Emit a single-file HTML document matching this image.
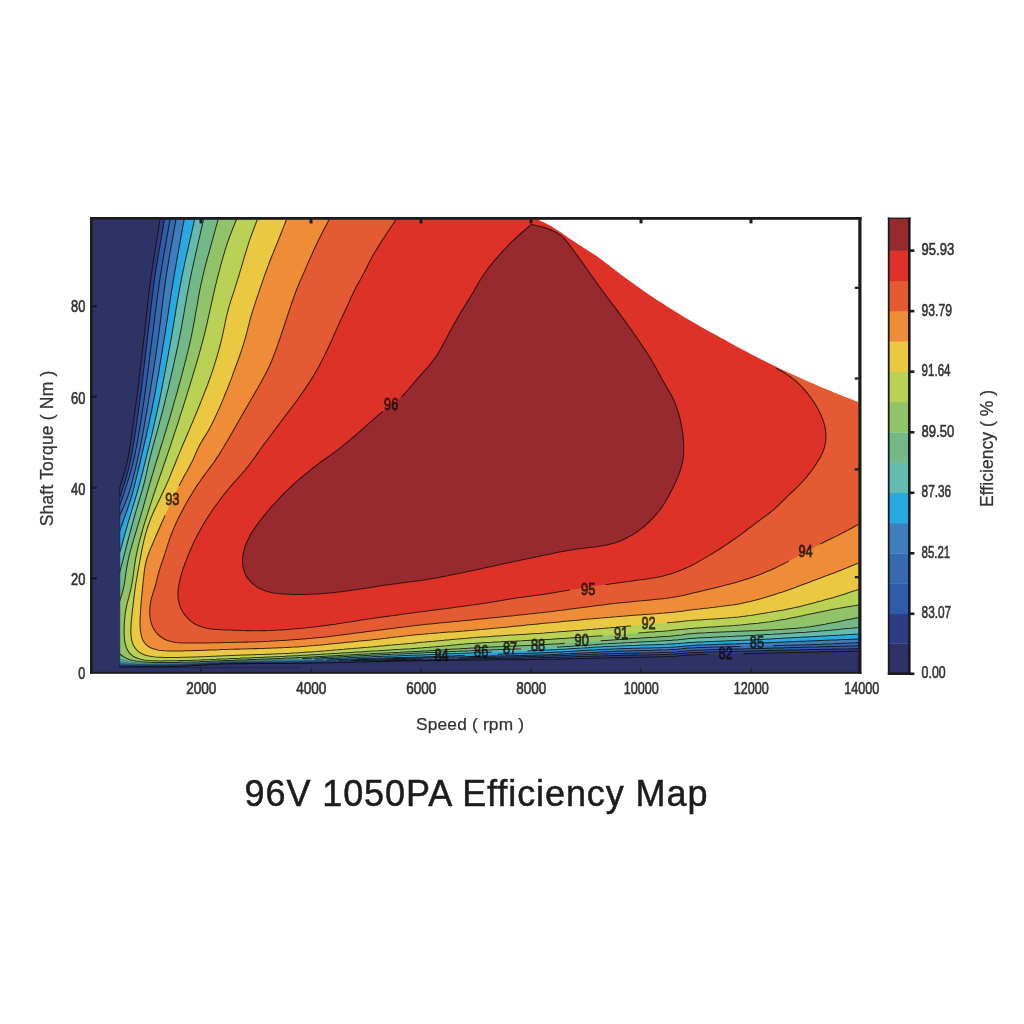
<!DOCTYPE html>
<html><head><meta charset="utf-8"><title>96V 1050PA Efficiency Map</title>
<style>html,body{margin:0;padding:0;background:#fff}svg{display:block}</style></head>
<body>
<svg width="1024" height="1024" viewBox="0 0 1024 1024">
<rect width="1024" height="1024" fill="#fff"/>
<clipPath id="pc"><rect x="91" y="218" width="769" height="455"/></clipPath>
<g clip-path="url(#pc)">
<rect x="91" y="218" width="769" height="455" fill="#2e3264"/>
<path d="M160.0 219.5 L159.5 222.5 L159.1 225.4 L158.6 228.4 L158.1 231.4 L157.6 234.4 L157.2 237.3 L156.7 240.3 L156.2 243.3 L155.7 246.2 L155.2 249.2 L154.8 252.2 L154.3 255.2 L153.8 258.1 L153.4 261.1 L152.9 264.1 L152.5 267.1 L152.0 270.0 L151.6 273.0 L151.2 276.0 L150.8 279.0 L150.4 282.0 L150.0 284.9 L149.6 287.9 L149.2 290.9 L148.9 293.9 L148.5 296.9 L148.2 299.9 L147.8 302.9 L147.5 305.9 L147.2 308.9 L146.9 311.8 L146.5 314.8 L146.2 317.8 L145.9 320.8 L145.6 323.8 L145.2 326.8 L144.9 329.8 L144.6 332.8 L144.2 335.8 L143.9 338.8 L143.5 341.8 L143.2 344.7 L142.8 347.7 L142.5 350.7 L142.1 353.7 L141.8 356.7 L141.4 359.7 L141.1 362.7 L140.7 365.7 L140.4 368.7 L140.0 371.6 L139.7 374.6 L139.3 377.6 L139.0 380.6 L138.6 383.6 L138.2 386.6 L137.9 389.6 L137.5 392.6 L137.1 395.5 L136.7 398.5 L136.3 401.5 L135.9 404.5 L135.5 407.5 L135.1 410.5 L134.7 413.4 L134.3 416.4 L133.9 419.4 L133.5 422.4 L133.1 425.4 L132.7 428.3 L132.3 431.3 L131.9 434.3 L131.5 437.3 L131.0 440.3 L130.6 443.2 L130.1 446.2 L129.6 449.2 L129.1 452.2 L128.6 455.1 L128.0 458.1 L127.4 461.0 L126.7 463.9 L126.0 466.8 L125.2 469.8 L124.4 472.6 L123.5 475.5 L122.7 478.4 L121.8 481.3 L120.9 484.2 L120.0 487.0 L119.7 488.0 L119.7 666.7 L122.7 666.7 L125.7 666.7 L128.7 666.8 L131.7 666.8 L134.7 666.8 L137.7 666.8 L140.7 666.8 L143.7 666.8 L146.7 666.8 L149.7 666.8 L152.7 666.8 L155.7 666.8 L158.7 666.8 L161.7 666.7 L164.7 666.7 L167.7 666.7 L170.7 666.6 L173.7 666.5 L176.7 666.5 L179.7 666.4 L182.7 666.2 L185.7 666.1 L188.7 665.9 L191.7 665.8 L194.7 665.6 L197.7 665.4 L200.7 665.2 L203.7 665.1 L206.7 664.9 L209.7 664.7 L212.7 664.6 L215.6 664.4 L218.6 664.3 L221.6 664.1 L224.6 664.0 L227.6 663.9 L230.6 663.8 L233.6 663.8 L236.6 663.7 L239.6 663.7 L242.6 663.6 L245.6 663.6 L248.6 663.6 L251.6 663.5 L254.6 663.5 L257.6 663.5 L260.6 663.5 L263.6 663.5 L266.6 663.5 L269.6 663.5 L272.6 663.5 L275.6 663.5 L278.6 663.5 L281.6 663.4 L284.6 663.4 L287.6 663.4 L290.6 663.4 L293.6 663.4 L296.6 663.3 L299.6 663.3 L302.6 663.3 L305.6 663.2 L308.6 663.2 L311.6 663.1 L314.6 663.0 L317.6 663.0 L320.6 662.9 L323.6 662.9 L326.6 662.8 L329.6 662.7 L332.6 662.7 L335.6 662.6 L338.6 662.5 L341.6 662.5 L344.6 662.4 L347.6 662.3 L350.6 662.2 L353.6 662.2 L356.6 662.1 L359.6 662.0 L362.6 662.0 L365.6 661.9 L368.6 661.8 L371.6 661.8 L374.6 661.7 L377.6 661.6 L380.6 661.6 L383.6 661.5 L386.6 661.4 L389.6 661.3 L392.6 661.3 L395.6 661.2 L398.6 661.1 L401.6 661.1 L404.6 661.0 L407.6 660.9 L410.6 660.9 L413.6 660.8 L416.6 660.8 L419.6 660.7 L422.6 660.7 L425.6 660.6 L428.6 660.6 L431.6 660.5 L434.6 660.5 L437.6 660.4 L440.6 660.4 L443.6 660.4 L446.6 660.3 L449.6 660.3 L452.6 660.3 L455.6 660.2 L458.6 660.2 L461.6 660.2 L464.6 660.1 L467.6 660.1 L470.6 660.1 L473.6 660.0 L476.6 660.0 L479.6 660.0 L482.6 659.9 L485.6 659.9 L488.6 659.9 L491.6 659.9 L494.6 659.8 L497.6 659.8 L500.6 659.8 L503.6 659.8 L506.6 659.7 L509.6 659.7 L512.6 659.7 L515.6 659.7 L518.6 659.6 L521.6 659.6 L524.6 659.6 L527.6 659.6 L530.6 659.5 L533.6 659.5 L536.6 659.5 L539.6 659.4 L542.6 659.4 L545.6 659.3 L548.6 659.3 L551.6 659.2 L554.6 659.2 L557.6 659.1 L560.6 659.1 L563.6 659.0 L566.6 658.9 L569.6 658.8 L572.6 658.8 L575.6 658.7 L578.6 658.6 L581.6 658.5 L584.6 658.5 L587.6 658.4 L590.6 658.3 L593.6 658.2 L596.6 658.1 L599.6 658.1 L602.6 658.0 L605.6 657.9 L608.6 657.8 L611.6 657.8 L614.6 657.7 L617.6 657.6 L620.6 657.6 L623.6 657.5 L626.6 657.5 L629.6 657.4 L632.6 657.3 L635.6 657.3 L638.6 657.2 L641.6 657.2 L644.6 657.1 L647.6 657.1 L650.6 657.0 L653.6 657.0 L656.6 656.9 L659.6 656.8 L662.6 656.7 L665.6 656.7 L668.6 656.6 L671.6 656.4 L674.6 656.3 L677.6 656.1 L680.6 655.8 L683.6 655.6 L686.5 655.3 L689.5 655.1 L692.5 654.9 L695.5 654.8 L698.5 654.6 L701.5 654.5 L704.5 654.5 L707.5 654.4 L710.5 654.3 L713.5 654.2 L716.5 654.2 L719.5 654.1 L722.5 654.0 L725.5 654.0 L728.5 653.9 L731.5 653.9 L734.5 653.8 L737.5 653.8 L740.5 653.7 L743.5 653.6 L746.5 653.6 L749.5 653.5 L752.5 653.5 L755.5 653.4 L758.5 653.3 L761.5 653.3 L764.5 653.2 L767.5 653.1 L770.5 653.0 L773.5 653.0 L776.5 652.9 L779.5 652.8 L782.5 652.7 L785.5 652.7 L788.5 652.6 L791.5 652.5 L794.5 652.4 L797.5 652.4 L800.5 652.3 L803.5 652.2 L806.5 652.2 L809.5 652.1 L812.5 652.0 L815.5 652.0 L818.5 651.9 L821.5 651.8 L824.5 651.8 L827.5 651.7 L830.5 651.7 L833.5 651.6 L836.5 651.6 L839.5 651.5 L842.5 651.5 L845.5 651.4 L848.5 651.4 L851.5 651.3 L854.5 651.3 L857.5 651.2 L858.5 651.2 L858.5 219.5Z" fill="#303c82"/>
<path d="M164.4 219.5 L163.9 222.5 L163.4 225.4 L162.9 228.4 L162.4 231.3 L161.9 234.3 L161.4 237.2 L160.9 240.2 L160.4 243.2 L159.9 246.1 L159.3 249.1 L158.8 252.0 L158.3 255.0 L157.9 257.9 L157.4 260.9 L156.9 263.9 L156.4 266.8 L155.9 269.8 L155.5 272.8 L155.0 275.7 L154.6 278.7 L154.2 281.7 L153.8 284.6 L153.4 287.6 L153.0 290.6 L152.6 293.6 L152.3 296.5 L151.9 299.5 L151.5 302.5 L151.2 305.5 L150.8 308.5 L150.5 311.4 L150.2 314.4 L149.8 317.4 L149.5 320.4 L149.2 323.4 L148.8 326.3 L148.5 329.3 L148.1 332.3 L147.8 335.3 L147.5 338.3 L147.1 341.2 L146.7 344.2 L146.4 347.2 L146.0 350.2 L145.7 353.2 L145.3 356.1 L145.0 359.1 L144.6 362.1 L144.3 365.1 L143.9 368.1 L143.6 371.0 L143.2 374.0 L142.9 377.0 L142.5 380.0 L142.1 383.0 L141.8 385.9 L141.4 388.9 L141.0 391.9 L140.6 394.9 L140.2 397.8 L139.8 400.8 L139.4 403.8 L139.0 406.7 L138.6 409.7 L138.2 412.7 L137.8 415.7 L137.3 418.6 L136.9 421.6 L136.5 424.6 L136.0 427.5 L135.6 430.5 L135.1 433.5 L134.7 436.4 L134.2 439.4 L133.7 442.4 L133.2 445.3 L132.7 448.3 L132.2 451.2 L131.7 454.2 L131.1 457.1 L130.5 460.1 L129.9 463.0 L129.2 465.9 L128.5 468.8 L127.8 471.7 L127.0 474.6 L126.2 477.5 L125.3 480.4 L124.4 483.3 L123.5 486.1 L122.6 489.0 L121.6 491.8 L120.7 494.7 L119.7 497.5 L119.7 497.5 L119.7 666.0 L122.7 666.1 L125.7 666.1 L128.7 666.2 L131.7 666.2 L134.7 666.2 L137.7 666.3 L140.7 666.3 L143.7 666.3 L146.7 666.3 L149.7 666.3 L152.7 666.3 L155.7 666.3 L158.7 666.3 L161.7 666.3 L164.7 666.2 L167.7 666.2 L170.7 666.1 L173.7 666.0 L176.7 666.0 L179.7 665.9 L182.7 665.7 L185.7 665.6 L188.7 665.5 L191.7 665.3 L194.7 665.1 L197.7 665.0 L200.7 664.8 L203.7 664.6 L206.7 664.5 L209.7 664.3 L212.7 664.1 L215.7 664.0 L218.7 663.9 L221.6 663.7 L224.6 663.6 L227.6 663.5 L230.6 663.4 L233.6 663.4 L236.6 663.3 L239.6 663.3 L242.6 663.2 L245.6 663.2 L248.6 663.2 L251.6 663.1 L254.6 663.1 L257.6 663.1 L260.6 663.1 L263.6 663.1 L266.6 663.1 L269.6 663.0 L272.6 663.0 L275.6 663.0 L278.6 663.0 L281.6 663.0 L284.6 663.0 L287.6 663.0 L290.6 662.9 L293.6 662.9 L296.7 662.8 L299.7 662.8 L302.6 662.7 L305.6 662.7 L308.6 662.6 L311.6 662.6 L314.6 662.5 L317.6 662.4 L320.6 662.3 L323.6 662.3 L326.6 662.2 L329.6 662.1 L332.6 662.0 L335.6 661.9 L338.6 661.8 L341.6 661.8 L344.6 661.7 L347.6 661.6 L350.6 661.5 L353.6 661.4 L356.6 661.3 L359.6 661.3 L362.6 661.2 L365.6 661.1 L368.6 661.0 L371.6 661.0 L374.6 660.9 L377.6 660.8 L380.6 660.8 L383.6 660.7 L386.6 660.6 L389.6 660.6 L392.6 660.5 L395.6 660.5 L398.6 660.4 L401.6 660.4 L404.6 660.3 L407.6 660.2 L410.6 660.2 L413.6 660.1 L416.6 660.1 L419.6 660.0 L422.6 659.9 L425.6 659.9 L428.6 659.8 L431.6 659.8 L434.6 659.7 L437.6 659.6 L440.6 659.6 L443.6 659.5 L446.6 659.4 L449.6 659.4 L452.6 659.3 L455.6 659.2 L458.6 659.2 L461.6 659.1 L464.6 659.0 L467.6 659.0 L470.6 658.9 L473.6 658.8 L476.6 658.8 L479.6 658.7 L482.6 658.7 L485.6 658.6 L488.6 658.6 L491.6 658.5 L494.6 658.5 L497.6 658.4 L500.6 658.4 L503.6 658.3 L506.6 658.3 L509.6 658.2 L512.6 658.2 L515.6 658.1 L518.6 658.1 L521.6 658.0 L524.6 658.0 L527.6 657.9 L530.6 657.9 L533.6 657.8 L536.6 657.7 L539.6 657.7 L542.6 657.6 L545.6 657.6 L548.6 657.5 L551.6 657.4 L554.6 657.3 L557.6 657.2 L560.6 657.2 L563.6 657.1 L566.6 657.0 L569.6 656.9 L572.6 656.8 L575.6 656.7 L578.6 656.6 L581.6 656.5 L584.6 656.4 L587.6 656.3 L590.6 656.2 L593.6 656.1 L596.6 656.1 L599.6 656.0 L602.6 655.9 L605.6 655.8 L608.6 655.7 L611.6 655.6 L614.6 655.5 L617.6 655.5 L620.6 655.4 L623.6 655.3 L626.6 655.3 L629.6 655.2 L632.6 655.1 L635.6 655.1 L638.6 655.0 L641.6 655.0 L644.6 654.9 L647.6 654.9 L650.6 654.8 L653.6 654.7 L656.6 654.7 L659.6 654.6 L662.6 654.5 L665.6 654.4 L668.6 654.3 L671.6 654.2 L674.6 654.0 L677.6 653.8 L680.6 653.6 L683.6 653.3 L686.5 653.1 L689.5 652.8 L692.5 652.6 L695.5 652.5 L698.5 652.4 L701.5 652.3 L704.5 652.2 L707.5 652.1 L710.5 652.0 L713.5 651.9 L716.5 651.8 L719.5 651.7 L722.5 651.7 L725.5 651.6 L728.5 651.5 L731.5 651.5 L734.5 651.4 L737.5 651.3 L740.5 651.3 L743.5 651.2 L746.5 651.1 L749.5 651.1 L752.5 651.0 L755.5 650.9 L758.5 650.8 L761.5 650.8 L764.5 650.7 L767.5 650.6 L770.5 650.5 L773.5 650.5 L776.5 650.4 L779.5 650.3 L782.5 650.2 L785.5 650.2 L788.5 650.1 L791.5 650.0 L794.5 649.9 L797.5 649.9 L800.5 649.8 L803.5 649.7 L806.5 649.7 L809.5 649.6 L812.5 649.5 L815.5 649.5 L818.5 649.4 L821.5 649.3 L824.5 649.3 L827.5 649.2 L830.5 649.2 L833.5 649.1 L836.5 649.1 L839.5 649.0 L842.5 649.0 L845.5 648.9 L848.5 648.9 L851.5 648.8 L854.5 648.8 L857.5 648.7 L858.5 648.7 L858.5 219.5Z" fill="#2f5ca8"/>
<path d="M170.0 219.5 L169.5 222.5 L169.0 225.4 L168.5 228.4 L168.0 231.3 L167.4 234.3 L166.9 237.2 L166.4 240.2 L165.9 243.1 L165.4 246.1 L164.9 249.1 L164.3 252.0 L163.8 255.0 L163.3 257.9 L162.8 260.9 L162.3 263.8 L161.8 266.8 L161.4 269.8 L160.9 272.7 L160.4 275.7 L160.0 278.7 L159.5 281.6 L159.1 284.6 L158.7 287.6 L158.3 290.5 L157.8 293.5 L157.4 296.5 L157.0 299.5 L156.7 302.4 L156.3 305.4 L155.9 308.4 L155.5 311.4 L155.1 314.3 L154.8 317.3 L154.4 320.3 L154.0 323.3 L153.7 326.2 L153.3 329.2 L152.9 332.2 L152.5 335.2 L152.1 338.1 L151.8 341.1 L151.4 344.1 L151.0 347.1 L150.6 350.1 L150.2 353.0 L149.9 356.0 L149.5 359.0 L149.1 362.0 L148.7 364.9 L148.4 367.9 L148.0 370.9 L147.6 373.9 L147.2 376.8 L146.9 379.8 L146.5 382.8 L146.1 385.8 L145.7 388.7 L145.3 391.7 L144.8 394.7 L144.4 397.7 L144.0 400.6 L143.5 403.6 L143.1 406.6 L142.6 409.5 L142.2 412.5 L141.7 415.4 L141.3 418.4 L140.8 421.4 L140.3 424.3 L139.8 427.3 L139.3 430.3 L138.8 433.2 L138.3 436.2 L137.8 439.1 L137.3 442.1 L136.7 445.0 L136.2 448.0 L135.6 450.9 L135.0 453.9 L134.4 456.8 L133.7 459.7 L133.0 462.6 L132.3 465.6 L131.6 468.5 L130.8 471.4 L129.9 474.2 L129.1 477.1 L128.2 480.0 L127.3 482.8 L126.4 485.7 L125.5 488.6 L124.6 491.4 L123.6 494.2 L122.6 497.1 L121.7 499.9 L120.7 502.8 L119.7 505.6 L119.7 505.6 L119.7 665.3 L122.7 665.4 L125.7 665.5 L128.7 665.6 L131.7 665.6 L134.7 665.7 L137.7 665.8 L140.7 665.8 L143.7 665.8 L146.7 665.8 L149.7 665.8 L152.7 665.8 L155.7 665.8 L158.7 665.8 L161.7 665.8 L164.7 665.7 L167.7 665.7 L170.7 665.6 L173.7 665.5 L176.7 665.5 L179.7 665.4 L182.7 665.3 L185.7 665.1 L188.7 665.0 L191.7 664.8 L194.7 664.7 L197.7 664.5 L200.7 664.4 L203.7 664.2 L206.7 664.0 L209.7 663.9 L212.7 663.7 L215.7 663.6 L218.7 663.5 L221.7 663.3 L224.7 663.2 L227.7 663.1 L230.7 663.0 L233.7 663.0 L236.7 662.9 L239.7 662.8 L242.7 662.8 L245.7 662.8 L248.7 662.7 L251.7 662.7 L254.7 662.7 L257.7 662.6 L260.7 662.6 L263.7 662.6 L266.7 662.6 L269.7 662.5 L272.7 662.5 L275.7 662.5 L278.7 662.5 L281.7 662.5 L284.7 662.4 L287.7 662.4 L290.7 662.4 L293.7 662.3 L296.7 662.3 L299.7 662.2 L302.7 662.1 L305.7 662.1 L308.7 662.0 L311.7 661.9 L314.7 661.8 L317.7 661.8 L320.7 661.7 L323.7 661.6 L326.7 661.5 L329.7 661.4 L332.7 661.3 L335.7 661.2 L338.7 661.1 L341.7 661.0 L344.7 661.0 L347.7 660.9 L350.7 660.8 L353.7 660.7 L356.7 660.6 L359.7 660.5 L362.7 660.4 L365.7 660.3 L368.7 660.2 L371.7 660.2 L374.7 660.1 L377.7 660.0 L380.7 659.9 L383.7 659.9 L386.7 659.8 L389.7 659.7 L392.7 659.6 L395.7 659.6 L398.7 659.5 L401.7 659.4 L404.7 659.4 L407.7 659.3 L410.6 659.2 L413.6 659.1 L416.6 659.1 L419.6 659.0 L422.6 658.9 L425.6 658.9 L428.6 658.8 L431.6 658.7 L434.6 658.7 L437.6 658.6 L440.6 658.5 L443.6 658.4 L446.6 658.4 L449.6 658.3 L452.6 658.2 L455.6 658.2 L458.6 658.1 L461.6 658.0 L464.6 658.0 L467.6 657.9 L470.6 657.8 L473.6 657.8 L476.6 657.7 L479.6 657.6 L482.6 657.5 L485.6 657.5 L488.6 657.4 L491.6 657.3 L494.6 657.3 L497.6 657.2 L500.6 657.2 L503.6 657.1 L506.6 657.0 L509.6 657.0 L512.6 656.9 L515.6 656.8 L518.6 656.8 L521.6 656.7 L524.6 656.6 L527.6 656.5 L530.6 656.5 L533.6 656.4 L536.6 656.3 L539.6 656.2 L542.6 656.2 L545.6 656.1 L548.6 656.0 L551.6 655.9 L554.6 655.8 L557.6 655.7 L560.6 655.6 L563.6 655.5 L566.6 655.4 L569.6 655.3 L572.6 655.1 L575.6 655.0 L578.6 654.9 L581.6 654.8 L584.6 654.7 L587.6 654.6 L590.6 654.5 L593.6 654.3 L596.6 654.2 L599.6 654.1 L602.6 654.0 L605.6 653.9 L608.6 653.8 L611.6 653.7 L614.6 653.6 L617.6 653.5 L620.6 653.5 L623.6 653.4 L626.6 653.3 L629.6 653.3 L632.6 653.2 L635.6 653.1 L638.6 653.1 L641.6 653.0 L644.6 653.0 L647.6 652.9 L650.6 652.8 L653.6 652.8 L656.6 652.7 L659.6 652.6 L662.6 652.5 L665.6 652.4 L668.6 652.3 L671.6 652.2 L674.6 652.0 L677.6 651.8 L680.6 651.5 L683.6 651.2 L686.6 650.9 L689.5 650.7 L692.5 650.5 L695.5 650.3 L698.5 650.2 L701.5 650.1 L704.5 650.0 L707.5 649.9 L710.5 649.8 L713.5 649.7 L716.5 649.6 L719.5 649.5 L722.5 649.4 L725.5 649.4 L728.5 649.3 L731.5 649.2 L734.5 649.1 L737.5 649.1 L740.5 649.0 L743.5 648.9 L746.5 648.8 L749.5 648.8 L752.5 648.7 L755.5 648.6 L758.5 648.5 L761.5 648.5 L764.5 648.4 L767.5 648.3 L770.5 648.2 L773.5 648.1 L776.5 648.0 L779.5 648.0 L782.5 647.9 L785.5 647.8 L788.5 647.7 L791.5 647.6 L794.5 647.5 L797.5 647.5 L800.5 647.4 L803.5 647.3 L806.5 647.2 L809.5 647.1 L812.5 647.0 L815.5 647.0 L818.5 646.9 L821.5 646.8 L824.5 646.7 L827.5 646.6 L830.5 646.6 L833.5 646.5 L836.5 646.4 L839.5 646.3 L842.5 646.2 L845.5 646.2 L848.5 646.1 L851.5 646.0 L854.5 645.9 L857.5 645.8 L858.5 645.8 L858.5 219.5Z" fill="#3769b1"/>
<path d="M175.9 219.5 L175.4 222.5 L174.9 225.4 L174.4 228.4 L173.8 231.3 L173.3 234.3 L172.8 237.2 L172.3 240.2 L171.8 243.2 L171.2 246.1 L170.7 249.1 L170.2 252.0 L169.7 255.0 L169.2 257.9 L168.7 260.9 L168.2 263.9 L167.7 266.8 L167.2 269.8 L166.7 272.7 L166.3 275.7 L165.8 278.7 L165.4 281.6 L165.0 284.6 L164.6 287.6 L164.2 290.6 L163.8 293.5 L163.4 296.5 L163.0 299.5 L162.7 302.5 L162.3 305.5 L161.9 308.4 L161.6 311.4 L161.2 314.4 L160.9 317.4 L160.5 320.4 L160.2 323.3 L159.8 326.3 L159.4 329.3 L159.0 332.3 L158.6 335.3 L158.2 338.2 L157.8 341.2 L157.4 344.2 L157.0 347.1 L156.5 350.1 L156.1 353.1 L155.7 356.1 L155.2 359.0 L154.8 362.0 L154.3 365.0 L153.9 367.9 L153.4 370.9 L152.9 373.9 L152.5 376.8 L152.0 379.8 L151.5 382.7 L151.0 385.7 L150.6 388.7 L150.1 391.6 L149.6 394.6 L149.1 397.6 L148.6 400.5 L148.1 403.5 L147.6 406.4 L147.1 409.4 L146.6 412.3 L146.0 415.3 L145.5 418.3 L145.0 421.2 L144.5 424.2 L144.0 427.1 L143.4 430.1 L142.9 433.0 L142.4 436.0 L141.8 438.9 L141.2 441.9 L140.7 444.8 L140.1 447.8 L139.5 450.7 L138.9 453.7 L138.2 456.6 L137.6 459.5 L136.9 462.4 L136.2 465.4 L135.6 468.3 L134.8 471.2 L134.1 474.1 L133.4 477.0 L132.6 479.9 L131.9 482.8 L131.1 485.7 L130.2 488.6 L129.4 491.5 L128.4 494.3 L127.5 497.2 L126.4 500.0 L125.3 502.8 L124.2 505.5 L123.0 508.3 L121.8 511.0 L120.5 513.8 L119.7 515.6 L119.7 664.5 L122.7 664.6 L125.7 664.7 L128.7 664.9 L131.7 665.0 L134.7 665.1 L137.7 665.1 L140.7 665.2 L143.7 665.2 L146.7 665.3 L149.7 665.3 L152.7 665.3 L155.7 665.3 L158.7 665.3 L161.7 665.2 L164.7 665.2 L167.7 665.2 L170.7 665.1 L173.7 665.0 L176.7 665.0 L179.7 664.9 L182.7 664.8 L185.7 664.7 L188.7 664.5 L191.7 664.4 L194.7 664.2 L197.7 664.1 L200.7 663.9 L203.7 663.8 L206.7 663.6 L209.7 663.5 L212.7 663.3 L215.7 663.2 L218.7 663.1 L221.7 662.9 L224.7 662.8 L227.7 662.7 L230.7 662.6 L233.7 662.6 L236.7 662.5 L239.7 662.4 L242.7 662.4 L245.7 662.3 L248.7 662.3 L251.7 662.2 L254.7 662.2 L257.7 662.1 L260.7 662.1 L263.7 662.1 L266.7 662.0 L269.7 662.0 L272.7 662.0 L275.7 661.9 L278.7 661.9 L281.7 661.8 L284.7 661.8 L287.7 661.7 L290.7 661.7 L293.7 661.6 L296.7 661.6 L299.7 661.5 L302.7 661.4 L305.7 661.4 L308.7 661.3 L311.7 661.2 L314.7 661.1 L317.7 661.0 L320.7 660.9 L323.7 660.8 L326.7 660.7 L329.7 660.6 L332.7 660.5 L335.7 660.4 L338.7 660.3 L341.7 660.2 L344.7 660.1 L347.7 660.0 L350.7 659.9 L353.7 659.8 L356.7 659.7 L359.7 659.6 L362.7 659.5 L365.7 659.4 L368.7 659.3 L371.7 659.3 L374.7 659.2 L377.7 659.1 L380.7 659.0 L383.7 658.9 L386.7 658.8 L389.7 658.8 L392.7 658.7 L395.7 658.6 L398.7 658.5 L401.7 658.5 L404.7 658.4 L407.7 658.3 L410.7 658.2 L413.7 658.2 L416.7 658.1 L419.7 658.0 L422.7 657.9 L425.7 657.8 L428.7 657.8 L431.7 657.7 L434.7 657.6 L437.7 657.5 L440.7 657.4 L443.7 657.4 L446.7 657.3 L449.7 657.2 L452.7 657.1 L455.7 657.0 L458.7 657.0 L461.7 656.9 L464.7 656.8 L467.7 656.7 L470.7 656.6 L473.7 656.6 L476.7 656.5 L479.7 656.4 L482.7 656.3 L485.7 656.3 L488.7 656.2 L491.7 656.1 L494.7 656.1 L497.7 656.0 L500.7 655.9 L503.7 655.9 L506.7 655.8 L509.7 655.8 L512.7 655.7 L515.7 655.6 L518.7 655.5 L521.7 655.5 L524.7 655.4 L527.7 655.3 L530.7 655.2 L533.7 655.2 L536.7 655.1 L539.7 655.0 L542.7 654.9 L545.7 654.8 L548.7 654.7 L551.7 654.5 L554.7 654.4 L557.7 654.3 L560.7 654.1 L563.7 654.0 L566.7 653.8 L569.7 653.7 L572.7 653.5 L575.7 653.4 L578.6 653.2 L581.6 653.0 L584.6 652.9 L587.6 652.7 L590.6 652.6 L593.6 652.4 L596.6 652.2 L599.6 652.1 L602.6 651.9 L605.6 651.8 L608.6 651.7 L611.6 651.5 L614.6 651.4 L617.6 651.3 L620.6 651.2 L623.6 651.1 L626.6 651.0 L629.6 650.9 L632.6 650.8 L635.6 650.8 L638.6 650.7 L641.6 650.6 L644.6 650.5 L647.6 650.4 L650.6 650.4 L653.6 650.3 L656.6 650.2 L659.6 650.1 L662.6 650.0 L665.6 649.9 L668.6 649.8 L671.6 649.6 L674.6 649.4 L677.6 649.2 L680.6 648.9 L683.6 648.6 L686.6 648.3 L689.5 648.1 L692.5 647.9 L695.5 647.7 L698.5 647.6 L701.5 647.5 L704.5 647.4 L707.5 647.3 L710.5 647.2 L713.5 647.1 L716.5 647.0 L719.5 647.0 L722.5 646.9 L725.5 646.8 L728.5 646.7 L731.5 646.7 L734.5 646.6 L737.5 646.5 L740.5 646.5 L743.5 646.4 L746.5 646.3 L749.5 646.3 L752.5 646.2 L755.5 646.1 L758.5 646.0 L761.5 646.0 L764.5 645.9 L767.5 645.8 L770.5 645.7 L773.5 645.6 L776.5 645.6 L779.5 645.5 L782.5 645.4 L785.5 645.3 L788.5 645.3 L791.5 645.2 L794.5 645.1 L797.5 645.0 L800.5 644.9 L803.5 644.9 L806.5 644.8 L809.5 644.7 L812.5 644.6 L815.5 644.5 L818.5 644.4 L821.5 644.3 L824.5 644.1 L827.5 644.0 L830.5 643.9 L833.5 643.8 L836.5 643.6 L839.5 643.5 L842.5 643.3 L845.5 643.2 L848.5 643.1 L851.5 642.9 L854.5 642.8 L857.5 642.6 L858.5 642.6 L858.5 219.5Z" fill="#3e7dbe"/>
<path d="M184.1 219.5 L183.6 222.5 L183.0 225.4 L182.5 228.4 L182.0 231.3 L181.5 234.3 L180.9 237.2 L180.4 240.2 L179.9 243.2 L179.3 246.1 L178.8 249.1 L178.3 252.0 L177.7 255.0 L177.2 258.0 L176.7 260.9 L176.2 263.9 L175.7 266.8 L175.1 269.8 L174.6 272.8 L174.1 275.7 L173.6 278.7 L173.1 281.7 L172.7 284.6 L172.2 287.6 L171.7 290.6 L171.2 293.5 L170.8 296.5 L170.3 299.5 L169.8 302.4 L169.4 305.4 L168.9 308.4 L168.5 311.3 L168.0 314.3 L167.6 317.3 L167.1 320.3 L166.7 323.2 L166.2 326.2 L165.7 329.2 L165.3 332.1 L164.8 335.1 L164.3 338.1 L163.8 341.0 L163.3 344.0 L162.9 347.0 L162.4 349.9 L161.9 352.9 L161.4 355.9 L160.9 358.8 L160.4 361.8 L159.9 364.8 L159.5 367.7 L159.0 370.7 L158.5 373.7 L158.0 376.6 L157.4 379.6 L156.9 382.5 L156.4 385.5 L155.9 388.5 L155.4 391.4 L154.8 394.4 L154.3 397.3 L153.7 400.3 L153.1 403.2 L152.5 406.2 L152.0 409.1 L151.4 412.1 L150.7 415.0 L150.1 418.0 L149.5 420.9 L148.9 423.8 L148.2 426.8 L147.6 429.7 L146.9 432.6 L146.3 435.6 L145.6 438.5 L144.9 441.4 L144.2 444.4 L143.6 447.3 L142.9 450.2 L142.2 453.1 L141.5 456.1 L140.8 459.0 L140.2 461.9 L139.5 464.8 L138.8 467.8 L138.1 470.7 L137.4 473.6 L136.7 476.5 L136.0 479.5 L135.3 482.4 L134.5 485.3 L133.8 488.2 L133.0 491.1 L132.2 494.0 L131.4 496.9 L130.5 499.8 L129.6 502.6 L128.7 505.5 L127.7 508.3 L126.7 511.2 L125.7 514.0 L124.7 516.8 L123.7 519.7 L122.7 522.5 L121.7 525.3 L120.7 528.2 L119.7 531.0 L119.7 531.0 L119.7 663.4 L122.7 663.6 L125.7 663.8 L128.7 663.9 L131.7 664.1 L134.7 664.3 L137.7 664.4 L140.7 664.5 L143.7 664.6 L146.7 664.6 L149.7 664.7 L152.7 664.7 L155.7 664.7 L158.7 664.7 L161.7 664.7 L164.7 664.7 L167.7 664.6 L170.7 664.6 L173.7 664.5 L176.7 664.5 L179.7 664.4 L182.7 664.3 L185.7 664.2 L188.7 664.1 L191.7 663.9 L194.7 663.8 L197.7 663.7 L200.7 663.5 L203.7 663.4 L206.7 663.2 L209.7 663.1 L212.7 662.9 L215.7 662.8 L218.7 662.7 L221.7 662.5 L224.7 662.4 L227.7 662.3 L230.7 662.2 L233.7 662.1 L236.7 662.1 L239.7 662.0 L242.7 661.9 L245.7 661.9 L248.7 661.8 L251.7 661.7 L254.7 661.7 L257.7 661.6 L260.7 661.6 L263.7 661.5 L266.7 661.5 L269.7 661.4 L272.7 661.4 L275.7 661.3 L278.7 661.3 L281.7 661.2 L284.7 661.2 L287.7 661.1 L290.7 661.0 L293.7 661.0 L296.7 660.9 L299.7 660.8 L302.7 660.7 L305.7 660.6 L308.7 660.5 L311.7 660.4 L314.7 660.3 L317.7 660.2 L320.7 660.1 L323.7 660.0 L326.7 659.9 L329.7 659.8 L332.7 659.7 L335.7 659.6 L338.7 659.4 L341.7 659.3 L344.7 659.2 L347.7 659.1 L350.7 659.0 L353.7 658.9 L356.7 658.8 L359.7 658.6 L362.7 658.5 L365.7 658.4 L368.7 658.3 L371.7 658.3 L374.7 658.2 L377.7 658.1 L380.7 658.0 L383.7 657.9 L386.7 657.8 L389.7 657.8 L392.7 657.7 L395.7 657.6 L398.7 657.6 L401.7 657.5 L404.7 657.4 L407.7 657.3 L410.7 657.3 L413.7 657.2 L416.7 657.1 L419.7 657.0 L422.7 656.9 L425.7 656.8 L428.7 656.7 L431.7 656.6 L434.7 656.5 L437.7 656.4 L440.7 656.3 L443.7 656.2 L446.7 656.1 L449.7 656.0 L452.7 655.9 L455.7 655.7 L458.7 655.6 L461.7 655.5 L464.7 655.4 L467.7 655.3 L470.7 655.2 L473.7 655.1 L476.7 655.0 L479.7 654.9 L482.7 654.8 L485.7 654.7 L488.7 654.6 L491.7 654.5 L494.7 654.4 L497.7 654.3 L500.7 654.2 L503.7 654.1 L506.7 654.0 L509.7 653.9 L512.7 653.8 L515.7 653.7 L518.7 653.6 L521.7 653.5 L524.7 653.4 L527.7 653.3 L530.7 653.2 L533.7 653.1 L536.7 653.0 L539.7 652.8 L542.7 652.7 L545.7 652.6 L548.7 652.5 L551.7 652.3 L554.7 652.2 L557.7 652.0 L560.7 651.9 L563.7 651.7 L566.7 651.5 L569.7 651.4 L572.7 651.2 L575.6 651.0 L578.6 650.8 L581.6 650.6 L584.6 650.5 L587.6 650.3 L590.6 650.1 L593.6 649.9 L596.6 649.8 L599.6 649.6 L602.6 649.5 L605.6 649.3 L608.6 649.2 L611.6 649.0 L614.6 648.9 L617.6 648.8 L620.6 648.7 L623.6 648.6 L626.6 648.5 L629.6 648.4 L632.6 648.3 L635.6 648.3 L638.6 648.2 L641.6 648.1 L644.6 648.0 L647.6 648.0 L650.6 647.9 L653.6 647.8 L656.6 647.7 L659.6 647.7 L662.6 647.6 L665.6 647.5 L668.6 647.4 L671.6 647.2 L674.6 647.0 L677.6 646.8 L680.6 646.5 L683.6 646.2 L686.6 645.9 L689.6 645.7 L692.5 645.5 L695.5 645.3 L698.5 645.1 L701.5 645.0 L704.5 644.9 L707.5 644.8 L710.5 644.7 L713.5 644.5 L716.5 644.4 L719.5 644.3 L722.5 644.2 L725.5 644.1 L728.5 644.1 L731.5 644.0 L734.5 643.9 L737.5 643.8 L740.5 643.7 L743.5 643.6 L746.5 643.5 L749.5 643.4 L752.5 643.3 L755.5 643.2 L758.5 643.1 L761.5 642.9 L764.5 642.8 L767.5 642.7 L770.5 642.6 L773.5 642.5 L776.5 642.3 L779.5 642.2 L782.5 642.1 L785.5 642.0 L788.5 641.8 L791.5 641.7 L794.5 641.6 L797.5 641.5 L800.5 641.3 L803.5 641.2 L806.5 641.1 L809.5 640.9 L812.5 640.8 L815.5 640.7 L818.5 640.6 L821.5 640.5 L824.5 640.3 L827.5 640.2 L830.5 640.1 L833.5 640.0 L836.5 639.9 L839.5 639.7 L842.5 639.6 L845.5 639.5 L848.5 639.4 L851.5 639.3 L854.5 639.2 L857.5 639.0 L858.5 639.0 L858.5 219.5Z" fill="#26aae1"/>
<path d="M194.6 219.5 L193.9 222.4 L193.3 225.4 L192.6 228.3 L192.0 231.2 L191.3 234.2 L190.6 237.1 L190.0 240.0 L189.3 242.9 L188.6 245.9 L188.0 248.8 L187.3 251.7 L186.6 254.7 L186.0 257.6 L185.3 260.5 L184.7 263.5 L184.1 266.4 L183.4 269.4 L182.8 272.3 L182.2 275.2 L181.6 278.2 L181.1 281.1 L180.5 284.1 L179.9 287.0 L179.4 290.0 L178.9 293.0 L178.3 295.9 L177.8 298.9 L177.3 301.8 L176.8 304.8 L176.3 307.8 L175.8 310.7 L175.4 313.7 L174.9 316.7 L174.4 319.6 L173.9 322.6 L173.4 325.6 L172.9 328.5 L172.4 331.5 L171.9 334.4 L171.4 337.4 L170.8 340.4 L170.3 343.3 L169.8 346.3 L169.2 349.2 L168.7 352.2 L168.2 355.1 L167.6 358.1 L167.1 361.1 L166.5 364.0 L166.0 367.0 L165.4 369.9 L164.9 372.9 L164.3 375.8 L163.8 378.8 L163.2 381.7 L162.6 384.7 L162.1 387.6 L161.5 390.6 L160.9 393.5 L160.3 396.5 L159.7 399.4 L159.1 402.4 L158.5 405.3 L157.8 408.2 L157.2 411.2 L156.5 414.1 L155.9 417.0 L155.2 420.0 L154.5 422.9 L153.9 425.8 L153.2 428.8 L152.5 431.7 L151.8 434.6 L151.1 437.5 L150.4 440.4 L149.7 443.4 L149.0 446.3 L148.3 449.2 L147.5 452.1 L146.8 455.0 L146.1 458.0 L145.4 460.9 L144.7 463.8 L143.9 466.7 L143.2 469.6 L142.5 472.5 L141.7 475.4 L141.0 478.4 L140.2 481.3 L139.4 484.2 L138.6 487.1 L137.8 490.0 L137.0 492.9 L136.2 495.7 L135.3 498.6 L134.5 501.5 L133.6 504.4 L132.7 507.3 L131.8 510.1 L131.0 513.0 L130.1 515.9 L129.3 518.8 L128.4 521.7 L127.6 524.5 L126.8 527.4 L126.0 530.3 L125.1 533.2 L124.3 536.1 L123.5 539.0 L122.7 541.9 L121.9 544.8 L121.1 547.7 L120.2 550.6 L119.7 552.5 L119.7 661.5 L122.7 662.0 L125.6 662.5 L128.6 663.0 L131.6 663.4 L134.5 663.7 L137.5 663.9 L140.5 664.1 L143.5 664.2 L146.5 664.2 L149.5 664.3 L152.5 664.3 L155.5 664.3 L158.5 664.3 L161.5 664.2 L164.6 664.2 L167.6 664.1 L170.6 664.1 L173.6 664.0 L176.6 664.0 L179.6 663.9 L182.6 663.8 L185.6 663.7 L188.6 663.6 L191.6 663.5 L194.6 663.3 L197.6 663.2 L200.6 663.1 L203.6 662.9 L206.6 662.8 L209.6 662.6 L212.6 662.5 L215.6 662.3 L218.6 662.2 L221.6 662.1 L224.6 661.9 L227.6 661.8 L230.6 661.7 L233.6 661.6 L236.6 661.5 L239.6 661.4 L242.6 661.4 L245.6 661.3 L248.6 661.2 L251.6 661.1 L254.6 661.0 L257.6 661.0 L260.6 660.9 L263.6 660.8 L266.6 660.7 L269.6 660.7 L272.6 660.6 L275.6 660.5 L278.6 660.4 L281.6 660.4 L284.6 660.3 L287.6 660.2 L290.6 660.1 L293.6 660.0 L296.6 659.9 L299.6 659.8 L302.6 659.7 L305.6 659.6 L308.6 659.5 L311.6 659.4 L314.6 659.2 L317.6 659.1 L320.6 659.0 L323.6 658.8 L326.6 658.7 L329.6 658.6 L332.6 658.4 L335.6 658.3 L338.6 658.2 L341.6 658.0 L344.6 657.9 L347.6 657.8 L350.6 657.6 L353.6 657.5 L356.6 657.4 L359.6 657.2 L362.6 657.1 L365.6 657.0 L368.6 656.9 L371.6 656.7 L374.6 656.6 L377.6 656.5 L380.6 656.4 L383.6 656.3 L386.6 656.2 L389.6 656.1 L392.6 656.0 L395.6 655.9 L398.6 655.8 L401.6 655.7 L404.6 655.6 L407.6 655.5 L410.6 655.3 L413.6 655.2 L416.6 655.1 L419.6 655.0 L422.6 654.9 L425.6 654.8 L428.6 654.7 L431.6 654.5 L434.6 654.4 L437.6 654.3 L440.6 654.2 L443.6 654.0 L446.6 653.9 L449.6 653.8 L452.6 653.7 L455.6 653.5 L458.6 653.4 L461.6 653.3 L464.6 653.2 L467.6 653.0 L470.6 652.9 L473.6 652.8 L476.6 652.7 L479.6 652.6 L482.6 652.5 L485.6 652.3 L488.6 652.2 L491.6 652.1 L494.6 652.0 L497.6 651.9 L500.6 651.8 L503.6 651.7 L506.6 651.6 L509.6 651.5 L512.6 651.4 L515.6 651.3 L518.6 651.2 L521.6 651.1 L524.6 651.0 L527.6 650.9 L530.6 650.7 L533.6 650.6 L536.6 650.5 L539.6 650.4 L542.6 650.2 L545.6 650.1 L548.6 650.0 L551.6 649.8 L554.6 649.7 L557.6 649.5 L560.6 649.3 L563.6 649.2 L566.6 649.0 L569.6 648.8 L572.6 648.6 L575.6 648.4 L578.6 648.2 L581.6 648.1 L584.6 647.9 L587.6 647.7 L590.6 647.5 L593.6 647.3 L596.6 647.1 L599.6 647.0 L602.6 646.8 L605.6 646.6 L608.6 646.5 L611.6 646.3 L614.6 646.2 L617.6 646.1 L620.6 645.9 L623.6 645.8 L626.6 645.7 L629.6 645.6 L632.6 645.5 L635.6 645.4 L638.6 645.2 L641.6 645.1 L644.6 645.0 L647.6 644.9 L650.6 644.8 L653.6 644.7 L656.6 644.6 L659.6 644.5 L662.6 644.4 L665.6 644.3 L668.6 644.1 L671.6 644.0 L674.6 643.8 L677.6 643.6 L680.6 643.3 L683.6 643.1 L686.6 642.8 L689.6 642.6 L692.6 642.4 L695.6 642.2 L698.6 642.0 L701.6 641.9 L704.6 641.8 L707.6 641.6 L710.6 641.5 L713.6 641.4 L716.6 641.3 L719.6 641.2 L722.6 641.0 L725.6 640.9 L728.6 640.8 L731.6 640.7 L734.6 640.6 L737.6 640.5 L740.6 640.3 L743.6 640.2 L746.6 640.1 L749.6 640.0 L752.6 639.8 L755.6 639.7 L758.6 639.6 L761.6 639.4 L764.6 639.3 L767.6 639.1 L770.6 639.0 L773.6 638.8 L776.6 638.6 L779.6 638.5 L782.5 638.3 L785.5 638.1 L788.5 638.0 L791.5 637.8 L794.5 637.6 L797.5 637.4 L800.5 637.3 L803.5 637.1 L806.5 636.9 L809.5 636.7 L812.5 636.6 L815.5 636.4 L818.5 636.2 L821.5 636.1 L824.5 635.9 L827.5 635.7 L830.5 635.6 L833.5 635.4 L836.5 635.2 L839.5 635.1 L842.5 634.9 L845.5 634.7 L848.5 634.6 L851.5 634.4 L854.5 634.2 L857.5 634.1 L858.5 634.0 L858.5 219.5Z" fill="#64bbad"/>
<path d="M203.5 219.5 L202.8 222.4 L202.2 225.4 L201.5 228.3 L200.8 231.2 L200.2 234.1 L199.5 237.1 L198.8 240.0 L198.2 242.9 L197.5 245.8 L196.8 248.8 L196.2 251.7 L195.5 254.6 L194.8 257.5 L194.2 260.5 L193.5 263.4 L192.9 266.3 L192.3 269.2 L191.6 272.2 L191.0 275.1 L190.4 278.1 L189.8 281.0 L189.2 283.9 L188.7 286.9 L188.1 289.8 L187.6 292.8 L187.0 295.7 L186.5 298.7 L186.0 301.6 L185.5 304.6 L184.9 307.6 L184.4 310.5 L183.9 313.5 L183.4 316.4 L182.9 319.4 L182.3 322.3 L181.8 325.3 L181.3 328.2 L180.7 331.2 L180.1 334.1 L179.6 337.1 L179.0 340.0 L178.4 342.9 L177.8 345.9 L177.1 348.8 L176.5 351.8 L175.9 354.7 L175.2 357.6 L174.6 360.5 L173.9 363.5 L173.3 366.4 L172.6 369.3 L172.0 372.3 L171.3 375.2 L170.6 378.1 L169.9 381.0 L169.2 383.9 L168.6 386.9 L167.9 389.8 L167.2 392.7 L166.4 395.6 L165.7 398.5 L165.0 401.4 L164.3 404.3 L163.6 407.3 L162.8 410.2 L162.1 413.1 L161.3 416.0 L160.5 418.9 L159.7 421.8 L159.0 424.7 L158.2 427.6 L157.4 430.4 L156.6 433.3 L155.8 436.2 L155.0 439.1 L154.2 442.0 L153.4 444.9 L152.6 447.8 L151.8 450.7 L151.1 453.6 L150.3 456.5 L149.6 459.4 L148.9 462.3 L148.2 465.3 L147.6 468.2 L146.9 471.1 L146.3 474.0 L145.6 477.0 L144.9 479.9 L144.2 482.8 L143.5 485.7 L142.7 488.6 L141.9 491.5 L141.0 494.4 L140.1 497.2 L139.3 500.1 L138.4 503.0 L137.5 505.8 L136.7 508.7 L135.8 511.6 L135.0 514.5 L134.2 517.4 L133.4 520.3 L132.6 523.2 L131.8 526.1 L131.0 529.0 L130.3 531.8 L129.5 534.7 L128.7 537.6 L128.0 540.5 L127.2 543.5 L126.4 546.4 L125.7 549.3 L124.9 552.2 L124.2 555.1 L123.4 558.0 L122.7 560.9 L121.9 563.8 L121.2 566.7 L120.4 569.6 L119.7 572.5 L119.7 572.5 L119.7 659.0 L122.5 660.0 L125.4 660.9 L128.3 661.6 L131.2 662.2 L134.2 662.6 L137.2 662.9 L140.2 663.0 L143.2 663.1 L146.2 663.2 L149.2 663.3 L152.2 663.3 L155.2 663.4 L158.2 663.4 L161.2 663.4 L164.2 663.4 L167.2 663.4 L170.2 663.4 L173.2 663.3 L176.2 663.3 L179.2 663.2 L182.2 663.1 L185.2 663.0 L188.2 662.9 L191.2 662.8 L194.2 662.7 L197.2 662.5 L200.2 662.4 L203.2 662.3 L206.2 662.1 L209.2 662.0 L212.2 661.9 L215.2 661.7 L218.2 661.6 L221.2 661.5 L224.2 661.4 L227.2 661.2 L230.2 661.1 L233.2 661.0 L236.2 660.9 L239.2 660.8 L242.2 660.7 L245.2 660.6 L248.2 660.5 L251.2 660.4 L254.2 660.3 L257.2 660.2 L260.2 660.1 L263.2 660.0 L266.2 659.9 L269.2 659.8 L272.2 659.7 L275.2 659.6 L278.2 659.5 L281.2 659.4 L284.2 659.3 L287.2 659.2 L290.2 659.1 L293.2 659.0 L296.2 658.9 L299.2 658.7 L302.2 658.6 L305.2 658.5 L308.2 658.3 L311.2 658.2 L314.2 658.1 L317.1 657.9 L320.1 657.8 L323.1 657.6 L326.1 657.5 L329.1 657.3 L332.1 657.2 L335.1 657.0 L338.1 656.9 L341.1 656.7 L344.1 656.6 L347.1 656.4 L350.1 656.3 L353.1 656.1 L356.1 656.0 L359.1 655.8 L362.1 655.7 L365.1 655.5 L368.1 655.4 L371.1 655.2 L374.1 655.1 L377.1 655.0 L380.1 654.8 L383.1 654.7 L386.1 654.5 L389.1 654.4 L392.1 654.3 L395.1 654.1 L398.1 654.0 L401.1 653.9 L404.1 653.7 L407.1 653.6 L410.1 653.4 L413.1 653.3 L416.1 653.2 L419.1 653.0 L422.1 652.9 L425.1 652.8 L428.1 652.6 L431.1 652.5 L434.1 652.4 L437.1 652.2 L440.1 652.1 L443.1 651.9 L446.1 651.8 L449.1 651.7 L452.1 651.5 L455.1 651.4 L458.1 651.3 L461.1 651.1 L464.1 651.0 L467.1 650.9 L470.1 650.8 L473.1 650.6 L476.1 650.5 L479.1 650.4 L482.1 650.3 L485.1 650.1 L488.1 650.0 L491.1 649.9 L494.1 649.8 L497.1 649.7 L500.1 649.6 L503.1 649.5 L506.1 649.4 L509.1 649.3 L512.1 649.2 L515.1 649.1 L518.1 649.0 L521.1 648.9 L524.1 648.8 L527.1 648.6 L530.0 648.5 L533.0 648.4 L536.0 648.3 L539.0 648.1 L542.0 648.0 L545.0 647.8 L548.0 647.7 L551.0 647.5 L554.0 647.4 L557.0 647.2 L560.0 647.0 L563.0 646.8 L566.0 646.6 L569.0 646.4 L572.0 646.2 L575.0 646.0 L578.0 645.8 L581.0 645.6 L584.0 645.4 L587.0 645.2 L590.0 645.0 L593.0 644.8 L596.0 644.5 L599.0 644.3 L602.0 644.1 L604.9 643.9 L607.9 643.8 L610.9 643.6 L613.9 643.4 L616.9 643.2 L619.9 643.1 L622.9 642.9 L625.9 642.7 L628.9 642.6 L631.9 642.4 L634.9 642.3 L637.9 642.1 L640.9 642.0 L643.9 641.8 L646.9 641.7 L649.9 641.5 L652.9 641.4 L655.9 641.2 L658.9 641.1 L661.9 640.9 L664.9 640.7 L667.9 640.5 L670.9 640.4 L673.9 640.1 L676.9 639.9 L679.9 639.6 L682.8 639.3 L685.8 638.9 L688.8 638.6 L691.8 638.4 L694.8 638.2 L697.8 638.0 L700.8 637.8 L703.8 637.7 L706.8 637.5 L709.8 637.4 L712.8 637.2 L715.8 637.1 L718.8 637.0 L721.8 636.8 L724.8 636.7 L727.8 636.6 L730.8 636.4 L733.8 636.3 L736.8 636.1 L739.8 636.0 L742.8 635.9 L745.8 635.7 L748.8 635.6 L751.8 635.4 L754.7 635.3 L757.7 635.1 L760.7 635.0 L763.7 634.8 L766.7 634.6 L769.7 634.4 L772.7 634.3 L775.7 634.1 L778.7 633.9 L781.7 633.7 L784.7 633.5 L787.7 633.3 L790.7 633.2 L793.7 633.0 L796.7 632.8 L799.7 632.6 L802.7 632.4 L805.7 632.2 L808.7 631.9 L811.7 631.7 L814.7 631.5 L817.7 631.3 L820.6 631.0 L823.6 630.8 L826.6 630.5 L829.6 630.3 L832.6 630.0 L835.6 629.7 L838.6 629.4 L841.6 629.1 L844.6 628.8 L847.5 628.5 L850.5 628.3 L853.5 628.0 L856.5 627.7 L858.5 627.5 L858.5 219.5Z" fill="#73b987"/>
<path d="M218.1 219.5 L217.3 222.4 L216.5 225.3 L215.7 228.2 L214.9 231.1 L214.1 234.0 L213.3 236.9 L212.5 239.8 L211.7 242.7 L210.9 245.5 L210.1 248.4 L209.3 251.3 L208.5 254.2 L207.7 257.1 L206.9 260.0 L206.1 262.9 L205.4 265.8 L204.6 268.7 L203.9 271.7 L203.2 274.6 L202.5 277.5 L201.9 280.4 L201.2 283.4 L200.6 286.3 L200.0 289.2 L199.4 292.2 L198.9 295.1 L198.3 298.1 L197.8 301.1 L197.3 304.0 L196.8 307.0 L196.3 309.9 L195.7 312.9 L195.2 315.9 L194.7 318.8 L194.2 321.8 L193.6 324.7 L193.1 327.7 L192.5 330.6 L191.9 333.6 L191.3 336.5 L190.7 339.4 L190.0 342.4 L189.3 345.3 L188.7 348.2 L188.0 351.1 L187.2 354.1 L186.5 357.0 L185.8 359.9 L185.0 362.8 L184.3 365.7 L183.5 368.6 L182.7 371.5 L182.0 374.4 L181.2 377.3 L180.4 380.2 L179.6 383.1 L178.8 386.0 L178.0 388.9 L177.2 391.8 L176.4 394.7 L175.6 397.6 L174.7 400.4 L173.9 403.3 L173.1 406.2 L172.3 409.1 L171.4 412.0 L170.6 414.9 L169.7 417.8 L168.9 420.6 L168.0 423.5 L167.2 426.4 L166.3 429.3 L165.4 432.1 L164.5 435.0 L163.7 437.9 L162.8 440.8 L161.9 443.6 L161.0 446.5 L160.1 449.4 L159.3 452.2 L158.4 455.1 L157.5 458.0 L156.6 460.9 L155.8 463.7 L154.9 466.6 L154.0 469.5 L153.2 472.4 L152.3 475.2 L151.4 478.1 L150.6 481.0 L149.8 483.9 L148.9 486.8 L148.1 489.7 L147.3 492.6 L146.5 495.4 L145.7 498.3 L144.9 501.2 L144.1 504.1 L143.3 507.0 L142.5 509.9 L141.6 512.8 L140.8 515.7 L139.9 518.6 L139.1 521.4 L138.2 524.3 L137.3 527.2 L136.5 530.1 L135.6 532.9 L134.8 535.8 L133.9 538.7 L133.1 541.6 L132.2 544.5 L131.4 547.4 L130.6 550.2 L129.8 553.1 L129.1 556.1 L128.4 559.0 L127.8 561.9 L127.2 564.9 L126.7 567.8 L126.2 570.8 L125.8 573.7 L125.4 576.7 L125.0 579.7 L124.5 582.7 L124.0 585.6 L123.4 588.5 L122.6 591.4 L121.8 594.3 L120.9 597.2 L120.0 600.0 L119.7 601.0 L119.7 654.0 L122.2 655.7 L124.7 657.4 L127.3 658.8 L130.0 659.8 L132.9 660.6 L135.8 661.1 L138.8 661.5 L141.8 661.8 L144.8 662.0 L147.8 662.2 L150.8 662.3 L153.8 662.4 L156.8 662.4 L159.8 662.4 L162.8 662.5 L165.8 662.5 L168.8 662.4 L171.8 662.4 L174.8 662.4 L177.8 662.4 L180.8 662.3 L183.8 662.3 L186.8 662.2 L189.8 662.1 L192.8 662.0 L195.8 661.9 L198.8 661.8 L201.8 661.6 L204.8 661.5 L207.8 661.4 L210.8 661.2 L213.8 661.1 L216.8 661.0 L219.8 660.8 L222.8 660.7 L225.8 660.6 L228.8 660.5 L231.8 660.4 L234.8 660.2 L237.8 660.1 L240.8 660.0 L243.8 659.9 L246.8 659.8 L249.8 659.6 L252.8 659.5 L255.8 659.4 L258.8 659.3 L261.8 659.2 L264.8 659.0 L267.8 658.9 L270.8 658.8 L273.8 658.7 L276.8 658.5 L279.8 658.4 L282.8 658.3 L285.8 658.1 L288.8 658.0 L291.8 657.9 L294.8 657.7 L297.8 657.6 L300.8 657.5 L303.8 657.3 L306.8 657.2 L309.8 657.0 L312.8 656.9 L315.8 656.7 L318.8 656.5 L321.8 656.4 L324.8 656.2 L327.8 656.1 L330.8 655.9 L333.8 655.7 L336.8 655.6 L339.8 655.4 L342.8 655.2 L345.8 655.1 L348.8 654.9 L351.8 654.7 L354.8 654.6 L357.8 654.4 L360.8 654.2 L363.8 654.1 L366.8 653.9 L369.8 653.8 L372.8 653.6 L375.8 653.5 L378.8 653.3 L381.8 653.2 L384.8 653.0 L387.8 652.9 L390.8 652.7 L393.8 652.6 L396.8 652.4 L399.8 652.3 L402.8 652.1 L405.8 652.0 L408.8 651.8 L411.8 651.7 L414.8 651.5 L417.8 651.4 L420.8 651.2 L423.8 651.0 L426.8 650.9 L429.8 650.7 L432.8 650.5 L435.8 650.3 L438.8 650.1 L441.8 649.9 L444.8 649.7 L447.8 649.5 L450.8 649.3 L453.8 649.1 L456.8 648.9 L459.8 648.8 L462.8 648.6 L465.8 648.4 L468.7 648.2 L471.7 648.0 L474.7 647.9 L477.7 647.7 L480.7 647.6 L483.7 647.4 L486.7 647.3 L489.7 647.1 L492.7 647.0 L495.7 646.8 L498.7 646.7 L501.7 646.6 L504.7 646.4 L507.7 646.3 L510.7 646.2 L513.7 646.1 L516.7 645.9 L519.7 645.8 L522.7 645.7 L525.7 645.5 L528.7 645.4 L531.7 645.2 L534.7 645.1 L537.7 644.9 L540.7 644.8 L543.7 644.6 L546.7 644.5 L549.7 644.3 L552.7 644.1 L555.7 643.9 L558.7 643.7 L561.7 643.5 L564.7 643.3 L567.7 643.1 L570.7 642.9 L573.7 642.7 L576.7 642.5 L579.7 642.3 L582.7 642.1 L585.7 641.9 L588.7 641.7 L591.7 641.4 L594.7 641.2 L597.7 641.0 L600.7 640.8 L603.7 640.6 L606.7 640.4 L609.7 640.2 L612.6 640.0 L615.6 639.8 L618.6 639.6 L621.6 639.4 L624.6 639.2 L627.6 639.0 L630.6 638.8 L633.6 638.6 L636.6 638.4 L639.6 638.2 L642.6 638.0 L645.6 637.8 L648.6 637.6 L651.6 637.5 L654.6 637.3 L657.6 637.0 L660.6 636.8 L663.6 636.6 L666.6 636.4 L669.6 636.2 L672.6 635.9 L675.6 635.6 L678.5 635.2 L681.5 634.9 L684.5 634.5 L687.5 634.1 L690.5 633.8 L693.4 633.5 L696.4 633.3 L699.4 633.1 L702.4 632.9 L705.4 632.8 L708.4 632.6 L711.4 632.5 L714.4 632.3 L717.4 632.2 L720.4 632.1 L723.4 632.0 L726.4 631.8 L729.4 631.7 L732.4 631.6 L735.4 631.5 L738.4 631.3 L741.4 631.2 L744.4 631.1 L747.4 631.0 L750.4 630.8 L753.4 630.7 L756.4 630.6 L759.4 630.5 L762.4 630.3 L765.4 630.2 L768.4 630.0 L771.4 629.9 L774.4 629.7 L777.4 629.6 L780.4 629.4 L783.4 629.2 L786.4 629.0 L789.4 628.8 L792.4 628.6 L795.4 628.4 L798.4 628.1 L801.4 627.8 L804.4 627.5 L807.4 627.1 L810.3 626.7 L813.3 626.2 L816.3 625.8 L819.2 625.2 L822.2 624.7 L825.1 624.2 L828.1 623.6 L831.0 623.1 L834.0 622.5 L836.9 621.9 L839.9 621.3 L842.8 620.7 L845.8 620.1 L848.7 619.5 L851.6 618.9 L854.6 618.3 L857.5 617.7 L858.5 617.5 L858.5 219.5Z" fill="#91c369"/>
<path d="M236.5 219.5 L235.4 222.3 L234.2 225.1 L233.1 227.8 L232.0 230.6 L230.9 233.4 L229.8 236.2 L228.8 239.0 L227.8 241.9 L226.8 244.7 L225.9 247.6 L225.0 250.4 L224.2 253.3 L223.3 256.2 L222.5 259.1 L221.7 262.0 L220.9 264.9 L220.1 267.8 L219.4 270.7 L218.6 273.6 L217.8 276.5 L217.1 279.4 L216.4 282.3 L215.6 285.2 L214.9 288.1 L214.3 291.1 L213.6 294.0 L212.9 296.9 L212.3 299.8 L211.6 302.8 L211.0 305.7 L210.3 308.6 L209.7 311.6 L209.0 314.5 L208.4 317.4 L207.7 320.4 L207.1 323.3 L206.4 326.2 L205.7 329.1 L205.0 332.1 L204.3 335.0 L203.5 337.9 L202.8 340.8 L202.0 343.7 L201.2 346.6 L200.4 349.5 L199.6 352.4 L198.8 355.3 L198.0 358.1 L197.1 361.0 L196.3 363.9 L195.4 366.8 L194.6 369.7 L193.7 372.5 L192.8 375.4 L192.0 378.3 L191.1 381.2 L190.2 384.0 L189.3 386.9 L188.4 389.8 L187.5 392.6 L186.7 395.5 L185.8 398.4 L184.9 401.2 L184.0 404.1 L183.1 407.0 L182.2 409.8 L181.2 412.7 L180.3 415.5 L179.4 418.4 L178.5 421.3 L177.6 424.1 L176.6 427.0 L175.7 429.8 L174.7 432.7 L173.8 435.5 L172.9 438.4 L171.9 441.2 L171.0 444.1 L170.0 446.9 L169.0 449.8 L168.1 452.6 L167.1 455.4 L166.2 458.3 L165.2 461.1 L164.2 464.0 L163.2 466.8 L162.3 469.6 L161.3 472.5 L160.3 475.3 L159.3 478.1 L158.3 481.0 L157.3 483.8 L156.4 486.7 L155.4 489.5 L154.5 492.4 L153.5 495.2 L152.6 498.1 L151.7 500.9 L150.7 503.8 L149.8 506.6 L148.9 509.5 L148.0 512.4 L147.1 515.2 L146.2 518.1 L145.3 520.9 L144.4 523.8 L143.5 526.7 L142.7 529.6 L141.9 532.5 L141.1 535.3 L140.3 538.2 L139.5 541.1 L138.8 544.1 L138.1 547.0 L137.4 549.9 L136.8 552.8 L136.2 555.8 L135.7 558.7 L135.2 561.7 L134.7 564.7 L134.3 567.6 L133.9 570.6 L133.5 573.6 L133.0 576.6 L132.6 579.5 L132.1 582.5 L131.6 585.4 L131.0 588.4 L130.3 591.3 L129.6 594.2 L128.8 597.1 L128.1 600.0 L127.3 602.9 L126.6 605.8 L126.0 608.8 L125.5 611.7 L125.1 614.7 L124.8 617.7 L124.5 620.7 L124.3 623.6 L124.2 626.6 L124.1 629.6 L124.1 632.6 L124.2 635.6 L124.4 638.6 L124.8 641.6 L125.4 644.4 L126.3 647.2 L127.4 649.9 L129.0 652.3 L130.9 654.4 L133.1 656.2 L135.6 657.6 L138.3 658.6 L141.1 659.4 L144.0 659.9 L147.0 660.3 L150.0 660.6 L153.0 660.7 L156.0 660.8 L159.0 660.9 L162.0 660.9 L165.0 660.8 L168.0 660.8 L171.0 660.8 L174.0 660.7 L177.0 660.7 L180.0 660.6 L183.0 660.6 L186.0 660.5 L189.0 660.4 L192.0 660.3 L195.0 660.2 L198.0 660.1 L201.0 659.9 L204.0 659.8 L207.0 659.7 L210.0 659.6 L213.0 659.4 L216.0 659.3 L219.0 659.1 L222.0 659.0 L225.0 658.9 L228.0 658.8 L231.0 658.6 L234.0 658.5 L237.0 658.4 L240.0 658.3 L243.0 658.1 L246.0 658.0 L249.0 657.9 L252.0 657.7 L255.0 657.6 L258.0 657.5 L261.0 657.4 L264.0 657.2 L267.0 657.1 L270.0 657.0 L273.0 656.8 L276.0 656.7 L279.0 656.5 L282.0 656.4 L285.0 656.3 L287.9 656.1 L290.9 656.0 L293.9 655.8 L296.9 655.7 L299.9 655.5 L302.9 655.3 L305.9 655.2 L308.9 655.0 L311.9 654.8 L314.9 654.7 L317.9 654.5 L320.9 654.3 L323.9 654.1 L326.9 654.0 L329.9 653.8 L332.9 653.6 L335.9 653.4 L338.9 653.2 L341.9 653.0 L344.9 652.8 L347.9 652.7 L350.9 652.5 L353.9 652.3 L356.9 652.1 L359.9 651.9 L362.9 651.7 L365.9 651.5 L368.9 651.3 L371.9 651.1 L374.9 650.9 L377.9 650.8 L380.9 650.6 L383.8 650.4 L386.8 650.2 L389.8 650.0 L392.8 649.8 L395.8 649.6 L398.8 649.5 L401.8 649.3 L404.8 649.1 L407.8 648.9 L410.8 648.7 L413.8 648.4 L416.8 648.2 L419.8 648.0 L422.8 647.8 L425.8 647.5 L428.8 647.3 L431.8 647.0 L434.8 646.8 L437.7 646.5 L440.7 646.2 L443.7 645.9 L446.7 645.7 L449.7 645.4 L452.7 645.1 L455.7 644.9 L458.7 644.6 L461.7 644.3 L464.7 644.1 L467.7 643.8 L470.6 643.6 L473.6 643.4 L476.6 643.2 L479.6 643.0 L482.6 642.8 L485.6 642.6 L488.6 642.4 L491.6 642.3 L494.6 642.1 L497.6 641.9 L500.6 641.8 L503.6 641.6 L506.6 641.5 L509.6 641.3 L512.6 641.2 L515.6 641.1 L518.6 640.9 L521.6 640.8 L524.6 640.6 L527.6 640.5 L530.6 640.3 L533.6 640.2 L536.6 640.0 L539.6 639.9 L542.6 639.7 L545.6 639.5 L548.6 639.4 L551.6 639.2 L554.6 639.0 L557.6 638.8 L560.6 638.6 L563.6 638.4 L566.6 638.2 L569.6 638.0 L572.6 637.8 L575.5 637.6 L578.5 637.4 L581.5 637.2 L584.5 637.0 L587.5 636.8 L590.5 636.6 L593.5 636.3 L596.5 636.1 L599.5 635.9 L602.5 635.7 L605.5 635.5 L608.5 635.3 L611.5 635.0 L614.5 634.8 L617.5 634.6 L620.5 634.4 L623.5 634.2 L626.5 633.9 L629.4 633.7 L632.4 633.5 L635.4 633.3 L638.4 633.0 L641.4 632.8 L644.4 632.6 L647.4 632.3 L650.4 632.1 L653.4 631.9 L656.4 631.6 L659.4 631.4 L662.4 631.2 L665.4 630.9 L668.4 630.7 L671.3 630.4 L674.3 630.1 L677.3 629.8 L680.3 629.5 L683.3 629.2 L686.3 628.9 L689.3 628.6 L692.3 628.4 L695.3 628.1 L698.2 627.9 L701.2 627.7 L704.2 627.5 L707.2 627.3 L710.2 627.1 L713.2 626.9 L716.2 626.7 L719.2 626.5 L722.2 626.3 L725.2 626.1 L728.2 625.9 L731.2 625.7 L734.2 625.5 L737.2 625.2 L740.2 625.0 L743.2 624.7 L746.2 624.4 L749.1 624.1 L752.1 623.8 L755.1 623.5 L758.1 623.2 L761.1 622.8 L764.1 622.4 L767.0 622.1 L770.0 621.7 L773.0 621.2 L776.0 620.8 L778.9 620.3 L781.9 619.8 L784.8 619.3 L787.8 618.7 L790.7 618.1 L793.7 617.5 L796.6 616.9 L799.5 616.3 L802.5 615.7 L805.4 615.0 L808.3 614.4 L811.3 613.8 L814.2 613.2 L817.2 612.6 L820.1 612.0 L823.0 611.4 L826.0 610.8 L828.9 610.2 L831.9 609.6 L834.8 609.0 L837.8 608.5 L840.7 607.9 L843.7 607.4 L846.6 606.9 L849.6 606.4 L852.6 605.9 L855.5 605.5 L858.5 605.0 L858.5 605.0 L858.5 219.5Z" fill="#b9d255"/>
<path d="M257.4 219.5 L256.3 222.3 L255.2 225.1 L254.1 227.9 L253.1 230.7 L252.0 233.5 L251.0 236.3 L250.0 239.2 L249.0 242.0 L248.1 244.8 L247.2 247.7 L246.3 250.6 L245.4 253.5 L244.6 256.3 L243.7 259.2 L242.9 262.1 L242.0 265.0 L241.2 267.9 L240.3 270.7 L239.5 273.6 L238.6 276.5 L237.7 279.3 L236.8 282.2 L235.9 285.1 L235.0 287.9 L234.1 290.8 L233.2 293.6 L232.2 296.5 L231.3 299.3 L230.4 302.2 L229.5 305.1 L228.6 308.0 L227.9 310.8 L227.1 313.8 L226.4 316.7 L225.8 319.6 L225.2 322.5 L224.6 325.5 L224.0 328.4 L223.4 331.4 L222.7 334.3 L222.1 337.2 L221.4 340.2 L220.7 343.1 L219.9 346.0 L219.1 348.9 L218.3 351.8 L217.5 354.6 L216.7 357.5 L215.8 360.4 L214.9 363.3 L214.0 366.1 L213.1 369.0 L212.2 371.8 L211.2 374.7 L210.2 377.5 L209.2 380.3 L208.1 383.2 L207.1 386.0 L206.0 388.8 L204.9 391.6 L203.8 394.4 L202.7 397.2 L201.6 399.9 L200.5 402.7 L199.4 405.5 L198.2 408.3 L197.1 411.1 L196.0 413.8 L194.8 416.6 L193.7 419.4 L192.5 422.2 L191.3 424.9 L190.2 427.7 L189.0 430.4 L187.8 433.2 L186.6 436.0 L185.5 438.7 L184.3 441.5 L183.1 444.3 L181.9 447.0 L180.8 449.8 L179.6 452.6 L178.5 455.3 L177.3 458.1 L176.2 460.9 L175.1 463.7 L173.9 466.5 L172.8 469.2 L171.7 472.0 L170.6 474.8 L169.5 477.6 L168.3 480.4 L167.1 483.1 L165.9 485.9 L164.7 488.6 L163.4 491.3 L162.1 494.0 L160.8 496.7 L159.5 499.4 L158.2 502.1 L156.9 504.9 L155.6 507.6 L154.3 510.3 L153.1 513.0 L151.9 515.8 L150.7 518.5 L149.7 521.3 L148.7 524.2 L147.7 527.0 L146.8 529.9 L146.0 532.7 L145.2 535.6 L144.4 538.5 L143.7 541.5 L143.1 544.4 L142.4 547.3 L141.8 550.3 L141.3 553.2 L140.7 556.2 L140.2 559.1 L139.6 562.1 L139.1 565.0 L138.5 568.0 L138.0 570.9 L137.5 573.9 L137.0 576.8 L136.5 579.8 L136.0 582.8 L135.5 585.7 L135.1 588.7 L134.7 591.7 L134.3 594.6 L133.9 597.6 L133.6 600.6 L133.2 603.6 L132.9 606.6 L132.5 609.5 L132.2 612.5 L131.9 615.5 L131.6 618.5 L131.3 621.5 L131.1 624.5 L130.9 627.5 L130.8 630.5 L130.9 633.4 L131.1 636.4 L131.5 639.3 L132.3 642.2 L133.3 644.9 L134.7 647.4 L136.5 649.6 L138.5 651.6 L140.9 653.2 L143.5 654.5 L146.3 655.4 L149.1 656.1 L152.1 656.6 L155.0 657.0 L158.0 657.2 L161.0 657.3 L164.0 657.4 L167.0 657.5 L170.0 657.5 L173.0 657.5 L176.0 657.4 L179.0 657.4 L182.0 657.3 L185.0 657.2 L188.0 657.2 L191.0 657.1 L194.0 657.0 L197.0 656.9 L200.0 656.8 L203.0 656.7 L206.0 656.6 L209.0 656.4 L212.0 656.3 L215.0 656.2 L218.0 656.0 L221.0 655.9 L224.0 655.8 L227.0 655.7 L230.0 655.5 L233.0 655.4 L236.0 655.3 L239.0 655.2 L242.0 655.1 L245.0 655.0 L248.0 654.9 L251.0 654.8 L254.0 654.7 L257.0 654.6 L260.0 654.5 L263.0 654.4 L266.0 654.3 L269.0 654.2 L272.0 654.1 L275.0 654.0 L278.0 653.8 L281.0 653.7 L284.0 653.6 L287.0 653.4 L290.0 653.3 L293.0 653.1 L296.0 652.9 L299.0 652.7 L302.0 652.5 L305.0 652.3 L308.0 652.1 L311.0 651.9 L314.0 651.7 L317.0 651.5 L320.0 651.2 L323.0 651.0 L325.9 650.8 L328.9 650.5 L331.9 650.3 L334.9 650.0 L337.9 649.8 L340.9 649.5 L343.9 649.3 L346.9 649.0 L349.9 648.7 L352.9 648.5 L355.9 648.2 L358.8 648.0 L361.8 647.7 L364.8 647.4 L367.8 647.2 L370.8 646.9 L373.8 646.7 L376.8 646.4 L379.8 646.1 L382.8 645.9 L385.8 645.6 L388.8 645.3 L391.7 645.1 L394.7 644.8 L397.7 644.5 L400.7 644.3 L403.7 644.0 L406.7 643.7 L409.7 643.4 L412.7 643.2 L415.7 642.9 L418.6 642.6 L421.6 642.3 L424.6 642.1 L427.6 641.8 L430.6 641.5 L433.6 641.3 L436.6 641.0 L439.6 640.7 L442.6 640.4 L445.6 640.1 L448.5 639.9 L451.5 639.6 L454.5 639.3 L457.5 639.1 L460.5 638.8 L463.5 638.5 L466.5 638.3 L469.5 638.0 L472.5 637.8 L475.5 637.6 L478.5 637.3 L481.4 637.1 L484.4 636.9 L487.4 636.7 L490.4 636.5 L493.4 636.3 L496.4 636.1 L499.4 635.9 L502.4 635.7 L505.4 635.5 L508.4 635.3 L511.4 635.1 L514.4 634.9 L517.4 634.7 L520.4 634.5 L523.4 634.4 L526.4 634.2 L529.4 634.0 L532.4 633.8 L535.4 633.6 L538.4 633.4 L541.4 633.2 L544.3 633.0 L547.3 632.7 L550.3 632.5 L553.3 632.3 L556.3 632.1 L559.3 631.8 L562.3 631.6 L565.3 631.4 L568.3 631.1 L571.3 630.9 L574.3 630.6 L577.3 630.4 L580.3 630.2 L583.3 629.9 L586.2 629.7 L589.2 629.4 L592.2 629.2 L595.2 628.9 L598.2 628.7 L601.2 628.4 L604.2 628.2 L607.2 627.9 L610.2 627.7 L613.2 627.4 L616.2 627.2 L619.2 626.9 L622.1 626.6 L625.1 626.4 L628.1 626.1 L631.1 625.9 L634.1 625.6 L637.1 625.4 L640.1 625.1 L643.1 624.9 L646.1 624.6 L649.1 624.4 L652.1 624.1 L655.0 623.9 L658.0 623.6 L661.0 623.3 L664.0 623.1 L667.0 622.8 L670.0 622.5 L673.0 622.3 L676.0 622.0 L679.0 621.7 L682.0 621.4 L684.9 621.1 L687.9 620.8 L690.9 620.6 L693.9 620.3 L696.9 620.1 L699.9 619.9 L702.9 619.7 L705.9 619.5 L708.9 619.3 L711.9 619.1 L714.9 618.9 L717.9 618.7 L720.9 618.5 L723.9 618.3 L726.9 618.1 L729.8 617.8 L732.8 617.6 L735.8 617.3 L738.8 617.0 L741.8 616.6 L744.8 616.2 L747.7 615.8 L750.7 615.4 L753.7 614.9 L756.6 614.4 L759.6 613.9 L762.6 613.4 L765.5 612.9 L768.5 612.5 L771.4 612.0 L774.4 611.5 L777.4 611.0 L780.3 610.5 L783.3 610.0 L786.2 609.4 L789.2 608.8 L792.1 608.2 L795.0 607.6 L798.0 606.9 L800.9 606.2 L803.8 605.4 L806.7 604.7 L809.6 603.9 L812.5 603.2 L815.4 602.4 L818.3 601.6 L821.2 600.9 L824.1 600.1 L827.0 599.3 L829.9 598.5 L832.8 597.7 L835.7 596.8 L838.5 596.0 L841.4 595.1 L844.3 594.2 L847.1 593.3 L850.0 592.3 L852.8 591.3 L855.7 590.4 L858.5 589.4 L858.5 589.4 L858.5 219.5Z" fill="#ebc841"/>
<path d="M286.5 219.5 L285.4 222.3 L284.3 225.1 L283.2 227.9 L282.1 230.7 L281.0 233.5 L279.9 236.2 L278.8 239.0 L277.7 241.8 L276.5 244.6 L275.4 247.4 L274.3 250.2 L273.2 252.9 L272.0 255.7 L270.9 258.5 L269.8 261.3 L268.8 264.1 L267.7 266.9 L266.7 269.7 L265.6 272.5 L264.6 275.4 L263.6 278.2 L262.7 281.0 L261.7 283.9 L260.7 286.7 L259.7 289.5 L258.8 292.4 L257.8 295.2 L256.8 298.1 L255.9 300.9 L254.9 303.8 L254.0 306.6 L253.1 309.5 L252.2 312.3 L251.3 315.2 L250.5 318.1 L249.7 321.0 L249.0 323.9 L248.2 326.8 L247.5 329.7 L246.8 332.6 L246.0 335.5 L245.2 338.4 L244.4 341.3 L243.5 344.2 L242.6 347.0 L241.7 349.9 L240.7 352.7 L239.7 355.5 L238.7 358.3 L237.7 361.2 L236.6 364.0 L235.6 366.8 L234.6 369.6 L233.5 372.4 L232.5 375.3 L231.5 378.1 L230.4 380.9 L229.3 383.7 L228.3 386.5 L227.2 389.3 L226.0 392.0 L224.9 394.8 L223.8 397.6 L222.6 400.4 L221.5 403.1 L220.3 405.9 L219.1 408.6 L217.8 411.4 L216.6 414.1 L215.4 416.8 L214.1 419.6 L212.8 422.2 L211.4 424.9 L210.0 427.6 L208.6 430.2 L207.1 432.8 L205.5 435.3 L203.9 437.9 L202.3 440.4 L200.8 443.0 L199.4 445.6 L198.1 448.3 L196.8 451.0 L195.6 453.8 L194.4 456.5 L193.2 459.2 L191.9 461.9 L190.5 464.6 L189.1 467.2 L187.6 469.9 L186.2 472.5 L184.7 475.1 L183.3 477.8 L181.9 480.4 L180.5 483.0 L179.1 485.7 L177.7 488.4 L176.4 491.1 L175.1 493.8 L173.8 496.5 L172.5 499.2 L171.2 501.9 L170.0 504.6 L168.7 507.4 L167.5 510.1 L166.2 512.8 L165.0 515.5 L163.8 518.3 L162.5 521.0 L161.3 523.8 L160.1 526.5 L158.9 529.3 L157.7 532.0 L156.5 534.8 L155.3 537.5 L154.1 540.3 L153.0 543.0 L151.8 545.8 L150.6 548.5 L149.5 551.3 L148.4 554.1 L147.4 556.9 L146.5 559.8 L145.8 562.7 L145.2 565.6 L144.7 568.5 L144.3 571.5 L144.0 574.5 L143.6 577.5 L143.3 580.4 L143.0 583.4 L142.7 586.4 L142.4 589.4 L142.1 592.4 L141.8 595.4 L141.5 598.4 L141.3 601.3 L141.0 604.3 L140.8 607.3 L140.6 610.3 L140.4 613.3 L140.2 616.3 L140.1 619.3 L140.0 622.3 L140.0 625.3 L140.2 628.3 L140.5 631.2 L141.0 634.2 L141.7 637.0 L142.7 639.7 L144.2 642.2 L145.9 644.4 L148.0 646.2 L150.5 647.7 L153.1 648.8 L155.9 649.6 L158.8 650.2 L161.8 650.5 L164.7 650.8 L167.7 650.9 L170.7 651.0 L173.7 651.0 L176.7 651.0 L179.7 650.9 L182.7 650.9 L185.7 650.8 L188.7 650.8 L191.7 650.7 L194.7 650.6 L197.7 650.5 L200.7 650.4 L203.7 650.3 L206.7 650.2 L209.7 650.1 L212.7 650.0 L215.7 649.9 L218.7 649.8 L221.7 649.6 L224.7 649.5 L227.7 649.4 L230.7 649.3 L233.7 649.2 L236.7 649.1 L239.7 649.1 L242.7 649.0 L245.7 648.9 L248.7 648.8 L251.7 648.7 L254.7 648.6 L257.7 648.6 L260.7 648.5 L263.7 648.4 L266.7 648.3 L269.7 648.2 L272.7 648.1 L275.7 648.0 L278.7 647.8 L281.7 647.7 L284.7 647.6 L287.7 647.4 L290.7 647.2 L293.7 647.1 L296.7 646.9 L299.6 646.7 L302.6 646.4 L305.6 646.2 L308.6 646.0 L311.6 645.7 L314.6 645.5 L317.6 645.2 L320.6 645.0 L323.6 644.7 L326.6 644.4 L329.5 644.1 L332.5 643.8 L335.5 643.5 L338.5 643.2 L341.5 642.9 L344.5 642.6 L347.4 642.3 L350.4 642.0 L353.4 641.7 L356.4 641.4 L359.4 641.1 L362.4 640.8 L365.4 640.5 L368.3 640.2 L371.3 639.9 L374.3 639.5 L377.3 639.2 L380.3 638.9 L383.2 638.5 L386.2 638.2 L389.2 637.8 L392.2 637.5 L395.2 637.1 L398.1 636.8 L401.1 636.4 L404.1 636.1 L407.1 635.8 L410.1 635.4 L413.1 635.1 L416.0 634.8 L419.0 634.5 L422.0 634.2 L425.0 634.0 L428.0 633.7 L431.0 633.5 L434.0 633.2 L437.0 633.0 L439.9 632.8 L442.9 632.5 L445.9 632.3 L448.9 632.1 L451.9 631.9 L454.9 631.7 L457.9 631.4 L460.9 631.2 L463.9 631.0 L466.9 630.7 L469.9 630.5 L472.9 630.3 L475.8 630.0 L478.8 629.7 L481.8 629.5 L484.8 629.2 L487.8 628.9 L490.8 628.6 L493.8 628.3 L496.8 628.1 L499.7 627.8 L502.7 627.5 L505.7 627.2 L508.7 626.9 L511.7 626.6 L514.7 626.3 L517.6 626.0 L520.6 625.7 L523.6 625.4 L526.6 625.1 L529.6 624.8 L532.6 624.5 L535.6 624.2 L538.5 623.9 L541.5 623.6 L544.5 623.3 L547.5 623.0 L550.5 622.8 L553.5 622.5 L556.5 622.2 L559.4 621.9 L562.4 621.6 L565.4 621.3 L568.4 621.0 L571.4 620.7 L574.4 620.5 L577.4 620.2 L580.4 619.9 L583.3 619.6 L586.3 619.3 L589.3 619.0 L592.3 618.8 L595.3 618.5 L598.3 618.2 L601.3 618.0 L604.3 617.7 L607.2 617.4 L610.2 617.2 L613.2 616.9 L616.2 616.7 L619.2 616.4 L622.2 616.2 L625.2 616.0 L628.2 615.7 L631.2 615.5 L634.2 615.3 L637.1 615.1 L640.1 614.9 L643.1 614.6 L646.1 614.4 L649.1 614.2 L652.1 614.0 L655.1 613.8 L658.1 613.5 L661.1 613.3 L664.1 613.1 L667.1 612.8 L670.0 612.5 L673.0 612.2 L676.0 611.9 L679.0 611.6 L682.0 611.2 L684.9 610.8 L687.9 610.3 L690.9 609.9 L693.9 609.6 L696.8 609.2 L699.8 608.9 L702.8 608.5 L705.8 608.2 L708.8 607.9 L711.7 607.5 L714.7 607.2 L717.7 606.8 L720.7 606.5 L723.7 606.1 L726.6 605.7 L729.6 605.3 L732.6 604.9 L735.5 604.4 L738.5 603.9 L741.4 603.4 L744.4 602.8 L747.3 602.1 L750.2 601.5 L753.1 600.7 L756.0 600.0 L758.9 599.2 L761.8 598.4 L764.7 597.6 L767.6 596.7 L770.5 595.8 L773.3 594.9 L776.2 594.0 L779.0 593.1 L781.9 592.2 L784.7 591.2 L787.6 590.2 L790.4 589.2 L793.2 588.2 L796.0 587.2 L798.8 586.1 L801.6 585.1 L804.5 584.0 L807.3 583.0 L810.1 581.9 L812.9 580.8 L815.7 579.8 L818.5 578.7 L821.3 577.7 L824.1 576.6 L826.9 575.6 L829.7 574.5 L832.5 573.4 L835.3 572.4 L838.1 571.3 L840.9 570.2 L843.7 569.1 L846.5 568.0 L849.3 566.8 L852.0 565.7 L854.8 564.5 L857.6 563.4 L858.5 563.0 L858.5 219.5Z" fill="#ee8c37"/>
<path d="M329.2 219.5 L327.8 222.1 L326.4 224.8 L325.0 227.5 L323.6 230.1 L322.2 232.8 L320.9 235.4 L319.5 238.1 L318.2 240.8 L316.9 243.5 L315.6 246.2 L314.3 248.9 L313.1 251.7 L311.9 254.4 L310.6 257.2 L309.4 259.9 L308.2 262.6 L307.0 265.4 L305.8 268.1 L304.6 270.9 L303.4 273.6 L302.2 276.4 L301.0 279.1 L299.8 281.9 L298.6 284.7 L297.5 287.4 L296.4 290.2 L295.3 293.0 L294.3 295.8 L293.3 298.7 L292.3 301.5 L291.3 304.3 L290.3 307.2 L289.4 310.0 L288.4 312.9 L287.5 315.7 L286.5 318.6 L285.6 321.4 L284.7 324.3 L283.7 327.1 L282.8 330.0 L281.8 332.8 L280.9 335.7 L279.9 338.5 L278.9 341.3 L277.9 344.2 L276.9 347.0 L275.9 349.8 L274.9 352.6 L273.8 355.4 L272.7 358.2 L271.6 361.0 L270.4 363.8 L269.2 366.5 L267.9 369.2 L266.5 371.9 L265.2 374.5 L263.7 377.2 L262.3 379.8 L260.9 382.5 L259.4 385.1 L257.9 387.7 L256.4 390.3 L254.9 392.9 L253.4 395.5 L251.9 398.1 L250.4 400.7 L248.9 403.3 L247.4 405.9 L245.9 408.5 L244.4 411.1 L242.9 413.7 L241.4 416.3 L239.9 418.9 L238.5 421.5 L237.0 424.1 L235.5 426.7 L234.0 429.3 L232.5 431.9 L231.0 434.5 L229.5 437.1 L228.0 439.7 L226.5 442.3 L224.9 444.9 L223.4 447.5 L221.8 450.0 L220.3 452.6 L218.7 455.1 L217.0 457.6 L215.4 460.1 L213.7 462.6 L211.9 465.0 L210.1 467.4 L208.3 469.8 L206.5 472.2 L204.7 474.6 L202.9 477.1 L201.2 479.5 L199.5 482.0 L197.8 484.4 L196.1 486.9 L194.5 489.5 L192.9 492.0 L191.4 494.6 L189.8 497.1 L188.3 499.7 L186.8 502.3 L185.3 505.0 L183.9 507.6 L182.5 510.2 L181.1 512.9 L179.7 515.6 L178.4 518.3 L177.1 521.0 L175.8 523.7 L174.6 526.4 L173.4 529.2 L172.3 531.9 L171.2 534.7 L170.1 537.5 L169.1 540.4 L168.2 543.2 L167.3 546.1 L166.4 548.9 L165.5 551.8 L164.6 554.7 L163.6 557.5 L162.7 560.4 L161.7 563.2 L160.7 566.0 L159.8 568.9 L158.9 571.8 L158.1 574.6 L157.4 577.5 L156.7 580.5 L156.0 583.4 L155.2 586.3 L154.3 589.1 L153.4 592.0 L152.5 594.8 L151.6 597.7 L150.9 600.6 L150.4 603.5 L150.0 606.4 L149.8 609.4 L149.7 612.4 L149.9 615.4 L150.2 618.3 L150.8 621.2 L151.6 624.1 L152.6 626.8 L154.0 629.4 L155.6 631.8 L157.5 634.0 L159.7 636.0 L162.1 637.7 L164.6 639.2 L167.3 640.4 L170.1 641.3 L173.0 642.0 L175.9 642.5 L178.9 642.7 L181.8 642.9 L184.8 643.0 L187.8 643.0 L190.8 643.0 L193.8 643.0 L196.8 643.0 L199.8 643.0 L202.8 643.0 L205.8 643.0 L208.8 642.9 L211.8 642.8 L214.9 642.8 L217.9 642.7 L220.9 642.7 L223.9 642.6 L226.9 642.5 L229.9 642.5 L232.9 642.4 L235.9 642.3 L238.9 642.3 L241.9 642.2 L244.9 642.1 L247.9 642.1 L250.9 642.0 L253.9 641.9 L256.9 641.8 L259.9 641.7 L262.9 641.6 L265.9 641.4 L268.8 641.3 L271.8 641.1 L274.8 641.0 L277.8 640.8 L280.8 640.6 L283.8 640.4 L286.8 640.2 L289.8 640.0 L292.8 639.8 L295.8 639.6 L298.8 639.4 L301.8 639.1 L304.8 638.9 L307.8 638.6 L310.8 638.4 L313.7 638.1 L316.7 637.8 L319.7 637.5 L322.7 637.2 L325.7 636.9 L328.7 636.5 L331.7 636.2 L334.6 635.8 L337.6 635.5 L340.6 635.1 L343.6 634.7 L346.5 634.3 L349.5 633.9 L352.5 633.5 L355.5 633.1 L358.4 632.8 L361.4 632.4 L364.4 632.0 L367.4 631.6 L370.4 631.2 L373.3 630.8 L376.3 630.4 L379.3 630.1 L382.3 629.7 L385.2 629.3 L388.2 628.9 L391.2 628.5 L394.2 628.2 L397.1 627.8 L400.1 627.4 L403.1 627.0 L406.1 626.7 L409.1 626.3 L412.0 625.9 L415.0 625.6 L418.0 625.2 L421.0 624.9 L424.0 624.6 L426.9 624.3 L429.9 624.0 L432.9 623.7 L435.9 623.4 L438.9 623.1 L441.9 622.8 L444.9 622.5 L447.9 622.2 L450.8 621.9 L453.8 621.6 L456.8 621.4 L459.8 621.1 L462.8 620.8 L465.8 620.5 L468.8 620.2 L471.8 619.9 L474.7 619.6 L477.7 619.3 L480.7 619.0 L483.7 618.7 L486.7 618.4 L489.7 618.1 L492.7 617.8 L495.6 617.5 L498.6 617.2 L501.6 616.9 L504.6 616.6 L507.6 616.3 L510.6 616.0 L513.6 615.7 L516.5 615.3 L519.5 615.0 L522.5 614.7 L525.5 614.4 L528.5 614.1 L531.5 613.8 L534.4 613.4 L537.4 613.1 L540.4 612.8 L543.4 612.4 L546.4 612.1 L549.4 611.7 L552.3 611.4 L555.3 611.0 L558.3 610.6 L561.3 610.3 L564.2 609.9 L567.2 609.5 L570.2 609.1 L573.2 608.7 L576.2 608.3 L579.1 607.9 L582.1 607.6 L585.1 607.2 L588.1 606.8 L591.0 606.4 L594.0 606.0 L597.0 605.6 L600.0 605.2 L602.9 604.9 L605.9 604.5 L608.9 604.1 L611.9 603.8 L614.9 603.5 L617.8 603.1 L620.8 602.8 L623.8 602.5 L626.8 602.2 L629.8 601.9 L632.8 601.6 L635.8 601.3 L638.7 601.1 L641.7 600.8 L644.7 600.5 L647.7 600.2 L650.7 599.9 L653.7 599.6 L656.7 599.3 L659.7 599.0 L662.6 598.7 L665.6 598.4 L668.6 598.0 L671.6 597.6 L674.5 597.1 L677.5 596.6 L680.4 596.0 L683.4 595.4 L686.3 594.7 L689.2 594.0 L692.1 593.3 L695.0 592.6 L697.9 591.9 L700.9 591.2 L703.8 590.5 L706.7 589.8 L709.6 589.1 L712.5 588.4 L715.5 587.7 L718.4 587.0 L721.3 586.2 L724.2 585.5 L727.1 584.7 L730.0 584.0 L732.9 583.2 L735.8 582.4 L738.7 581.6 L741.6 580.7 L744.4 579.8 L747.3 578.9 L750.1 578.0 L753.0 577.0 L755.8 576.0 L758.6 574.9 L761.4 573.9 L764.2 572.7 L767.0 571.6 L769.7 570.4 L772.4 569.2 L775.2 567.9 L777.9 566.6 L780.6 565.3 L783.3 564.0 L785.9 562.6 L788.6 561.2 L791.3 559.8 L793.9 558.4 L796.6 557.0 L799.2 555.6 L801.9 554.2 L804.5 552.7 L807.1 551.3 L809.7 549.8 L812.3 548.4 L815.0 546.9 L817.6 545.5 L820.2 544.1 L822.9 542.7 L825.6 541.3 L828.3 540.0 L831.0 538.7 L833.7 537.4 L836.4 536.1 L839.1 534.8 L841.8 533.4 L844.4 532.0 L847.1 530.6 L849.7 529.2 L852.4 527.8 L855.0 526.3 L857.6 524.9 L858.5 524.4 L858.5 219.5Z" fill="#e45a32"/>
<path d="M396.0 219.5 L394.3 222.0 L392.7 224.5 L391.0 227.0 L389.3 229.5 L387.7 232.0 L386.0 234.5 L384.4 237.0 L382.7 239.5 L381.1 242.0 L379.5 244.6 L377.9 247.1 L376.3 249.7 L374.8 252.2 L373.3 254.8 L371.8 257.5 L370.4 260.1 L369.1 262.8 L367.7 265.5 L366.4 268.2 L365.0 270.8 L363.7 273.5 L362.2 276.1 L360.8 278.8 L359.3 281.4 L357.8 284.0 L356.4 286.6 L355.0 289.3 L353.7 292.0 L352.4 294.7 L351.1 297.4 L349.9 300.1 L348.7 302.9 L347.5 305.6 L346.2 308.3 L345.0 311.1 L343.7 313.8 L342.4 316.5 L341.1 319.2 L339.8 321.9 L338.6 324.7 L337.3 327.4 L336.1 330.1 L334.9 332.9 L333.7 335.6 L332.5 338.4 L331.3 341.1 L330.0 343.8 L328.8 346.6 L327.5 349.3 L326.2 352.0 L324.9 354.7 L323.5 357.4 L322.2 360.0 L320.8 362.7 L319.4 365.4 L318.0 368.0 L316.5 370.6 L315.0 373.2 L313.5 375.8 L311.9 378.4 L310.3 380.9 L308.7 383.4 L307.0 385.9 L305.4 388.4 L303.7 390.9 L302.0 393.4 L300.2 395.8 L298.5 398.3 L296.7 400.7 L295.0 403.1 L293.2 405.5 L291.4 407.9 L289.6 410.3 L287.7 412.7 L285.9 415.1 L284.1 417.5 L282.3 419.9 L280.5 422.3 L278.7 424.7 L276.9 427.1 L275.1 429.5 L273.3 431.9 L271.5 434.3 L269.7 436.7 L267.9 439.1 L266.1 441.5 L264.3 443.9 L262.5 446.3 L260.8 448.7 L259.0 451.2 L257.3 453.6 L255.6 456.1 L253.8 458.5 L252.1 461.0 L250.3 463.4 L248.5 465.8 L246.6 468.1 L244.7 470.5 L242.8 472.7 L240.8 475.0 L238.8 477.2 L236.8 479.5 L234.8 481.7 L232.8 483.9 L230.8 486.2 L228.9 488.5 L227.0 490.8 L225.1 493.1 L223.2 495.5 L221.4 497.9 L219.6 500.3 L217.8 502.7 L216.0 505.1 L214.3 507.5 L212.6 510.0 L210.9 512.5 L209.2 515.0 L207.6 517.5 L206.0 520.0 L204.4 522.6 L202.9 525.2 L201.4 527.8 L199.9 530.4 L198.5 533.0 L197.1 535.7 L195.7 538.4 L194.4 541.1 L193.1 543.8 L191.9 546.5 L190.7 549.2 L189.5 552.0 L188.4 554.8 L187.2 557.6 L186.2 560.4 L185.1 563.2 L184.1 566.0 L183.1 568.8 L182.2 571.7 L181.3 574.5 L180.5 577.4 L179.8 580.3 L179.2 583.3 L178.6 586.2 L178.2 589.2 L178.0 592.1 L177.9 595.1 L178.1 598.1 L178.6 601.0 L179.3 603.8 L180.2 606.6 L181.4 609.3 L182.8 612.0 L184.5 614.4 L186.3 616.8 L188.3 618.9 L190.5 620.9 L192.9 622.7 L195.4 624.2 L198.0 625.5 L200.8 626.6 L203.6 627.5 L206.5 628.2 L209.4 628.8 L212.4 629.1 L215.4 629.4 L218.4 629.6 L221.4 629.8 L224.4 629.9 L227.4 630.0 L230.4 630.1 L233.4 630.2 L236.4 630.3 L239.4 630.4 L242.4 630.5 L245.4 630.6 L248.4 630.6 L251.4 630.7 L254.4 630.7 L257.4 630.7 L260.4 630.7 L263.4 630.6 L266.4 630.6 L269.4 630.5 L272.4 630.4 L275.4 630.2 L278.4 630.1 L281.3 629.9 L284.3 629.7 L287.3 629.5 L290.3 629.2 L293.3 629.0 L296.3 628.7 L299.3 628.4 L302.3 628.2 L305.3 627.9 L308.3 627.5 L311.2 627.2 L314.2 626.9 L317.2 626.6 L320.2 626.2 L323.2 625.8 L326.1 625.4 L329.1 625.0 L332.1 624.6 L335.1 624.2 L338.0 623.7 L341.0 623.3 L344.0 622.8 L346.9 622.3 L349.9 621.9 L352.8 621.4 L355.8 620.9 L358.8 620.5 L361.7 620.0 L364.7 619.6 L367.7 619.1 L370.6 618.7 L373.6 618.2 L376.6 617.8 L379.6 617.4 L382.5 617.0 L385.5 616.6 L388.5 616.2 L391.5 615.8 L394.4 615.4 L397.4 614.9 L400.4 614.5 L403.3 614.1 L406.3 613.7 L409.3 613.3 L412.3 612.9 L415.2 612.5 L418.2 612.1 L421.2 611.7 L424.2 611.4 L427.1 611.0 L430.1 610.6 L433.1 610.2 L436.1 609.8 L439.1 609.4 L442.0 609.0 L445.0 608.7 L448.0 608.3 L451.0 607.9 L453.9 607.5 L456.9 607.1 L459.9 606.7 L462.9 606.3 L465.8 605.9 L468.8 605.5 L471.8 605.1 L474.8 604.7 L477.7 604.2 L480.7 603.8 L483.7 603.3 L486.6 602.9 L489.6 602.4 L492.6 601.9 L495.5 601.4 L498.5 600.9 L501.4 600.5 L504.4 600.0 L507.4 599.5 L510.3 599.0 L513.3 598.5 L516.3 598.1 L519.2 597.6 L522.2 597.2 L525.2 596.8 L528.1 596.4 L531.1 596.0 L534.1 595.6 L537.1 595.2 L540.0 594.8 L543.0 594.4 L546.0 594.0 L549.0 593.6 L551.9 593.1 L554.9 592.6 L557.8 592.1 L560.8 591.6 L563.8 591.1 L566.7 590.6 L569.7 590.1 L572.6 589.6 L575.6 589.0 L578.6 588.6 L581.5 588.1 L584.5 587.6 L587.4 587.1 L590.4 586.7 L593.4 586.3 L596.4 585.8 L599.3 585.4 L602.3 585.0 L605.3 584.6 L608.3 584.2 L611.2 583.8 L614.2 583.4 L617.2 583.0 L620.1 582.6 L623.1 582.2 L626.1 581.8 L629.1 581.4 L632.0 580.9 L635.0 580.5 L638.0 580.1 L641.0 579.8 L643.9 579.4 L646.9 579.0 L649.9 578.6 L652.8 578.1 L655.8 577.6 L658.7 577.0 L661.7 576.4 L664.6 575.6 L667.5 574.8 L670.3 574.0 L673.2 573.1 L676.0 572.1 L678.9 571.1 L681.6 570.0 L684.4 568.8 L687.2 567.6 L689.9 566.3 L692.5 565.0 L695.2 563.6 L697.8 562.1 L700.4 560.6 L703.0 559.1 L705.6 557.6 L708.2 556.1 L710.7 554.5 L713.3 553.0 L715.9 551.4 L718.4 549.8 L720.9 548.2 L723.4 546.5 L725.9 544.9 L728.4 543.2 L730.9 541.5 L733.4 539.8 L735.9 538.1 L738.3 536.3 L740.7 534.6 L743.1 532.8 L745.5 531.0 L747.9 529.2 L750.3 527.4 L752.7 525.6 L755.1 523.7 L757.5 521.9 L759.9 520.1 L762.3 518.3 L764.7 516.6 L767.1 514.8 L769.5 513.0 L771.9 511.1 L774.2 509.2 L776.4 507.2 L778.6 505.1 L780.7 503.0 L782.9 500.9 L785.0 498.8 L787.1 496.7 L789.2 494.6 L791.4 492.5 L793.6 490.5 L795.8 488.4 L798.0 486.3 L800.1 484.2 L802.1 482.0 L804.2 479.8 L806.1 477.6 L808.0 475.2 L809.9 472.9 L811.7 470.5 L813.4 468.0 L815.1 465.6 L816.7 463.1 L818.3 460.5 L819.9 457.9 L821.3 455.3 L822.6 452.6 L823.7 449.9 L824.5 447.0 L825.2 444.1 L825.7 441.2 L825.9 438.2 L825.9 435.3 L825.7 432.3 L825.4 429.4 L824.8 426.4 L824.1 423.5 L823.2 420.7 L822.1 417.9 L821.0 415.1 L819.7 412.4 L818.4 409.7 L817.0 407.1 L815.4 404.5 L813.8 402.0 L812.2 399.5 L810.4 397.1 L808.6 394.7 L806.7 392.3 L804.8 390.1 L802.8 387.8 L800.7 385.7 L798.6 383.6 L796.4 381.5 L794.1 379.6 L791.7 377.8 L789.3 376.0 L786.8 374.4 L784.3 372.8 L781.7 371.3 L779.1 369.8 L776.5 368.3 L775.6 367.8 L775.6 219.5Z" fill="#de3228"/>
<path d="M531.2 224.5 L534.2 225.1 L537.1 225.7 L540.0 226.4 L542.9 227.1 L545.8 228.0 L548.6 229.0 L551.4 230.1 L554.1 231.3 L556.7 232.8 L559.2 234.4 L561.5 236.2 L563.7 238.2 L565.8 240.3 L567.7 242.6 L569.5 245.0 L571.3 247.4 L573.1 249.8 L574.8 252.2 L576.6 254.7 L578.4 257.1 L580.1 259.5 L581.9 262.0 L583.6 264.4 L585.3 266.8 L587.1 269.3 L588.8 271.8 L590.5 274.2 L592.3 276.7 L594.0 279.1 L595.7 281.5 L597.5 284.0 L599.2 286.4 L601.0 288.8 L602.8 291.3 L604.6 293.7 L606.4 296.1 L608.2 298.5 L610.0 300.9 L611.8 303.3 L613.6 305.6 L615.4 308.0 L617.2 310.4 L619.0 312.9 L620.8 315.3 L622.6 317.7 L624.3 320.1 L626.1 322.6 L627.8 325.0 L629.6 327.4 L631.3 329.9 L633.0 332.3 L634.8 334.8 L636.5 337.3 L638.2 339.7 L639.9 342.2 L641.6 344.7 L643.3 347.2 L644.9 349.7 L646.6 352.2 L648.2 354.7 L649.8 357.3 L651.3 359.8 L652.8 362.4 L654.3 365.0 L655.8 367.6 L657.2 370.3 L658.7 372.9 L660.1 375.5 L661.5 378.2 L663.0 380.8 L664.5 383.4 L666.0 386.0 L667.5 388.6 L669.0 391.2 L670.5 393.8 L671.9 396.4 L673.2 399.1 L674.5 401.8 L675.6 404.6 L676.7 407.4 L677.6 410.2 L678.5 413.1 L679.3 416.0 L680.1 418.9 L680.7 421.8 L681.3 424.7 L681.9 427.7 L682.4 430.7 L682.8 433.6 L683.1 436.6 L683.4 439.6 L683.6 442.6 L683.7 445.6 L683.8 448.6 L683.7 451.6 L683.6 454.5 L683.3 457.5 L682.8 460.5 L682.2 463.4 L681.5 466.3 L680.7 469.2 L679.7 472.0 L678.7 474.8 L677.6 477.6 L676.4 480.4 L675.1 483.1 L673.9 485.8 L672.6 488.5 L671.2 491.2 L669.8 493.8 L668.4 496.5 L666.9 499.1 L665.4 501.7 L663.8 504.2 L662.1 506.7 L660.4 509.1 L658.6 511.5 L656.7 513.8 L654.7 516.1 L652.7 518.3 L650.6 520.4 L648.4 522.5 L646.2 524.6 L644.0 526.5 L641.7 528.4 L639.3 530.2 L636.9 532.0 L634.3 533.6 L631.8 535.2 L629.2 536.6 L626.5 538.0 L623.8 539.3 L621.1 540.6 L618.3 541.7 L615.5 542.7 L612.6 543.5 L609.8 544.3 L606.8 545.0 L603.9 545.5 L600.9 546.0 L598.0 546.5 L595.0 546.9 L592.0 547.2 L589.0 547.6 L586.1 547.9 L583.1 548.3 L580.1 548.7 L577.1 549.0 L574.2 549.5 L571.2 549.9 L568.2 550.4 L565.3 550.9 L562.3 551.5 L559.4 552.0 L556.4 552.6 L553.5 553.2 L550.6 553.9 L547.6 554.5 L544.7 555.1 L541.7 555.7 L538.8 556.3 L535.9 556.9 L532.9 557.6 L530.0 558.2 L527.1 558.8 L524.1 559.4 L521.2 560.0 L518.3 560.7 L515.3 561.3 L512.4 561.9 L509.5 562.6 L506.5 563.2 L503.6 563.8 L500.7 564.5 L497.7 565.1 L494.8 565.7 L491.9 566.4 L488.9 567.0 L486.0 567.6 L483.1 568.3 L480.1 568.9 L477.2 569.5 L474.3 570.2 L471.3 570.8 L468.4 571.4 L465.5 572.0 L462.5 572.7 L459.6 573.3 L456.6 573.9 L453.7 574.5 L450.8 575.1 L447.8 575.7 L444.9 576.2 L441.9 576.8 L439.0 577.4 L436.0 577.9 L433.1 578.4 L430.1 578.9 L427.2 579.4 L424.2 579.9 L421.2 580.4 L418.3 580.8 L415.3 581.2 L412.3 581.6 L409.3 582.0 L406.4 582.3 L403.4 582.7 L400.4 583.1 L397.4 583.5 L394.4 583.9 L391.5 584.3 L388.5 584.7 L385.5 585.1 L382.6 585.6 L379.6 586.0 L376.6 586.5 L373.7 586.9 L370.7 587.4 L367.7 587.9 L364.8 588.3 L361.8 588.8 L358.8 589.2 L355.9 589.7 L352.9 590.1 L349.9 590.5 L347.0 591.0 L344.0 591.3 L341.0 591.7 L338.0 592.1 L335.0 592.4 L332.1 592.7 L329.1 593.0 L326.1 593.2 L323.1 593.5 L320.1 593.7 L317.1 593.9 L314.1 594.1 L311.1 594.2 L308.1 594.3 L305.1 594.4 L302.1 594.5 L299.1 594.5 L296.1 594.5 L293.1 594.4 L290.1 594.3 L287.1 594.2 L284.1 594.1 L281.1 593.9 L278.2 593.6 L275.2 593.2 L272.2 592.7 L269.3 592.0 L266.5 591.2 L263.7 590.2 L260.9 589.1 L258.3 587.7 L255.8 586.1 L253.4 584.4 L251.2 582.4 L249.2 580.2 L247.4 577.9 L245.9 575.4 L244.7 572.7 L243.7 569.9 L243.0 567.1 L242.6 564.2 L242.5 561.2 L242.6 558.3 L242.9 555.3 L243.5 552.4 L244.2 549.5 L245.1 546.6 L246.1 543.8 L247.3 541.1 L248.6 538.4 L250.0 535.7 L251.4 533.1 L253.0 530.6 L254.7 528.1 L256.4 525.6 L258.2 523.2 L260.0 520.8 L261.8 518.5 L263.7 516.1 L265.6 513.8 L267.5 511.5 L269.4 509.2 L271.4 506.9 L273.4 504.7 L275.4 502.5 L277.5 500.3 L279.5 498.1 L281.6 495.9 L283.7 493.8 L285.8 491.7 L288.0 489.6 L290.1 487.5 L292.3 485.4 L294.5 483.4 L296.8 481.4 L299.0 479.4 L301.3 477.5 L303.6 475.6 L305.9 473.6 L308.3 471.8 L310.6 469.9 L312.9 468.0 L315.3 466.2 L317.7 464.3 L320.1 462.5 L322.5 460.8 L325.0 459.0 L327.4 457.3 L329.9 455.6 L332.3 453.8 L334.7 452.1 L337.1 450.3 L339.5 448.4 L341.8 446.6 L344.2 444.7 L346.5 442.8 L348.8 440.8 L351.1 438.9 L353.4 437.0 L355.7 435.0 L357.9 433.1 L360.2 431.1 L362.4 429.1 L364.7 427.1 L366.9 425.1 L369.1 423.1 L371.4 421.1 L373.6 419.1 L375.9 417.1 L378.2 415.2 L380.5 413.3 L382.9 411.4 L385.3 409.6 L387.7 407.9 L390.1 406.1 L392.5 404.3 L394.9 402.5 L397.2 400.6 L399.5 398.6 L401.6 396.6 L403.8 394.5 L405.8 392.3 L407.8 390.0 L409.7 387.8 L411.7 385.5 L413.6 383.2 L415.6 380.9 L417.5 378.6 L419.5 376.4 L421.5 374.1 L423.5 371.9 L425.5 369.7 L427.5 367.5 L429.5 365.2 L431.4 362.9 L433.2 360.5 L435.0 358.1 L436.7 355.6 L438.3 353.1 L439.8 350.5 L441.2 347.9 L442.6 345.2 L444.1 342.6 L445.5 339.9 L446.9 337.3 L448.3 334.6 L449.7 332.0 L451.2 329.3 L452.6 326.7 L454.0 324.1 L455.5 321.5 L457.0 318.9 L458.5 316.2 L460.0 313.7 L461.5 311.1 L463.1 308.5 L464.7 306.0 L466.3 303.4 L467.9 300.9 L469.5 298.3 L471.0 295.8 L472.6 293.2 L474.1 290.6 L475.5 288.0 L477.0 285.4 L478.5 282.8 L480.0 280.2 L481.6 277.7 L483.3 275.2 L485.0 272.7 L486.8 270.3 L488.6 267.9 L490.4 265.6 L492.3 263.2 L494.2 260.9 L496.2 258.6 L498.1 256.3 L500.1 254.1 L502.1 251.9 L504.1 249.7 L506.2 247.5 L508.3 245.3 L510.4 243.2 L512.5 241.1 L514.7 239.0 L516.9 237.0 L519.2 235.0 L521.4 233.0 L523.7 231.0 L525.9 229.1 L528.2 227.1 L530.5 225.2 L531.2 224.5Z" fill="#962a2e"/>
<path d="M537.5 219.5 L540.2 220.7 L543.0 222.0 L545.7 223.3 L548.3 224.7 L550.9 226.1 L553.5 227.7 L556.0 229.3 L558.5 230.9 L561.0 232.6 L563.5 234.3 L565.9 236.0 L568.4 237.7 L570.9 239.4 L573.4 241.1 L575.9 242.8 L578.4 244.4 L581.0 246.0 L583.5 247.7 L586.0 249.3 L588.6 250.9 L591.1 252.5 L593.6 254.2 L596.1 255.8 L598.6 257.5 L601.0 259.3 L603.4 261.1 L605.8 262.9 L608.2 264.7 L610.6 266.6 L612.9 268.4 L615.3 270.3 L617.7 272.1 L620.1 273.9 L622.5 275.7 L624.9 277.5 L627.3 279.3 L629.7 281.1 L632.2 282.8 L634.6 284.6 L637.1 286.3 L639.5 288.0 L642.0 289.8 L644.5 291.5 L647.0 293.2 L649.4 294.9 L651.9 296.5 L654.4 298.2 L656.9 299.9 L659.5 301.5 L662.0 303.1 L664.5 304.8 L667.0 306.4 L669.6 308.0 L672.1 309.6 L674.7 311.2 L677.2 312.8 L679.8 314.3 L682.4 315.9 L684.9 317.4 L687.5 319.0 L690.1 320.5 L692.7 322.0 L695.3 323.5 L697.9 325.0 L700.5 326.5 L703.1 328.0 L705.8 329.5 L708.4 330.9 L711.0 332.4 L713.7 333.8 L716.3 335.3 L718.9 336.7 L721.6 338.2 L724.2 339.6 L726.8 341.1 L729.4 342.5 L732.1 344.0 L734.7 345.4 L737.4 346.9 L740.0 348.3 L742.6 349.7 L745.3 351.1 L748.0 352.5 L750.6 353.9 L753.3 355.3 L756.0 356.7 L758.6 358.1 L761.3 359.4 L764.0 360.8 L766.7 362.1 L769.4 363.4 L772.1 364.8 L774.8 366.1 L777.5 367.4 L780.2 368.7 L782.9 370.0 L785.7 371.2 L788.4 372.5 L791.1 373.8 L793.8 375.0 L796.6 376.3 L799.3 377.5 L802.1 378.8 L804.8 380.0 L807.6 381.2 L810.3 382.4 L813.1 383.6 L815.8 384.8 L818.6 386.0 L821.3 387.2 L824.1 388.3 L826.9 389.5 L829.7 390.6 L832.4 391.8 L835.2 392.9 L838.0 394.1 L840.8 395.2 L843.6 396.3 L846.4 397.4 L849.2 398.5 L852.0 399.6 L854.8 400.7 L857.6 401.8 L858.5 402.2 L861.5 216.5 Z" fill="#fff"/>
<g fill="none" stroke="#120a08" stroke-width="1.05" stroke-opacity="0.8" stroke-linejoin="round">
<path d="M160.0 219.5 L159.5 222.5 L159.1 225.4 L158.6 228.4 L158.1 231.4 L157.6 234.4 L157.2 237.3 L156.7 240.3 L156.2 243.3 L155.7 246.2 L155.2 249.2 L154.8 252.2 L154.3 255.2 L153.8 258.1 L153.4 261.1 L152.9 264.1 L152.5 267.1 L152.0 270.0 L151.6 273.0 L151.2 276.0 L150.8 279.0 L150.4 282.0 L150.0 284.9 L149.6 287.9 L149.2 290.9 L148.9 293.9 L148.5 296.9 L148.2 299.9 L147.8 302.9 L147.5 305.9 L147.2 308.9 L146.9 311.8 L146.5 314.8 L146.2 317.8 L145.9 320.8 L145.6 323.8 L145.2 326.8 L144.9 329.8 L144.6 332.8 L144.2 335.8 L143.9 338.8 L143.5 341.8 L143.2 344.7 L142.8 347.7 L142.5 350.7 L142.1 353.7 L141.8 356.7 L141.4 359.7 L141.1 362.7 L140.7 365.7 L140.4 368.7 L140.0 371.6 L139.7 374.6 L139.3 377.6 L139.0 380.6 L138.6 383.6 L138.2 386.6 L137.9 389.6 L137.5 392.6 L137.1 395.5 L136.7 398.5 L136.3 401.5 L135.9 404.5 L135.5 407.5 L135.1 410.5 L134.7 413.4 L134.3 416.4 L133.9 419.4 L133.5 422.4 L133.1 425.4 L132.7 428.3 L132.3 431.3 L131.9 434.3 L131.5 437.3 L131.0 440.3 L130.6 443.2 L130.1 446.2 L129.6 449.2 L129.1 452.2 L128.6 455.1 L128.0 458.1 L127.4 461.0 L126.7 463.9 L126.0 466.8 L125.2 469.8 L124.4 472.6 L123.5 475.5 L122.7 478.4 L121.8 481.3 L120.9 484.2 L120.0 487.0 L119.7 488.0"/>
<path d="M119.7 666.7 L122.7 666.7 L125.7 666.7 L128.7 666.8 L131.7 666.8 L134.7 666.8 L137.7 666.8 L140.7 666.8 L143.7 666.8 L146.7 666.8 L149.7 666.8 L152.7 666.8 L155.7 666.8 L158.7 666.8 L161.7 666.7 L164.7 666.7 L167.7 666.7 L170.7 666.6 L173.7 666.5 L176.7 666.5 L179.7 666.4 L182.7 666.2 L185.7 666.1 L188.7 665.9 L191.7 665.8 L194.7 665.6 L197.7 665.4 L200.7 665.2 L203.7 665.1 L206.7 664.9 L209.7 664.7 L212.7 664.6 L215.6 664.4 L218.6 664.3 L221.6 664.1 L224.6 664.0 L227.6 663.9 L230.6 663.8 L233.6 663.8 L236.6 663.7 L239.6 663.7 L242.6 663.6 L245.6 663.6 L248.6 663.6 L251.6 663.5 L254.6 663.5 L257.6 663.5 L260.6 663.5 L263.6 663.5 L266.6 663.5 L269.6 663.5 L272.6 663.5 L275.6 663.5 L278.6 663.5 L281.6 663.4 L284.6 663.4 L287.6 663.4 L290.6 663.4 L293.6 663.4 L296.6 663.3 L299.6 663.3 L302.6 663.3 L305.6 663.2 L308.6 663.2 L311.6 663.1 L314.6 663.0 L317.6 663.0 L320.6 662.9 L323.6 662.9 L326.6 662.8 L329.6 662.7 L332.6 662.7 L335.6 662.6 L338.6 662.5 L341.6 662.5 L344.6 662.4 L347.6 662.3 L350.6 662.2 L353.6 662.2 L356.6 662.1 L359.6 662.0 L362.6 662.0 L365.6 661.9 L368.6 661.8 L371.6 661.8 L374.6 661.7 L377.6 661.6 L380.6 661.6 L383.6 661.5 L386.6 661.4 L389.6 661.3 L392.6 661.3 L395.6 661.2 L398.6 661.1 L401.6 661.1 L404.6 661.0 L407.6 660.9 L410.6 660.9 L413.6 660.8 L416.6 660.8 L419.6 660.7 L422.6 660.7 L425.6 660.6 L428.6 660.6 L431.6 660.5 L434.6 660.5 L437.6 660.4 L440.6 660.4 L443.6 660.4 L446.6 660.3 L449.6 660.3 L452.6 660.3 L455.6 660.2 L458.6 660.2 L461.6 660.2 L464.6 660.1 L467.6 660.1 L470.6 660.1 L473.6 660.0 L476.6 660.0 L479.6 660.0 L482.6 659.9 L485.6 659.9 L488.6 659.9 L491.6 659.9 L494.6 659.8 L497.6 659.8 L500.6 659.8 L503.6 659.8 L506.6 659.7 L509.6 659.7 L512.6 659.7 L515.6 659.7 L518.6 659.6 L521.6 659.6 L524.6 659.6 L527.6 659.6 L530.6 659.5 L533.6 659.5 L536.6 659.5 L539.6 659.4 L542.6 659.4 L545.6 659.3 L548.6 659.3 L551.6 659.2 L554.6 659.2 L557.6 659.1 L560.6 659.1 L563.6 659.0 L566.6 658.9 L569.6 658.8 L572.6 658.8 L575.6 658.7 L578.6 658.6 L581.6 658.5 L584.6 658.5 L587.6 658.4 L590.6 658.3 L593.6 658.2 L596.6 658.1 L599.6 658.1 L602.6 658.0 L605.6 657.9 L608.6 657.8 L611.6 657.8 L614.6 657.7 L617.6 657.6 L620.6 657.6 L623.6 657.5 L626.6 657.5 L629.6 657.4 L632.6 657.3 L635.6 657.3 L638.6 657.2 L641.6 657.2 L644.6 657.1 L647.6 657.1 L650.6 657.0 L653.6 657.0 L656.6 656.9 L659.6 656.8 L662.6 656.7 L665.6 656.7 L668.6 656.6 L671.6 656.4 L674.6 656.3 L677.6 656.1 L680.6 655.8 L683.6 655.6 L686.5 655.3 L689.5 655.1 L692.5 654.9 L695.5 654.8 L698.5 654.6 L701.5 654.5 L704.5 654.5 L707.5 654.4"/>
<path d="M743.5 653.6 L746.5 653.6 L749.5 653.5 L752.5 653.5 L755.5 653.4 L758.5 653.3 L761.5 653.3 L764.5 653.2 L767.5 653.1 L770.5 653.0 L773.5 653.0 L776.5 652.9 L779.5 652.8 L782.5 652.7 L785.5 652.7 L788.5 652.6 L791.5 652.5 L794.5 652.4 L797.5 652.4 L800.5 652.3 L803.5 652.2 L806.5 652.2 L809.5 652.1 L812.5 652.0 L815.5 652.0 L818.5 651.9 L821.5 651.8 L824.5 651.8 L827.5 651.7 L830.5 651.7 L833.5 651.6 L836.5 651.6 L839.5 651.5 L842.5 651.5 L845.5 651.4 L848.5 651.4 L851.5 651.3 L854.5 651.3 L857.5 651.2 L858.5 651.2"/>
<path d="M164.4 219.5 L163.9 222.5 L163.4 225.4 L162.9 228.4 L162.4 231.3 L161.9 234.3 L161.4 237.2 L160.9 240.2 L160.4 243.2 L159.9 246.1 L159.3 249.1 L158.8 252.0 L158.3 255.0 L157.9 257.9 L157.4 260.9 L156.9 263.9 L156.4 266.8 L155.9 269.8 L155.5 272.8 L155.0 275.7 L154.6 278.7 L154.2 281.7 L153.8 284.6 L153.4 287.6 L153.0 290.6 L152.6 293.6 L152.3 296.5 L151.9 299.5 L151.5 302.5 L151.2 305.5 L150.8 308.5 L150.5 311.4 L150.2 314.4 L149.8 317.4 L149.5 320.4 L149.2 323.4 L148.8 326.3 L148.5 329.3 L148.1 332.3 L147.8 335.3 L147.5 338.3 L147.1 341.2 L146.7 344.2 L146.4 347.2 L146.0 350.2 L145.7 353.2 L145.3 356.1 L145.0 359.1 L144.6 362.1 L144.3 365.1 L143.9 368.1 L143.6 371.0 L143.2 374.0 L142.9 377.0 L142.5 380.0 L142.1 383.0 L141.8 385.9 L141.4 388.9 L141.0 391.9 L140.6 394.9 L140.2 397.8 L139.8 400.8 L139.4 403.8 L139.0 406.7 L138.6 409.7 L138.2 412.7 L137.8 415.7 L137.3 418.6 L136.9 421.6 L136.5 424.6 L136.0 427.5 L135.6 430.5 L135.1 433.5 L134.7 436.4 L134.2 439.4 L133.7 442.4 L133.2 445.3 L132.7 448.3 L132.2 451.2 L131.7 454.2 L131.1 457.1 L130.5 460.1 L129.9 463.0 L129.2 465.9 L128.5 468.8 L127.8 471.7 L127.0 474.6 L126.2 477.5 L125.3 480.4 L124.4 483.3 L123.5 486.1 L122.6 489.0 L121.6 491.8 L120.7 494.7 L119.7 497.5 L119.7 497.5"/>
<path d="M119.7 666.0 L122.7 666.1 L125.7 666.1 L128.7 666.2 L131.7 666.2 L134.7 666.2 L137.7 666.3 L140.7 666.3 L143.7 666.3 L146.7 666.3 L149.7 666.3 L152.7 666.3 L155.7 666.3 L158.7 666.3 L161.7 666.3 L164.7 666.2 L167.7 666.2 L170.7 666.1 L173.7 666.0 L176.7 666.0 L179.7 665.9 L182.7 665.7 L185.7 665.6 L188.7 665.5 L191.7 665.3 L194.7 665.1 L197.7 665.0 L200.7 664.8 L203.7 664.6 L206.7 664.5 L209.7 664.3 L212.7 664.1 L215.7 664.0 L218.7 663.9 L221.6 663.7 L224.6 663.6 L227.6 663.5 L230.6 663.4 L233.6 663.4 L236.6 663.3 L239.6 663.3 L242.6 663.2 L245.6 663.2 L248.6 663.2 L251.6 663.1 L254.6 663.1 L257.6 663.1 L260.6 663.1 L263.6 663.1 L266.6 663.1 L269.6 663.0 L272.6 663.0 L275.6 663.0 L278.6 663.0 L281.6 663.0 L284.6 663.0 L287.6 663.0 L290.6 662.9 L293.6 662.9 L296.7 662.8 L299.7 662.8 L302.6 662.7 L305.6 662.7 L308.6 662.6 L311.6 662.6 L314.6 662.5 L317.6 662.4 L320.6 662.3 L323.6 662.3 L326.6 662.2 L329.6 662.1 L332.6 662.0 L335.6 661.9 L338.6 661.8 L341.6 661.8 L344.6 661.7 L347.6 661.6 L350.6 661.5 L353.6 661.4 L356.6 661.3 L359.6 661.3" stroke-width="0.45" stroke-opacity="0.75"/>
<path d="M362.6 661.2 L365.6 661.1 L368.6 661.0 L371.6 661.0 L374.6 660.9 L377.6 660.8 L380.6 660.8 L383.6 660.7 L386.6 660.6 L389.6 660.6 L392.6 660.5 L395.6 660.5 L398.6 660.4 L401.6 660.4 L404.6 660.3 L407.6 660.2 L410.6 660.2 L413.6 660.1 L416.6 660.1 L419.6 660.0 L422.6 659.9 L425.6 659.9 L428.6 659.8 L431.6 659.8 L434.6 659.7 L437.6 659.6 L440.6 659.6 L443.6 659.5 L446.6 659.4 L449.6 659.4 L452.6 659.3 L455.6 659.2 L458.6 659.2 L461.6 659.1 L464.6 659.0 L467.6 659.0 L470.6 658.9 L473.6 658.8 L476.6 658.8 L479.6 658.7 L482.6 658.7 L485.6 658.6 L488.6 658.6 L491.6 658.5 L494.6 658.5 L497.6 658.4 L500.6 658.4 L503.6 658.3 L506.6 658.3 L509.6 658.2 L512.6 658.2 L515.6 658.1 L518.6 658.1 L521.6 658.0 L524.6 658.0 L527.6 657.9 L530.6 657.9 L533.6 657.8 L536.6 657.7 L539.6 657.7 L542.6 657.6 L545.6 657.6 L548.6 657.5 L551.6 657.4 L554.6 657.3 L557.6 657.2 L560.6 657.2 L563.6 657.1 L566.6 657.0 L569.6 656.9 L572.6 656.8 L575.6 656.7 L578.6 656.6 L581.6 656.5 L584.6 656.4 L587.6 656.3 L590.6 656.2 L593.6 656.1 L596.6 656.1 L599.6 656.0 L602.6 655.9 L605.6 655.8 L608.6 655.7 L611.6 655.6 L614.6 655.5 L617.6 655.5 L620.6 655.4 L623.6 655.3 L626.6 655.3 L629.6 655.2 L632.6 655.1 L635.6 655.1 L638.6 655.0 L641.6 655.0 L644.6 654.9 L647.6 654.9 L650.6 654.8 L653.6 654.7 L656.6 654.7 L659.6 654.6 L662.6 654.5 L665.6 654.4 L668.6 654.3 L671.6 654.2 L674.6 654.0 L677.6 653.8 L680.6 653.6 L683.6 653.3 L686.5 653.1 L689.5 652.8 L692.5 652.6 L695.5 652.5 L698.5 652.4 L701.5 652.3 L704.5 652.2 L707.5 652.1 L710.5 652.0 L713.5 651.9 L716.5 651.8 L719.5 651.7 L722.5 651.7 L725.5 651.6 L728.5 651.5 L731.5 651.5 L734.5 651.4 L737.5 651.3 L740.5 651.3 L743.5 651.2 L746.5 651.1 L749.5 651.1 L752.5 651.0 L755.5 650.9 L758.5 650.8 L761.5 650.8 L764.5 650.7 L767.5 650.6 L770.5 650.5 L773.5 650.5 L776.5 650.4 L779.5 650.3 L782.5 650.2 L785.5 650.2 L788.5 650.1 L791.5 650.0 L794.5 649.9 L797.5 649.9 L800.5 649.8 L803.5 649.7 L806.5 649.7 L809.5 649.6 L812.5 649.5 L815.5 649.5 L818.5 649.4 L821.5 649.3 L824.5 649.3 L827.5 649.2 L830.5 649.2 L833.5 649.1 L836.5 649.1 L839.5 649.0 L842.5 649.0 L845.5 648.9 L848.5 648.9 L851.5 648.8 L854.5 648.8 L857.5 648.7 L858.5 648.7"/>
<path d="M170.0 219.5 L169.5 222.5 L169.0 225.4 L168.5 228.4 L168.0 231.3 L167.4 234.3 L166.9 237.2 L166.4 240.2 L165.9 243.1 L165.4 246.1 L164.9 249.1 L164.3 252.0 L163.8 255.0 L163.3 257.9 L162.8 260.9 L162.3 263.8 L161.8 266.8 L161.4 269.8 L160.9 272.7 L160.4 275.7 L160.0 278.7 L159.5 281.6 L159.1 284.6 L158.7 287.6 L158.3 290.5 L157.8 293.5 L157.4 296.5 L157.0 299.5 L156.7 302.4 L156.3 305.4 L155.9 308.4 L155.5 311.4 L155.1 314.3 L154.8 317.3 L154.4 320.3 L154.0 323.3 L153.7 326.2 L153.3 329.2 L152.9 332.2 L152.5 335.2 L152.1 338.1 L151.8 341.1 L151.4 344.1 L151.0 347.1 L150.6 350.1 L150.2 353.0 L149.9 356.0 L149.5 359.0 L149.1 362.0 L148.7 364.9 L148.4 367.9 L148.0 370.9 L147.6 373.9 L147.2 376.8 L146.9 379.8 L146.5 382.8 L146.1 385.8 L145.7 388.7 L145.3 391.7 L144.8 394.7 L144.4 397.7 L144.0 400.6 L143.5 403.6 L143.1 406.6 L142.6 409.5 L142.2 412.5 L141.7 415.4 L141.3 418.4 L140.8 421.4 L140.3 424.3 L139.8 427.3 L139.3 430.3 L138.8 433.2 L138.3 436.2 L137.8 439.1 L137.3 442.1 L136.7 445.0 L136.2 448.0 L135.6 450.9 L135.0 453.9 L134.4 456.8 L133.7 459.7 L133.0 462.6 L132.3 465.6 L131.6 468.5 L130.8 471.4 L129.9 474.2 L129.1 477.1 L128.2 480.0 L127.3 482.8 L126.4 485.7 L125.5 488.6 L124.6 491.4 L123.6 494.2 L122.6 497.1 L121.7 499.9 L120.7 502.8 L119.7 505.6 L119.7 505.6"/>
<path d="M119.7 665.3 L122.7 665.4 L125.7 665.5 L128.7 665.6 L131.7 665.6 L134.7 665.7 L137.7 665.8 L140.7 665.8 L143.7 665.8 L146.7 665.8 L149.7 665.8 L152.7 665.8 L155.7 665.8 L158.7 665.8 L161.7 665.8 L164.7 665.7 L167.7 665.7 L170.7 665.6 L173.7 665.5 L176.7 665.5 L179.7 665.4 L182.7 665.3 L185.7 665.1 L188.7 665.0 L191.7 664.8 L194.7 664.7 L197.7 664.5 L200.7 664.4 L203.7 664.2 L206.7 664.0 L209.7 663.9 L212.7 663.7 L215.7 663.6 L218.7 663.5 L221.7 663.3 L224.7 663.2 L227.7 663.1 L230.7 663.0 L233.7 663.0 L236.7 662.9 L239.7 662.8 L242.7 662.8 L245.7 662.8 L248.7 662.7 L251.7 662.7 L254.7 662.7 L257.7 662.6 L260.7 662.6 L263.7 662.6 L266.7 662.6 L269.7 662.5 L272.7 662.5 L275.7 662.5 L278.7 662.5 L281.7 662.5 L284.7 662.4 L287.7 662.4 L290.7 662.4 L293.7 662.3 L296.7 662.3 L299.7 662.2 L302.7 662.1 L305.7 662.1 L308.7 662.0 L311.7 661.9 L314.7 661.8 L317.7 661.8 L320.7 661.7 L323.7 661.6 L326.7 661.5 L329.7 661.4 L332.7 661.3 L335.7 661.2 L338.7 661.1 L341.7 661.0 L344.7 661.0 L347.7 660.9" stroke-width="0.45" stroke-opacity="0.75"/>
<path d="M350.7 660.8 L353.7 660.7 L356.7 660.6 L359.7 660.5 L362.7 660.4 L365.7 660.3 L368.7 660.2 L371.7 660.2 L374.7 660.1 L377.7 660.0 L380.7 659.9 L383.7 659.9 L386.7 659.8 L389.7 659.7 L392.7 659.6 L395.7 659.6 L398.7 659.5 L401.7 659.4 L404.7 659.4 L407.7 659.3 L410.6 659.2 L413.6 659.1 L416.6 659.1 L419.6 659.0 L422.6 658.9"/>
<path d="M458.6 658.1 L461.6 658.0 L464.6 658.0 L467.6 657.9 L470.6 657.8 L473.6 657.8 L476.6 657.7 L479.6 657.6 L482.6 657.5 L485.6 657.5 L488.6 657.4 L491.6 657.3 L494.6 657.3 L497.6 657.2 L500.6 657.2 L503.6 657.1 L506.6 657.0 L509.6 657.0 L512.6 656.9 L515.6 656.8 L518.6 656.8 L521.6 656.7 L524.6 656.6 L527.6 656.5 L530.6 656.5 L533.6 656.4 L536.6 656.3 L539.6 656.2 L542.6 656.2 L545.6 656.1 L548.6 656.0 L551.6 655.9 L554.6 655.8 L557.6 655.7 L560.6 655.6 L563.6 655.5 L566.6 655.4 L569.6 655.3 L572.6 655.1 L575.6 655.0 L578.6 654.9 L581.6 654.8 L584.6 654.7 L587.6 654.6 L590.6 654.5 L593.6 654.3 L596.6 654.2 L599.6 654.1 L602.6 654.0 L605.6 653.9 L608.6 653.8 L611.6 653.7 L614.6 653.6 L617.6 653.5 L620.6 653.5 L623.6 653.4 L626.6 653.3 L629.6 653.3 L632.6 653.2 L635.6 653.1 L638.6 653.1 L641.6 653.0 L644.6 653.0 L647.6 652.9 L650.6 652.8 L653.6 652.8 L656.6 652.7 L659.6 652.6 L662.6 652.5 L665.6 652.4 L668.6 652.3 L671.6 652.2 L674.6 652.0 L677.6 651.8 L680.6 651.5 L683.6 651.2 L686.6 650.9 L689.5 650.7 L692.5 650.5 L695.5 650.3 L698.5 650.2 L701.5 650.1 L704.5 650.0 L707.5 649.9 L710.5 649.8 L713.5 649.7 L716.5 649.6 L719.5 649.5 L722.5 649.4 L725.5 649.4 L728.5 649.3 L731.5 649.2 L734.5 649.1 L737.5 649.1 L740.5 649.0 L743.5 648.9 L746.5 648.8 L749.5 648.8 L752.5 648.7 L755.5 648.6 L758.5 648.5 L761.5 648.5 L764.5 648.4 L767.5 648.3 L770.5 648.2 L773.5 648.1 L776.5 648.0 L779.5 648.0 L782.5 647.9 L785.5 647.8 L788.5 647.7 L791.5 647.6 L794.5 647.5 L797.5 647.5 L800.5 647.4 L803.5 647.3 L806.5 647.2 L809.5 647.1 L812.5 647.0 L815.5 647.0 L818.5 646.9 L821.5 646.8 L824.5 646.7 L827.5 646.6 L830.5 646.6 L833.5 646.5 L836.5 646.4 L839.5 646.3 L842.5 646.2 L845.5 646.2 L848.5 646.1 L851.5 646.0 L854.5 645.9 L857.5 645.8 L858.5 645.8"/>
<path d="M175.9 219.5 L175.4 222.5 L174.9 225.4 L174.4 228.4 L173.8 231.3 L173.3 234.3 L172.8 237.2 L172.3 240.2 L171.8 243.2 L171.2 246.1 L170.7 249.1 L170.2 252.0 L169.7 255.0 L169.2 257.9 L168.7 260.9 L168.2 263.9 L167.7 266.8 L167.2 269.8 L166.7 272.7 L166.3 275.7 L165.8 278.7 L165.4 281.6 L165.0 284.6 L164.6 287.6 L164.2 290.6 L163.8 293.5 L163.4 296.5 L163.0 299.5 L162.7 302.5 L162.3 305.5 L161.9 308.4 L161.6 311.4 L161.2 314.4 L160.9 317.4 L160.5 320.4 L160.2 323.3 L159.8 326.3 L159.4 329.3 L159.0 332.3 L158.6 335.3 L158.2 338.2 L157.8 341.2 L157.4 344.2 L157.0 347.1 L156.5 350.1 L156.1 353.1 L155.7 356.1 L155.2 359.0 L154.8 362.0 L154.3 365.0 L153.9 367.9 L153.4 370.9 L152.9 373.9 L152.5 376.8 L152.0 379.8 L151.5 382.7 L151.0 385.7 L150.6 388.7 L150.1 391.6 L149.6 394.6 L149.1 397.6 L148.6 400.5 L148.1 403.5 L147.6 406.4 L147.1 409.4 L146.6 412.3 L146.0 415.3 L145.5 418.3 L145.0 421.2 L144.5 424.2 L144.0 427.1 L143.4 430.1 L142.9 433.0 L142.4 436.0 L141.8 438.9 L141.2 441.9 L140.7 444.8 L140.1 447.8 L139.5 450.7 L138.9 453.7 L138.2 456.6 L137.6 459.5 L136.9 462.4 L136.2 465.4 L135.6 468.3 L134.8 471.2 L134.1 474.1 L133.4 477.0 L132.6 479.9 L131.9 482.8 L131.1 485.7 L130.2 488.6 L129.4 491.5 L128.4 494.3 L127.5 497.2 L126.4 500.0 L125.3 502.8 L124.2 505.5 L123.0 508.3 L121.8 511.0 L120.5 513.8 L119.7 515.6"/>
<path d="M119.7 664.5 L122.7 664.6 L125.7 664.7 L128.7 664.9 L131.7 665.0 L134.7 665.1 L137.7 665.1 L140.7 665.2 L143.7 665.2 L146.7 665.3 L149.7 665.3 L152.7 665.3 L155.7 665.3 L158.7 665.3 L161.7 665.2 L164.7 665.2 L167.7 665.2 L170.7 665.1 L173.7 665.0 L176.7 665.0 L179.7 664.9 L182.7 664.8 L185.7 664.7 L188.7 664.5 L191.7 664.4 L194.7 664.2 L197.7 664.1 L200.7 663.9 L203.7 663.8 L206.7 663.6 L209.7 663.5 L212.7 663.3 L215.7 663.2 L218.7 663.1 L221.7 662.9 L224.7 662.8 L227.7 662.7 L230.7 662.6 L233.7 662.6 L236.7 662.5 L239.7 662.4 L242.7 662.4 L245.7 662.3 L248.7 662.3 L251.7 662.2 L254.7 662.2 L257.7 662.1 L260.7 662.1 L263.7 662.1 L266.7 662.0 L269.7 662.0 L272.7 662.0 L275.7 661.9 L278.7 661.9 L281.7 661.8 L284.7 661.8 L287.7 661.7 L290.7 661.7 L293.7 661.6 L296.7 661.6 L299.7 661.5 L302.7 661.4 L305.7 661.4 L308.7 661.3 L311.7 661.2 L314.7 661.1 L317.7 661.0 L320.7 660.9 L323.7 660.8 L326.7 660.7 L329.7 660.6 L332.7 660.5 L335.7 660.4" stroke-width="0.45" stroke-opacity="0.75"/>
<path d="M338.7 660.3 L341.7 660.2 L344.7 660.1 L347.7 660.0 L350.7 659.9 L353.7 659.8 L356.7 659.7 L359.7 659.6 L362.7 659.5 L365.7 659.4 L368.7 659.3 L371.7 659.3 L374.7 659.2 L377.7 659.1 L380.7 659.0 L383.7 658.9 L386.7 658.8 L389.7 658.8 L392.7 658.7 L395.7 658.6 L398.7 658.5 L401.7 658.5 L404.7 658.4 L407.7 658.3 L410.7 658.2 L413.7 658.2 L416.7 658.1 L419.7 658.0 L422.7 657.9 L425.7 657.8 L428.7 657.8 L431.7 657.7 L434.7 657.6 L437.7 657.5 L440.7 657.4 L443.7 657.4 L446.7 657.3 L449.7 657.2 L452.7 657.1 L455.7 657.0 L458.7 657.0 L461.7 656.9 L464.7 656.8 L467.7 656.7 L470.7 656.6 L473.7 656.6 L476.7 656.5 L479.7 656.4 L482.7 656.3 L485.7 656.3 L488.7 656.2 L491.7 656.1 L494.7 656.1 L497.7 656.0 L500.7 655.9 L503.7 655.9 L506.7 655.8 L509.7 655.8 L512.7 655.7 L515.7 655.6 L518.7 655.5 L521.7 655.5 L524.7 655.4 L527.7 655.3 L530.7 655.2 L533.7 655.2 L536.7 655.1 L539.7 655.0 L542.7 654.9 L545.7 654.8 L548.7 654.7 L551.7 654.5 L554.7 654.4 L557.7 654.3 L560.7 654.1 L563.7 654.0 L566.7 653.8 L569.7 653.7 L572.7 653.5 L575.7 653.4 L578.6 653.2 L581.6 653.0 L584.6 652.9 L587.6 652.7 L590.6 652.6 L593.6 652.4 L596.6 652.2 L599.6 652.1 L602.6 651.9 L605.6 651.8 L608.6 651.7 L611.6 651.5 L614.6 651.4 L617.6 651.3 L620.6 651.2 L623.6 651.1 L626.6 651.0 L629.6 650.9 L632.6 650.8 L635.6 650.8 L638.6 650.7 L641.6 650.6 L644.6 650.5 L647.6 650.4 L650.6 650.4 L653.6 650.3 L656.6 650.2 L659.6 650.1 L662.6 650.0 L665.6 649.9 L668.6 649.8 L671.6 649.6 L674.6 649.4 L677.6 649.2 L680.6 648.9 L683.6 648.6 L686.6 648.3 L689.5 648.1 L692.5 647.9 L695.5 647.7 L698.5 647.6 L701.5 647.5 L704.5 647.4 L707.5 647.3 L710.5 647.2 L713.5 647.1 L716.5 647.0 L719.5 647.0 L722.5 646.9 L725.5 646.8 L728.5 646.7 L731.5 646.7 L734.5 646.6 L737.5 646.5 L740.5 646.5"/>
<path d="M773.5 645.6 L776.5 645.6 L779.5 645.5 L782.5 645.4 L785.5 645.3 L788.5 645.3 L791.5 645.2 L794.5 645.1 L797.5 645.0 L800.5 644.9 L803.5 644.9 L806.5 644.8 L809.5 644.7 L812.5 644.6 L815.5 644.5 L818.5 644.4 L821.5 644.3 L824.5 644.1 L827.5 644.0 L830.5 643.9 L833.5 643.8 L836.5 643.6 L839.5 643.5 L842.5 643.3 L845.5 643.2 L848.5 643.1 L851.5 642.9 L854.5 642.8 L857.5 642.6 L858.5 642.6"/>
<path d="M184.1 219.5 L183.6 222.5 L183.0 225.4 L182.5 228.4 L182.0 231.3 L181.5 234.3 L180.9 237.2 L180.4 240.2 L179.9 243.2 L179.3 246.1 L178.8 249.1 L178.3 252.0 L177.7 255.0 L177.2 258.0 L176.7 260.9 L176.2 263.9 L175.7 266.8 L175.1 269.8 L174.6 272.8 L174.1 275.7 L173.6 278.7 L173.1 281.7 L172.7 284.6 L172.2 287.6 L171.7 290.6 L171.2 293.5 L170.8 296.5 L170.3 299.5 L169.8 302.4 L169.4 305.4 L168.9 308.4 L168.5 311.3 L168.0 314.3 L167.6 317.3 L167.1 320.3 L166.7 323.2 L166.2 326.2 L165.7 329.2 L165.3 332.1 L164.8 335.1 L164.3 338.1 L163.8 341.0 L163.3 344.0 L162.9 347.0 L162.4 349.9 L161.9 352.9 L161.4 355.9 L160.9 358.8 L160.4 361.8 L159.9 364.8 L159.5 367.7 L159.0 370.7 L158.5 373.7 L158.0 376.6 L157.4 379.6 L156.9 382.5 L156.4 385.5 L155.9 388.5 L155.4 391.4 L154.8 394.4 L154.3 397.3 L153.7 400.3 L153.1 403.2 L152.5 406.2 L152.0 409.1 L151.4 412.1 L150.7 415.0 L150.1 418.0 L149.5 420.9 L148.9 423.8 L148.2 426.8 L147.6 429.7 L146.9 432.6 L146.3 435.6 L145.6 438.5 L144.9 441.4 L144.2 444.4 L143.6 447.3 L142.9 450.2 L142.2 453.1 L141.5 456.1 L140.8 459.0 L140.2 461.9 L139.5 464.8 L138.8 467.8 L138.1 470.7 L137.4 473.6 L136.7 476.5 L136.0 479.5 L135.3 482.4 L134.5 485.3 L133.8 488.2 L133.0 491.1 L132.2 494.0 L131.4 496.9 L130.5 499.8 L129.6 502.6 L128.7 505.5 L127.7 508.3 L126.7 511.2 L125.7 514.0 L124.7 516.8 L123.7 519.7 L122.7 522.5 L121.7 525.3 L120.7 528.2 L119.7 531.0 L119.7 531.0"/>
<path d="M119.7 663.4 L122.7 663.6 L125.7 663.8 L128.7 663.9 L131.7 664.1 L134.7 664.3 L137.7 664.4 L140.7 664.5 L143.7 664.6 L146.7 664.6 L149.7 664.7 L152.7 664.7 L155.7 664.7 L158.7 664.7 L161.7 664.7 L164.7 664.7 L167.7 664.6 L170.7 664.6 L173.7 664.5 L176.7 664.5 L179.7 664.4 L182.7 664.3 L185.7 664.2 L188.7 664.1 L191.7 663.9 L194.7 663.8 L197.7 663.7 L200.7 663.5 L203.7 663.4 L206.7 663.2 L209.7 663.1 L212.7 662.9 L215.7 662.8 L218.7 662.7 L221.7 662.5 L224.7 662.4 L227.7 662.3 L230.7 662.2 L233.7 662.1 L236.7 662.1 L239.7 662.0 L242.7 661.9 L245.7 661.9 L248.7 661.8 L251.7 661.7 L254.7 661.7 L257.7 661.6 L260.7 661.6 L263.7 661.5 L266.7 661.5 L269.7 661.4 L272.7 661.4 L275.7 661.3 L278.7 661.3 L281.7 661.2 L284.7 661.2 L287.7 661.1 L290.7 661.0 L293.7 661.0 L296.7 660.9 L299.7 660.8 L302.7 660.7 L305.7 660.6 L308.7 660.5 L311.7 660.4 L314.7 660.3 L317.7 660.2 L320.7 660.1 L323.7 660.0" stroke-width="0.45" stroke-opacity="0.75"/>
<path d="M326.7 659.9 L329.7 659.8 L332.7 659.7 L335.7 659.6 L338.7 659.4 L341.7 659.3 L344.7 659.2 L347.7 659.1 L350.7 659.0 L353.7 658.9 L356.7 658.8 L359.7 658.6 L362.7 658.5 L365.7 658.4 L368.7 658.3 L371.7 658.3 L374.7 658.2 L377.7 658.1 L380.7 658.0 L383.7 657.9 L386.7 657.8 L389.7 657.8 L392.7 657.7 L395.7 657.6 L398.7 657.6 L401.7 657.5 L404.7 657.4 L407.7 657.3 L410.7 657.3 L413.7 657.2 L416.7 657.1 L419.7 657.0 L422.7 656.9 L425.7 656.8 L428.7 656.7 L431.7 656.6 L434.7 656.5 L437.7 656.4 L440.7 656.3 L443.7 656.2 L446.7 656.1 L449.7 656.0 L452.7 655.9 L455.7 655.7 L458.7 655.6 L461.7 655.5 L464.7 655.4"/>
<path d="M497.7 654.3 L500.7 654.2 L503.7 654.1 L506.7 654.0 L509.7 653.9 L512.7 653.8 L515.7 653.7 L518.7 653.6 L521.7 653.5 L524.7 653.4 L527.7 653.3 L530.7 653.2 L533.7 653.1 L536.7 653.0 L539.7 652.8 L542.7 652.7 L545.7 652.6 L548.7 652.5 L551.7 652.3 L554.7 652.2 L557.7 652.0 L560.7 651.9 L563.7 651.7 L566.7 651.5 L569.7 651.4 L572.7 651.2 L575.6 651.0 L578.6 650.8 L581.6 650.6 L584.6 650.5 L587.6 650.3 L590.6 650.1 L593.6 649.9 L596.6 649.8 L599.6 649.6 L602.6 649.5 L605.6 649.3 L608.6 649.2 L611.6 649.0 L614.6 648.9 L617.6 648.8 L620.6 648.7 L623.6 648.6 L626.6 648.5 L629.6 648.4 L632.6 648.3 L635.6 648.3 L638.6 648.2 L641.6 648.1 L644.6 648.0 L647.6 648.0 L650.6 647.9 L653.6 647.8 L656.6 647.7 L659.6 647.7 L662.6 647.6 L665.6 647.5 L668.6 647.4 L671.6 647.2 L674.6 647.0 L677.6 646.8 L680.6 646.5 L683.6 646.2 L686.6 645.9 L689.6 645.7 L692.5 645.5 L695.5 645.3 L698.5 645.1 L701.5 645.0 L704.5 644.9 L707.5 644.8 L710.5 644.7 L713.5 644.5 L716.5 644.4 L719.5 644.3 L722.5 644.2 L725.5 644.1 L728.5 644.1 L731.5 644.0 L734.5 643.9 L737.5 643.8 L740.5 643.7 L743.5 643.6 L746.5 643.5 L749.5 643.4 L752.5 643.3 L755.5 643.2 L758.5 643.1 L761.5 642.9 L764.5 642.8 L767.5 642.7 L770.5 642.6 L773.5 642.5 L776.5 642.3 L779.5 642.2 L782.5 642.1 L785.5 642.0 L788.5 641.8 L791.5 641.7 L794.5 641.6 L797.5 641.5 L800.5 641.3 L803.5 641.2 L806.5 641.1 L809.5 640.9 L812.5 640.8 L815.5 640.7 L818.5 640.6 L821.5 640.5 L824.5 640.3 L827.5 640.2 L830.5 640.1 L833.5 640.0 L836.5 639.9 L839.5 639.7 L842.5 639.6 L845.5 639.5 L848.5 639.4 L851.5 639.3 L854.5 639.2 L857.5 639.0 L858.5 639.0"/>
<path d="M194.6 219.5 L193.9 222.4 L193.3 225.4 L192.6 228.3 L192.0 231.2 L191.3 234.2 L190.6 237.1 L190.0 240.0 L189.3 242.9 L188.6 245.9 L188.0 248.8 L187.3 251.7 L186.6 254.7 L186.0 257.6 L185.3 260.5 L184.7 263.5 L184.1 266.4 L183.4 269.4 L182.8 272.3 L182.2 275.2 L181.6 278.2 L181.1 281.1 L180.5 284.1 L179.9 287.0 L179.4 290.0 L178.9 293.0 L178.3 295.9 L177.8 298.9 L177.3 301.8 L176.8 304.8 L176.3 307.8 L175.8 310.7 L175.4 313.7 L174.9 316.7 L174.4 319.6 L173.9 322.6 L173.4 325.6 L172.9 328.5 L172.4 331.5 L171.9 334.4 L171.4 337.4 L170.8 340.4 L170.3 343.3 L169.8 346.3 L169.2 349.2 L168.7 352.2 L168.2 355.1 L167.6 358.1 L167.1 361.1 L166.5 364.0 L166.0 367.0 L165.4 369.9 L164.9 372.9 L164.3 375.8 L163.8 378.8 L163.2 381.7 L162.6 384.7 L162.1 387.6 L161.5 390.6 L160.9 393.5 L160.3 396.5 L159.7 399.4 L159.1 402.4 L158.5 405.3 L157.8 408.2 L157.2 411.2 L156.5 414.1 L155.9 417.0 L155.2 420.0 L154.5 422.9 L153.9 425.8 L153.2 428.8 L152.5 431.7 L151.8 434.6 L151.1 437.5 L150.4 440.4 L149.7 443.4 L149.0 446.3 L148.3 449.2 L147.5 452.1 L146.8 455.0 L146.1 458.0 L145.4 460.9 L144.7 463.8 L143.9 466.7 L143.2 469.6 L142.5 472.5 L141.7 475.4 L141.0 478.4 L140.2 481.3 L139.4 484.2 L138.6 487.1 L137.8 490.0 L137.0 492.9 L136.2 495.7 L135.3 498.6 L134.5 501.5 L133.6 504.4 L132.7 507.3 L131.8 510.1 L131.0 513.0 L130.1 515.9 L129.3 518.8 L128.4 521.7 L127.6 524.5 L126.8 527.4 L126.0 530.3 L125.1 533.2 L124.3 536.1 L123.5 539.0 L122.7 541.9 L121.9 544.8 L121.1 547.7 L120.2 550.6 L119.7 552.5"/>
<path d="M119.7 661.5 L122.7 662.0 L125.6 662.5 L128.6 663.0 L131.6 663.4 L134.5 663.7 L137.5 663.9 L140.5 664.1 L143.5 664.2 L146.5 664.2 L149.5 664.3 L152.5 664.3 L155.5 664.3 L158.5 664.3 L161.5 664.2 L164.6 664.2 L167.6 664.1 L170.6 664.1 L173.6 664.0 L176.6 664.0 L179.6 663.9 L182.6 663.8 L185.6 663.7 L188.6 663.6 L191.6 663.5 L194.6 663.3 L197.6 663.2 L200.6 663.1 L203.6 662.9 L206.6 662.8 L209.6 662.6 L212.6 662.5 L215.6 662.3 L218.6 662.2 L221.6 662.1 L224.6 661.9 L227.6 661.8 L230.6 661.7 L233.6 661.6 L236.6 661.5 L239.6 661.4 L242.6 661.4 L245.6 661.3 L248.6 661.2 L251.6 661.1 L254.6 661.0 L257.6 661.0 L260.6 660.9 L263.6 660.8 L266.6 660.7 L269.6 660.7 L272.6 660.6 L275.6 660.5 L278.6 660.4 L281.6 660.4 L284.6 660.3 L287.6 660.2 L290.6 660.1 L293.6 660.0 L296.6 659.9 L299.6 659.8 L302.6 659.7 L305.6 659.6 L308.6 659.5 L311.6 659.4" stroke-width="0.45" stroke-opacity="0.75"/>
<path d="M314.6 659.2 L317.6 659.1 L320.6 659.0 L323.6 658.8 L326.6 658.7 L329.6 658.6 L332.6 658.4 L335.6 658.3 L338.6 658.2 L341.6 658.0 L344.6 657.9 L347.6 657.8 L350.6 657.6 L353.6 657.5 L356.6 657.4 L359.6 657.2 L362.6 657.1 L365.6 657.0 L368.6 656.9 L371.6 656.7 L374.6 656.6 L377.6 656.5 L380.6 656.4 L383.6 656.3 L386.6 656.2 L389.6 656.1 L392.6 656.0 L395.6 655.9 L398.6 655.8 L401.6 655.7 L404.6 655.6 L407.6 655.5 L410.6 655.3 L413.6 655.2 L416.6 655.1 L419.6 655.0 L422.6 654.9 L425.6 654.8 L428.6 654.7 L431.6 654.5 L434.6 654.4 L437.6 654.3 L440.6 654.2 L443.6 654.0 L446.6 653.9 L449.6 653.8 L452.6 653.7 L455.6 653.5 L458.6 653.4 L461.6 653.3 L464.6 653.2 L467.6 653.0 L470.6 652.9 L473.6 652.8 L476.6 652.7 L479.6 652.6 L482.6 652.5 L485.6 652.3 L488.6 652.2 L491.6 652.1"/>
<path d="M527.6 650.9 L530.6 650.7 L533.6 650.6 L536.6 650.5 L539.6 650.4 L542.6 650.2 L545.6 650.1 L548.6 650.0 L551.6 649.8 L554.6 649.7 L557.6 649.5 L560.6 649.3 L563.6 649.2 L566.6 649.0 L569.6 648.8 L572.6 648.6 L575.6 648.4 L578.6 648.2 L581.6 648.1 L584.6 647.9 L587.6 647.7 L590.6 647.5 L593.6 647.3 L596.6 647.1 L599.6 647.0 L602.6 646.8 L605.6 646.6 L608.6 646.5 L611.6 646.3 L614.6 646.2 L617.6 646.1 L620.6 645.9 L623.6 645.8 L626.6 645.7 L629.6 645.6 L632.6 645.5 L635.6 645.4 L638.6 645.2 L641.6 645.1 L644.6 645.0 L647.6 644.9 L650.6 644.8 L653.6 644.7 L656.6 644.6 L659.6 644.5 L662.6 644.4 L665.6 644.3 L668.6 644.1 L671.6 644.0 L674.6 643.8 L677.6 643.6 L680.6 643.3 L683.6 643.1 L686.6 642.8 L689.6 642.6 L692.6 642.4 L695.6 642.2 L698.6 642.0 L701.6 641.9 L704.6 641.8 L707.6 641.6 L710.6 641.5 L713.6 641.4 L716.6 641.3 L719.6 641.2 L722.6 641.0 L725.6 640.9 L728.6 640.8 L731.6 640.7 L734.6 640.6 L737.6 640.5 L740.6 640.3 L743.6 640.2 L746.6 640.1 L749.6 640.0 L752.6 639.8 L755.6 639.7 L758.6 639.6 L761.6 639.4 L764.6 639.3 L767.6 639.1 L770.6 639.0 L773.6 638.8 L776.6 638.6 L779.6 638.5 L782.5 638.3 L785.5 638.1 L788.5 638.0 L791.5 637.8 L794.5 637.6 L797.5 637.4 L800.5 637.3 L803.5 637.1 L806.5 636.9 L809.5 636.7 L812.5 636.6 L815.5 636.4 L818.5 636.2 L821.5 636.1 L824.5 635.9 L827.5 635.7 L830.5 635.6 L833.5 635.4 L836.5 635.2 L839.5 635.1 L842.5 634.9 L845.5 634.7 L848.5 634.6 L851.5 634.4 L854.5 634.2 L857.5 634.1 L858.5 634.0"/>
<path d="M203.5 219.5 L202.8 222.4 L202.2 225.4 L201.5 228.3 L200.8 231.2 L200.2 234.1 L199.5 237.1 L198.8 240.0 L198.2 242.9 L197.5 245.8 L196.8 248.8 L196.2 251.7 L195.5 254.6 L194.8 257.5 L194.2 260.5 L193.5 263.4 L192.9 266.3 L192.3 269.2 L191.6 272.2 L191.0 275.1 L190.4 278.1 L189.8 281.0 L189.2 283.9 L188.7 286.9 L188.1 289.8 L187.6 292.8 L187.0 295.7 L186.5 298.7 L186.0 301.6 L185.5 304.6 L184.9 307.6 L184.4 310.5 L183.9 313.5 L183.4 316.4 L182.9 319.4 L182.3 322.3 L181.8 325.3 L181.3 328.2 L180.7 331.2 L180.1 334.1 L179.6 337.1 L179.0 340.0 L178.4 342.9 L177.8 345.9 L177.1 348.8 L176.5 351.8 L175.9 354.7 L175.2 357.6 L174.6 360.5 L173.9 363.5 L173.3 366.4 L172.6 369.3 L172.0 372.3 L171.3 375.2 L170.6 378.1 L169.9 381.0 L169.2 383.9 L168.6 386.9 L167.9 389.8 L167.2 392.7 L166.4 395.6 L165.7 398.5 L165.0 401.4 L164.3 404.3 L163.6 407.3 L162.8 410.2 L162.1 413.1 L161.3 416.0 L160.5 418.9 L159.7 421.8 L159.0 424.7 L158.2 427.6 L157.4 430.4 L156.6 433.3 L155.8 436.2 L155.0 439.1 L154.2 442.0 L153.4 444.9 L152.6 447.8 L151.8 450.7 L151.1 453.6 L150.3 456.5 L149.6 459.4 L148.9 462.3 L148.2 465.3 L147.6 468.2 L146.9 471.1 L146.3 474.0 L145.6 477.0 L144.9 479.9 L144.2 482.8 L143.5 485.7 L142.7 488.6 L141.9 491.5 L141.0 494.4 L140.1 497.2 L139.3 500.1 L138.4 503.0 L137.5 505.8 L136.7 508.7 L135.8 511.6 L135.0 514.5 L134.2 517.4 L133.4 520.3 L132.6 523.2 L131.8 526.1 L131.0 529.0 L130.3 531.8 L129.5 534.7 L128.7 537.6 L128.0 540.5 L127.2 543.5 L126.4 546.4 L125.7 549.3 L124.9 552.2 L124.2 555.1 L123.4 558.0 L122.7 560.9 L121.9 563.8 L121.2 566.7 L120.4 569.6 L119.7 572.5 L119.7 572.5"/>
<path d="M119.7 659.0 L122.5 660.0 L125.4 660.9 L128.3 661.6 L131.2 662.2 L134.2 662.6 L137.2 662.9 L140.2 663.0 L143.2 663.1 L146.2 663.2 L149.2 663.3 L152.2 663.3 L155.2 663.4 L158.2 663.4 L161.2 663.4 L164.2 663.4 L167.2 663.4 L170.2 663.4 L173.2 663.3 L176.2 663.3 L179.2 663.2 L182.2 663.1 L185.2 663.0 L188.2 662.9 L191.2 662.8 L194.2 662.7 L197.2 662.5 L200.2 662.4 L203.2 662.3 L206.2 662.1 L209.2 662.0 L212.2 661.9 L215.2 661.7 L218.2 661.6 L221.2 661.5 L224.2 661.4 L227.2 661.2 L230.2 661.1 L233.2 661.0 L236.2 660.9 L239.2 660.8 L242.2 660.7 L245.2 660.6 L248.2 660.5 L251.2 660.4 L254.2 660.3 L257.2 660.2 L260.2 660.1 L263.2 660.0 L266.2 659.9 L269.2 659.8 L272.2 659.7 L275.2 659.6 L278.2 659.5 L281.2 659.4 L284.2 659.3 L287.2 659.2 L290.2 659.1 L293.2 659.0 L296.2 658.9 L299.2 658.7" stroke-width="0.45" stroke-opacity="0.75"/>
<path d="M302.2 658.6 L305.2 658.5 L308.2 658.3 L311.2 658.2 L314.2 658.1 L317.1 657.9 L320.1 657.8 L323.1 657.6 L326.1 657.5 L329.1 657.3 L332.1 657.2 L335.1 657.0 L338.1 656.9 L341.1 656.7 L344.1 656.6 L347.1 656.4 L350.1 656.3 L353.1 656.1 L356.1 656.0 L359.1 655.8 L362.1 655.7 L365.1 655.5 L368.1 655.4 L371.1 655.2 L374.1 655.1 L377.1 655.0 L380.1 654.8 L383.1 654.7 L386.1 654.5 L389.1 654.4 L392.1 654.3 L395.1 654.1 L398.1 654.0 L401.1 653.9 L404.1 653.7 L407.1 653.6 L410.1 653.4 L413.1 653.3 L416.1 653.2 L419.1 653.0 L422.1 652.9 L425.1 652.8 L428.1 652.6 L431.1 652.5 L434.1 652.4 L437.1 652.2 L440.1 652.1 L443.1 651.9 L446.1 651.8 L449.1 651.7 L452.1 651.5 L455.1 651.4 L458.1 651.3 L461.1 651.1 L464.1 651.0 L467.1 650.9 L470.1 650.8 L473.1 650.6 L476.1 650.5 L479.1 650.4 L482.1 650.3 L485.1 650.1 L488.1 650.0 L491.1 649.9 L494.1 649.8 L497.1 649.7 L500.1 649.6 L503.1 649.5 L506.1 649.4 L509.1 649.3 L512.1 649.2 L515.1 649.1 L518.1 649.0 L521.1 648.9"/>
<path d="M557.0 647.2 L560.0 647.0 L563.0 646.8 L566.0 646.6 L569.0 646.4 L572.0 646.2 L575.0 646.0 L578.0 645.8 L581.0 645.6 L584.0 645.4 L587.0 645.2 L590.0 645.0 L593.0 644.8 L596.0 644.5 L599.0 644.3 L602.0 644.1 L604.9 643.9 L607.9 643.8 L610.9 643.6 L613.9 643.4 L616.9 643.2 L619.9 643.1 L622.9 642.9 L625.9 642.7 L628.9 642.6 L631.9 642.4 L634.9 642.3 L637.9 642.1 L640.9 642.0 L643.9 641.8 L646.9 641.7 L649.9 641.5 L652.9 641.4 L655.9 641.2 L658.9 641.1 L661.9 640.9 L664.9 640.7 L667.9 640.5 L670.9 640.4 L673.9 640.1 L676.9 639.9 L679.9 639.6 L682.8 639.3 L685.8 638.9 L688.8 638.6 L691.8 638.4 L694.8 638.2 L697.8 638.0 L700.8 637.8 L703.8 637.7 L706.8 637.5 L709.8 637.4 L712.8 637.2 L715.8 637.1 L718.8 637.0 L721.8 636.8 L724.8 636.7 L727.8 636.6 L730.8 636.4 L733.8 636.3 L736.8 636.1 L739.8 636.0 L742.8 635.9 L745.8 635.7 L748.8 635.6 L751.8 635.4 L754.7 635.3 L757.7 635.1 L760.7 635.0 L763.7 634.8 L766.7 634.6 L769.7 634.4 L772.7 634.3 L775.7 634.1 L778.7 633.9 L781.7 633.7 L784.7 633.5 L787.7 633.3 L790.7 633.2 L793.7 633.0 L796.7 632.8 L799.7 632.6 L802.7 632.4 L805.7 632.2 L808.7 631.9 L811.7 631.7 L814.7 631.5 L817.7 631.3 L820.6 631.0 L823.6 630.8 L826.6 630.5 L829.6 630.3 L832.6 630.0 L835.6 629.7 L838.6 629.4 L841.6 629.1 L844.6 628.8 L847.5 628.5 L850.5 628.3 L853.5 628.0 L856.5 627.7 L858.5 627.5"/>
<path d="M218.1 219.5 L217.3 222.4 L216.5 225.3 L215.7 228.2 L214.9 231.1 L214.1 234.0 L213.3 236.9 L212.5 239.8 L211.7 242.7 L210.9 245.5 L210.1 248.4 L209.3 251.3 L208.5 254.2 L207.7 257.1 L206.9 260.0 L206.1 262.9 L205.4 265.8 L204.6 268.7 L203.9 271.7 L203.2 274.6 L202.5 277.5 L201.9 280.4 L201.2 283.4 L200.6 286.3 L200.0 289.2 L199.4 292.2 L198.9 295.1 L198.3 298.1 L197.8 301.1 L197.3 304.0 L196.8 307.0 L196.3 309.9 L195.7 312.9 L195.2 315.9 L194.7 318.8 L194.2 321.8 L193.6 324.7 L193.1 327.7 L192.5 330.6 L191.9 333.6 L191.3 336.5 L190.7 339.4 L190.0 342.4 L189.3 345.3 L188.7 348.2 L188.0 351.1 L187.2 354.1 L186.5 357.0 L185.8 359.9 L185.0 362.8 L184.3 365.7 L183.5 368.6 L182.7 371.5 L182.0 374.4 L181.2 377.3 L180.4 380.2 L179.6 383.1 L178.8 386.0 L178.0 388.9 L177.2 391.8 L176.4 394.7 L175.6 397.6 L174.7 400.4 L173.9 403.3 L173.1 406.2 L172.3 409.1 L171.4 412.0 L170.6 414.9 L169.7 417.8 L168.9 420.6 L168.0 423.5 L167.2 426.4 L166.3 429.3 L165.4 432.1 L164.5 435.0 L163.7 437.9 L162.8 440.8 L161.9 443.6 L161.0 446.5 L160.1 449.4 L159.3 452.2 L158.4 455.1 L157.5 458.0 L156.6 460.9 L155.8 463.7 L154.9 466.6 L154.0 469.5 L153.2 472.4 L152.3 475.2 L151.4 478.1 L150.6 481.0 L149.8 483.9 L148.9 486.8 L148.1 489.7 L147.3 492.6 L146.5 495.4 L145.7 498.3 L144.9 501.2 L144.1 504.1 L143.3 507.0 L142.5 509.9 L141.6 512.8 L140.8 515.7 L139.9 518.6 L139.1 521.4 L138.2 524.3 L137.3 527.2 L136.5 530.1 L135.6 532.9 L134.8 535.8 L133.9 538.7 L133.1 541.6 L132.2 544.5 L131.4 547.4 L130.6 550.2 L129.8 553.1 L129.1 556.1 L128.4 559.0 L127.8 561.9 L127.2 564.9 L126.7 567.8 L126.2 570.8 L125.8 573.7 L125.4 576.7 L125.0 579.7 L124.5 582.7 L124.0 585.6 L123.4 588.5 L122.6 591.4 L121.8 594.3 L120.9 597.2 L120.0 600.0 L119.7 601.0"/>
<path d="M119.7 654.0 L122.2 655.7 L124.7 657.4 L127.3 658.8 L130.0 659.8 L132.9 660.6 L135.8 661.1 L138.8 661.5 L141.8 661.8 L144.8 662.0 L147.8 662.2 L150.8 662.3 L153.8 662.4 L156.8 662.4 L159.8 662.4 L162.8 662.5 L165.8 662.5 L168.8 662.4 L171.8 662.4 L174.8 662.4 L177.8 662.4 L180.8 662.3 L183.8 662.3 L186.8 662.2 L189.8 662.1 L192.8 662.0 L195.8 661.9 L198.8 661.8 L201.8 661.6 L204.8 661.5 L207.8 661.4 L210.8 661.2 L213.8 661.1 L216.8 661.0 L219.8 660.8 L222.8 660.7 L225.8 660.6 L228.8 660.5 L231.8 660.4 L234.8 660.2 L237.8 660.1 L240.8 660.0 L243.8 659.9 L246.8 659.8 L249.8 659.6 L252.8 659.5 L255.8 659.4 L258.8 659.3 L261.8 659.2 L264.8 659.0 L267.8 658.9 L270.8 658.8 L273.8 658.7 L276.8 658.5 L279.8 658.4 L282.8 658.3 L285.8 658.1 L288.8 658.0 L291.8 657.9 L294.8 657.7 L297.8 657.6 L300.8 657.5 L303.8 657.3 L306.8 657.2 L309.8 657.0 L312.8 656.9 L315.8 656.7 L318.8 656.5 L321.8 656.4 L324.8 656.2 L327.8 656.1 L330.8 655.9 L333.8 655.7 L336.8 655.6 L339.8 655.4 L342.8 655.2 L345.8 655.1 L348.8 654.9 L351.8 654.7 L354.8 654.6 L357.8 654.4 L360.8 654.2 L363.8 654.1 L366.8 653.9 L369.8 653.8 L372.8 653.6 L375.8 653.5 L378.8 653.3 L381.8 653.2 L384.8 653.0 L387.8 652.9 L390.8 652.7 L393.8 652.6 L396.8 652.4 L399.8 652.3 L402.8 652.1 L405.8 652.0 L408.8 651.8 L411.8 651.7 L414.8 651.5 L417.8 651.4 L420.8 651.2 L423.8 651.0 L426.8 650.9 L429.8 650.7 L432.8 650.5 L435.8 650.3 L438.8 650.1 L441.8 649.9 L444.8 649.7 L447.8 649.5 L450.8 649.3 L453.8 649.1 L456.8 648.9 L459.8 648.8 L462.8 648.6 L465.8 648.4 L468.7 648.2 L471.7 648.0 L474.7 647.9 L477.7 647.7 L480.7 647.6 L483.7 647.4 L486.7 647.3 L489.7 647.1 L492.7 647.0 L495.7 646.8 L498.7 646.7 L501.7 646.6 L504.7 646.4 L507.7 646.3 L510.7 646.2 L513.7 646.1 L516.7 645.9 L519.7 645.8 L522.7 645.7 L525.7 645.5 L528.7 645.4 L531.7 645.2 L534.7 645.1 L537.7 644.9 L540.7 644.8 L543.7 644.6 L546.7 644.5 L549.7 644.3 L552.7 644.1 L555.7 643.9 L558.7 643.7 L561.7 643.5 L564.7 643.3"/>
<path d="M600.7 640.8 L603.7 640.6 L606.7 640.4 L609.7 640.2 L612.6 640.0 L615.6 639.8 L618.6 639.6 L621.6 639.4 L624.6 639.2 L627.6 639.0 L630.6 638.8 L633.6 638.6 L636.6 638.4 L639.6 638.2 L642.6 638.0 L645.6 637.8 L648.6 637.6 L651.6 637.5 L654.6 637.3 L657.6 637.0 L660.6 636.8 L663.6 636.6 L666.6 636.4 L669.6 636.2 L672.6 635.9 L675.6 635.6 L678.5 635.2 L681.5 634.9 L684.5 634.5 L687.5 634.1 L690.5 633.8 L693.4 633.5 L696.4 633.3 L699.4 633.1 L702.4 632.9 L705.4 632.8 L708.4 632.6 L711.4 632.5 L714.4 632.3 L717.4 632.2 L720.4 632.1 L723.4 632.0 L726.4 631.8 L729.4 631.7 L732.4 631.6 L735.4 631.5 L738.4 631.3 L741.4 631.2 L744.4 631.1 L747.4 631.0 L750.4 630.8 L753.4 630.7 L756.4 630.6 L759.4 630.5 L762.4 630.3 L765.4 630.2 L768.4 630.0 L771.4 629.9 L774.4 629.7 L777.4 629.6 L780.4 629.4 L783.4 629.2 L786.4 629.0 L789.4 628.8 L792.4 628.6 L795.4 628.4 L798.4 628.1 L801.4 627.8 L804.4 627.5 L807.4 627.1 L810.3 626.7 L813.3 626.2 L816.3 625.8 L819.2 625.2 L822.2 624.7 L825.1 624.2 L828.1 623.6 L831.0 623.1 L834.0 622.5 L836.9 621.9 L839.9 621.3 L842.8 620.7 L845.8 620.1 L848.7 619.5 L851.6 618.9 L854.6 618.3 L857.5 617.7 L858.5 617.5"/>
<path d="M236.5 219.5 L235.4 222.3 L234.2 225.1 L233.1 227.8 L232.0 230.6 L230.9 233.4 L229.8 236.2 L228.8 239.0 L227.8 241.9 L226.8 244.7 L225.9 247.6 L225.0 250.4 L224.2 253.3 L223.3 256.2 L222.5 259.1 L221.7 262.0 L220.9 264.9 L220.1 267.8 L219.4 270.7 L218.6 273.6 L217.8 276.5 L217.1 279.4 L216.4 282.3 L215.6 285.2 L214.9 288.1 L214.3 291.1 L213.6 294.0 L212.9 296.9 L212.3 299.8 L211.6 302.8 L211.0 305.7 L210.3 308.6 L209.7 311.6 L209.0 314.5 L208.4 317.4 L207.7 320.4 L207.1 323.3 L206.4 326.2 L205.7 329.1 L205.0 332.1 L204.3 335.0 L203.5 337.9 L202.8 340.8 L202.0 343.7 L201.2 346.6 L200.4 349.5 L199.6 352.4 L198.8 355.3 L198.0 358.1 L197.1 361.0 L196.3 363.9 L195.4 366.8 L194.6 369.7 L193.7 372.5 L192.8 375.4 L192.0 378.3 L191.1 381.2 L190.2 384.0 L189.3 386.9 L188.4 389.8 L187.5 392.6 L186.7 395.5 L185.8 398.4 L184.9 401.2 L184.0 404.1 L183.1 407.0 L182.2 409.8 L181.2 412.7 L180.3 415.5 L179.4 418.4 L178.5 421.3 L177.6 424.1 L176.6 427.0 L175.7 429.8 L174.7 432.7 L173.8 435.5 L172.9 438.4 L171.9 441.2 L171.0 444.1 L170.0 446.9 L169.0 449.8 L168.1 452.6 L167.1 455.4 L166.2 458.3 L165.2 461.1 L164.2 464.0 L163.2 466.8 L162.3 469.6 L161.3 472.5 L160.3 475.3 L159.3 478.1 L158.3 481.0 L157.3 483.8 L156.4 486.7 L155.4 489.5 L154.5 492.4 L153.5 495.2 L152.6 498.1 L151.7 500.9 L150.7 503.8 L149.8 506.6 L148.9 509.5 L148.0 512.4 L147.1 515.2 L146.2 518.1 L145.3 520.9 L144.4 523.8 L143.5 526.7 L142.7 529.6 L141.9 532.5 L141.1 535.3 L140.3 538.2 L139.5 541.1 L138.8 544.1 L138.1 547.0 L137.4 549.9 L136.8 552.8 L136.2 555.8 L135.7 558.7 L135.2 561.7 L134.7 564.7 L134.3 567.6 L133.9 570.6 L133.5 573.6 L133.0 576.6 L132.6 579.5 L132.1 582.5 L131.6 585.4 L131.0 588.4 L130.3 591.3 L129.6 594.2 L128.8 597.1 L128.1 600.0 L127.3 602.9 L126.6 605.8 L126.0 608.8 L125.5 611.7 L125.1 614.7 L124.8 617.7 L124.5 620.7 L124.3 623.6 L124.2 626.6 L124.1 629.6 L124.1 632.6 L124.2 635.6 L124.4 638.6 L124.8 641.6 L125.4 644.4 L126.3 647.2 L127.4 649.9 L129.0 652.3 L130.9 654.4 L133.1 656.2 L135.6 657.6 L138.3 658.6 L141.1 659.4 L144.0 659.9 L147.0 660.3 L150.0 660.6 L153.0 660.7 L156.0 660.8 L159.0 660.9 L162.0 660.9 L165.0 660.8 L168.0 660.8 L171.0 660.8 L174.0 660.7 L177.0 660.7 L180.0 660.6 L183.0 660.6 L186.0 660.5 L189.0 660.4 L192.0 660.3 L195.0 660.2 L198.0 660.1 L201.0 659.9 L204.0 659.8 L207.0 659.7 L210.0 659.6 L213.0 659.4 L216.0 659.3 L219.0 659.1 L222.0 659.0 L225.0 658.9 L228.0 658.8 L231.0 658.6 L234.0 658.5 L237.0 658.4 L240.0 658.3 L243.0 658.1 L246.0 658.0 L249.0 657.9 L252.0 657.7 L255.0 657.6 L258.0 657.5 L261.0 657.4 L264.0 657.2 L267.0 657.1 L270.0 657.0 L273.0 656.8 L276.0 656.7 L279.0 656.5 L282.0 656.4 L285.0 656.3 L287.9 656.1 L290.9 656.0 L293.9 655.8 L296.9 655.7 L299.9 655.5 L302.9 655.3 L305.9 655.2 L308.9 655.0 L311.9 654.8 L314.9 654.7 L317.9 654.5 L320.9 654.3 L323.9 654.1 L326.9 654.0 L329.9 653.8 L332.9 653.6 L335.9 653.4 L338.9 653.2 L341.9 653.0 L344.9 652.8 L347.9 652.7 L350.9 652.5 L353.9 652.3 L356.9 652.1 L359.9 651.9 L362.9 651.7 L365.9 651.5 L368.9 651.3 L371.9 651.1 L374.9 650.9 L377.9 650.8 L380.9 650.6 L383.8 650.4 L386.8 650.2 L389.8 650.0 L392.8 649.8 L395.8 649.6 L398.8 649.5 L401.8 649.3 L404.8 649.1 L407.8 648.9 L410.8 648.7 L413.8 648.4 L416.8 648.2 L419.8 648.0 L422.8 647.8 L425.8 647.5 L428.8 647.3 L431.8 647.0 L434.8 646.8 L437.7 646.5 L440.7 646.2 L443.7 645.9 L446.7 645.7 L449.7 645.4 L452.7 645.1 L455.7 644.9 L458.7 644.6 L461.7 644.3 L464.7 644.1 L467.7 643.8 L470.6 643.6 L473.6 643.4 L476.6 643.2 L479.6 643.0 L482.6 642.8 L485.6 642.6 L488.6 642.4 L491.6 642.3 L494.6 642.1 L497.6 641.9 L500.6 641.8 L503.6 641.6 L506.6 641.5 L509.6 641.3 L512.6 641.2 L515.6 641.1 L518.6 640.9 L521.6 640.8 L524.6 640.6 L527.6 640.5 L530.6 640.3 L533.6 640.2 L536.6 640.0 L539.6 639.9 L542.6 639.7 L545.6 639.5 L548.6 639.4 L551.6 639.2 L554.6 639.0 L557.6 638.8 L560.6 638.6 L563.6 638.4 L566.6 638.2 L569.6 638.0 L572.6 637.8 L575.5 637.6 L578.5 637.4 L581.5 637.2 L584.5 637.0 L587.5 636.8 L590.5 636.6 L593.5 636.3 L596.5 636.1 L599.5 635.9 L602.5 635.7"/>
<path d="M638.4 633.0 L641.4 632.8 L644.4 632.6 L647.4 632.3 L650.4 632.1 L653.4 631.9 L656.4 631.6 L659.4 631.4 L662.4 631.2 L665.4 630.9 L668.4 630.7 L671.3 630.4 L674.3 630.1 L677.3 629.8 L680.3 629.5 L683.3 629.2 L686.3 628.9 L689.3 628.6 L692.3 628.4 L695.3 628.1 L698.2 627.9 L701.2 627.7 L704.2 627.5 L707.2 627.3 L710.2 627.1 L713.2 626.9 L716.2 626.7 L719.2 626.5 L722.2 626.3 L725.2 626.1 L728.2 625.9 L731.2 625.7 L734.2 625.5 L737.2 625.2 L740.2 625.0 L743.2 624.7 L746.2 624.4 L749.1 624.1 L752.1 623.8 L755.1 623.5 L758.1 623.2 L761.1 622.8 L764.1 622.4 L767.0 622.1 L770.0 621.7 L773.0 621.2 L776.0 620.8 L778.9 620.3 L781.9 619.8 L784.8 619.3 L787.8 618.7 L790.7 618.1 L793.7 617.5 L796.6 616.9 L799.5 616.3 L802.5 615.7 L805.4 615.0 L808.3 614.4 L811.3 613.8 L814.2 613.2 L817.2 612.6 L820.1 612.0 L823.0 611.4 L826.0 610.8 L828.9 610.2 L831.9 609.6 L834.8 609.0 L837.8 608.5 L840.7 607.9 L843.7 607.4 L846.6 606.9 L849.6 606.4 L852.6 605.9 L855.5 605.5 L858.5 605.0 L858.5 605.0"/>
<path d="M257.4 219.5 L256.3 222.3 L255.2 225.1 L254.1 227.9 L253.1 230.7 L252.0 233.5 L251.0 236.3 L250.0 239.2 L249.0 242.0 L248.1 244.8 L247.2 247.7 L246.3 250.6 L245.4 253.5 L244.6 256.3 L243.7 259.2 L242.9 262.1 L242.0 265.0 L241.2 267.9 L240.3 270.7 L239.5 273.6 L238.6 276.5 L237.7 279.3 L236.8 282.2 L235.9 285.1 L235.0 287.9 L234.1 290.8 L233.2 293.6 L232.2 296.5 L231.3 299.3 L230.4 302.2 L229.5 305.1 L228.6 308.0 L227.9 310.8 L227.1 313.8 L226.4 316.7 L225.8 319.6 L225.2 322.5 L224.6 325.5 L224.0 328.4 L223.4 331.4 L222.7 334.3 L222.1 337.2 L221.4 340.2 L220.7 343.1 L219.9 346.0 L219.1 348.9 L218.3 351.8 L217.5 354.6 L216.7 357.5 L215.8 360.4 L214.9 363.3 L214.0 366.1 L213.1 369.0 L212.2 371.8 L211.2 374.7 L210.2 377.5 L209.2 380.3 L208.1 383.2 L207.1 386.0 L206.0 388.8 L204.9 391.6 L203.8 394.4 L202.7 397.2 L201.6 399.9 L200.5 402.7 L199.4 405.5 L198.2 408.3 L197.1 411.1 L196.0 413.8 L194.8 416.6 L193.7 419.4 L192.5 422.2 L191.3 424.9 L190.2 427.7 L189.0 430.4 L187.8 433.2 L186.6 436.0 L185.5 438.7 L184.3 441.5 L183.1 444.3 L181.9 447.0 L180.8 449.8 L179.6 452.6 L178.5 455.3 L177.3 458.1 L176.2 460.9 L175.1 463.7 L173.9 466.5 L172.8 469.2 L171.7 472.0 L170.6 474.8 L169.5 477.6 L168.3 480.4 L167.1 483.1 L165.9 485.9 L164.7 488.6 L163.4 491.3 L162.1 494.0 L160.8 496.7 L159.5 499.4 L158.2 502.1 L156.9 504.9 L155.6 507.6 L154.3 510.3 L153.1 513.0 L151.9 515.8 L150.7 518.5 L149.7 521.3 L148.7 524.2 L147.7 527.0 L146.8 529.9 L146.0 532.7 L145.2 535.6 L144.4 538.5 L143.7 541.5 L143.1 544.4 L142.4 547.3 L141.8 550.3 L141.3 553.2 L140.7 556.2 L140.2 559.1 L139.6 562.1 L139.1 565.0 L138.5 568.0 L138.0 570.9 L137.5 573.9 L137.0 576.8 L136.5 579.8 L136.0 582.8 L135.5 585.7 L135.1 588.7 L134.7 591.7 L134.3 594.6 L133.9 597.6 L133.6 600.6 L133.2 603.6 L132.9 606.6 L132.5 609.5 L132.2 612.5 L131.9 615.5 L131.6 618.5 L131.3 621.5 L131.1 624.5 L130.9 627.5 L130.8 630.5 L130.9 633.4 L131.1 636.4 L131.5 639.3 L132.3 642.2 L133.3 644.9 L134.7 647.4 L136.5 649.6 L138.5 651.6 L140.9 653.2 L143.5 654.5 L146.3 655.4 L149.1 656.1 L152.1 656.6 L155.0 657.0 L158.0 657.2 L161.0 657.3 L164.0 657.4 L167.0 657.5 L170.0 657.5 L173.0 657.5 L176.0 657.4 L179.0 657.4 L182.0 657.3 L185.0 657.2 L188.0 657.2 L191.0 657.1 L194.0 657.0 L197.0 656.9 L200.0 656.8 L203.0 656.7 L206.0 656.6 L209.0 656.4 L212.0 656.3 L215.0 656.2 L218.0 656.0 L221.0 655.9 L224.0 655.8 L227.0 655.7 L230.0 655.5 L233.0 655.4 L236.0 655.3 L239.0 655.2 L242.0 655.1 L245.0 655.0 L248.0 654.9 L251.0 654.8 L254.0 654.7 L257.0 654.6 L260.0 654.5 L263.0 654.4 L266.0 654.3 L269.0 654.2 L272.0 654.1 L275.0 654.0 L278.0 653.8 L281.0 653.7 L284.0 653.6 L287.0 653.4 L290.0 653.3 L293.0 653.1 L296.0 652.9 L299.0 652.7 L302.0 652.5 L305.0 652.3 L308.0 652.1 L311.0 651.9 L314.0 651.7 L317.0 651.5 L320.0 651.2 L323.0 651.0 L325.9 650.8 L328.9 650.5 L331.9 650.3 L334.9 650.0 L337.9 649.8 L340.9 649.5 L343.9 649.3 L346.9 649.0 L349.9 648.7 L352.9 648.5 L355.9 648.2 L358.8 648.0 L361.8 647.7 L364.8 647.4 L367.8 647.2 L370.8 646.9 L373.8 646.7 L376.8 646.4 L379.8 646.1 L382.8 645.9 L385.8 645.6 L388.8 645.3 L391.7 645.1 L394.7 644.8 L397.7 644.5 L400.7 644.3 L403.7 644.0 L406.7 643.7 L409.7 643.4 L412.7 643.2 L415.7 642.9 L418.6 642.6 L421.6 642.3 L424.6 642.1 L427.6 641.8 L430.6 641.5 L433.6 641.3 L436.6 641.0 L439.6 640.7 L442.6 640.4 L445.6 640.1 L448.5 639.9 L451.5 639.6 L454.5 639.3 L457.5 639.1 L460.5 638.8 L463.5 638.5 L466.5 638.3 L469.5 638.0 L472.5 637.8 L475.5 637.6 L478.5 637.3 L481.4 637.1 L484.4 636.9 L487.4 636.7 L490.4 636.5 L493.4 636.3 L496.4 636.1 L499.4 635.9 L502.4 635.7 L505.4 635.5 L508.4 635.3 L511.4 635.1 L514.4 634.9 L517.4 634.7 L520.4 634.5 L523.4 634.4 L526.4 634.2 L529.4 634.0 L532.4 633.8 L535.4 633.6 L538.4 633.4 L541.4 633.2 L544.3 633.0 L547.3 632.7 L550.3 632.5 L553.3 632.3 L556.3 632.1 L559.3 631.8 L562.3 631.6 L565.3 631.4 L568.3 631.1 L571.3 630.9 L574.3 630.6 L577.3 630.4 L580.3 630.2 L583.3 629.9 L586.2 629.7 L589.2 629.4 L592.2 629.2 L595.2 628.9 L598.2 628.7 L601.2 628.4 L604.2 628.2 L607.2 627.9 L610.2 627.7 L613.2 627.4 L616.2 627.2 L619.2 626.9 L622.1 626.6 L625.1 626.4 L628.1 626.1 L631.1 625.9"/>
<path d="M667.0 622.8 L670.0 622.5 L673.0 622.3 L676.0 622.0 L679.0 621.7 L682.0 621.4 L684.9 621.1 L687.9 620.8 L690.9 620.6 L693.9 620.3 L696.9 620.1 L699.9 619.9 L702.9 619.7 L705.9 619.5 L708.9 619.3 L711.9 619.1 L714.9 618.9 L717.9 618.7 L720.9 618.5 L723.9 618.3 L726.9 618.1 L729.8 617.8 L732.8 617.6 L735.8 617.3 L738.8 617.0 L741.8 616.6 L744.8 616.2 L747.7 615.8 L750.7 615.4 L753.7 614.9 L756.6 614.4 L759.6 613.9 L762.6 613.4 L765.5 612.9 L768.5 612.5 L771.4 612.0 L774.4 611.5 L777.4 611.0 L780.3 610.5 L783.3 610.0 L786.2 609.4 L789.2 608.8 L792.1 608.2 L795.0 607.6 L798.0 606.9 L800.9 606.2 L803.8 605.4 L806.7 604.7 L809.6 603.9 L812.5 603.2 L815.4 602.4 L818.3 601.6 L821.2 600.9 L824.1 600.1 L827.0 599.3 L829.9 598.5 L832.8 597.7 L835.7 596.8 L838.5 596.0 L841.4 595.1 L844.3 594.2 L847.1 593.3 L850.0 592.3 L852.8 591.3 L855.7 590.4 L858.5 589.4 L858.5 589.4"/>
<path d="M286.5 219.5 L285.4 222.3 L284.3 225.1 L283.2 227.9 L282.1 230.7 L281.0 233.5 L279.9 236.2 L278.8 239.0 L277.7 241.8 L276.5 244.6 L275.4 247.4 L274.3 250.2 L273.2 252.9 L272.0 255.7 L270.9 258.5 L269.8 261.3 L268.8 264.1 L267.7 266.9 L266.7 269.7 L265.6 272.5 L264.6 275.4 L263.6 278.2 L262.7 281.0 L261.7 283.9 L260.7 286.7 L259.7 289.5 L258.8 292.4 L257.8 295.2 L256.8 298.1 L255.9 300.9 L254.9 303.8 L254.0 306.6 L253.1 309.5 L252.2 312.3 L251.3 315.2 L250.5 318.1 L249.7 321.0 L249.0 323.9 L248.2 326.8 L247.5 329.7 L246.8 332.6 L246.0 335.5 L245.2 338.4 L244.4 341.3 L243.5 344.2 L242.6 347.0 L241.7 349.9 L240.7 352.7 L239.7 355.5 L238.7 358.3 L237.7 361.2 L236.6 364.0 L235.6 366.8 L234.6 369.6 L233.5 372.4 L232.5 375.3 L231.5 378.1 L230.4 380.9 L229.3 383.7 L228.3 386.5 L227.2 389.3 L226.0 392.0 L224.9 394.8 L223.8 397.6 L222.6 400.4 L221.5 403.1 L220.3 405.9 L219.1 408.6 L217.8 411.4 L216.6 414.1 L215.4 416.8 L214.1 419.6 L212.8 422.2 L211.4 424.9 L210.0 427.6 L208.6 430.2 L207.1 432.8 L205.5 435.3 L203.9 437.9 L202.3 440.4 L200.8 443.0 L199.4 445.6 L198.1 448.3 L196.8 451.0 L195.6 453.8 L194.4 456.5 L193.2 459.2 L191.9 461.9 L190.5 464.6 L189.1 467.2 L187.6 469.9 L186.2 472.5 L184.7 475.1 L183.3 477.8 L181.9 480.4 L180.5 483.0 L179.1 485.7"/>
<path d="M165.0 515.5 L163.8 518.3 L162.5 521.0 L161.3 523.8 L160.1 526.5 L158.9 529.3 L157.7 532.0 L156.5 534.8 L155.3 537.5 L154.1 540.3 L153.0 543.0 L151.8 545.8 L150.6 548.5 L149.5 551.3 L148.4 554.1 L147.4 556.9 L146.5 559.8 L145.8 562.7 L145.2 565.6 L144.7 568.5 L144.3 571.5 L144.0 574.5 L143.6 577.5 L143.3 580.4 L143.0 583.4 L142.7 586.4 L142.4 589.4 L142.1 592.4 L141.8 595.4 L141.5 598.4 L141.3 601.3 L141.0 604.3 L140.8 607.3 L140.6 610.3 L140.4 613.3 L140.2 616.3 L140.1 619.3 L140.0 622.3 L140.0 625.3 L140.2 628.3 L140.5 631.2 L141.0 634.2 L141.7 637.0 L142.7 639.7 L144.2 642.2 L145.9 644.4 L148.0 646.2 L150.5 647.7 L153.1 648.8 L155.9 649.6 L158.8 650.2 L161.8 650.5 L164.7 650.8 L167.7 650.9 L170.7 651.0 L173.7 651.0 L176.7 651.0 L179.7 650.9 L182.7 650.9 L185.7 650.8 L188.7 650.8 L191.7 650.7 L194.7 650.6 L197.7 650.5 L200.7 650.4 L203.7 650.3 L206.7 650.2 L209.7 650.1 L212.7 650.0 L215.7 649.9 L218.7 649.8 L221.7 649.6 L224.7 649.5 L227.7 649.4 L230.7 649.3 L233.7 649.2 L236.7 649.1 L239.7 649.1 L242.7 649.0 L245.7 648.9 L248.7 648.8 L251.7 648.7 L254.7 648.6 L257.7 648.6 L260.7 648.5 L263.7 648.4 L266.7 648.3 L269.7 648.2 L272.7 648.1 L275.7 648.0 L278.7 647.8 L281.7 647.7 L284.7 647.6 L287.7 647.4 L290.7 647.2 L293.7 647.1 L296.7 646.9 L299.6 646.7 L302.6 646.4 L305.6 646.2 L308.6 646.0 L311.6 645.7 L314.6 645.5 L317.6 645.2 L320.6 645.0 L323.6 644.7 L326.6 644.4 L329.5 644.1 L332.5 643.8 L335.5 643.5 L338.5 643.2 L341.5 642.9 L344.5 642.6 L347.4 642.3 L350.4 642.0 L353.4 641.7 L356.4 641.4 L359.4 641.1 L362.4 640.8 L365.4 640.5 L368.3 640.2 L371.3 639.9 L374.3 639.5 L377.3 639.2 L380.3 638.9 L383.2 638.5 L386.2 638.2 L389.2 637.8 L392.2 637.5 L395.2 637.1 L398.1 636.8 L401.1 636.4 L404.1 636.1 L407.1 635.8 L410.1 635.4 L413.1 635.1 L416.0 634.8 L419.0 634.5 L422.0 634.2 L425.0 634.0 L428.0 633.7 L431.0 633.5 L434.0 633.2 L437.0 633.0 L439.9 632.8 L442.9 632.5 L445.9 632.3 L448.9 632.1 L451.9 631.9 L454.9 631.7 L457.9 631.4 L460.9 631.2 L463.9 631.0 L466.9 630.7 L469.9 630.5 L472.9 630.3 L475.8 630.0 L478.8 629.7 L481.8 629.5 L484.8 629.2 L487.8 628.9 L490.8 628.6 L493.8 628.3 L496.8 628.1 L499.7 627.8 L502.7 627.5 L505.7 627.2 L508.7 626.9 L511.7 626.6 L514.7 626.3 L517.6 626.0 L520.6 625.7 L523.6 625.4 L526.6 625.1 L529.6 624.8 L532.6 624.5 L535.6 624.2 L538.5 623.9 L541.5 623.6 L544.5 623.3 L547.5 623.0 L550.5 622.8 L553.5 622.5 L556.5 622.2 L559.4 621.9 L562.4 621.6 L565.4 621.3 L568.4 621.0 L571.4 620.7 L574.4 620.5 L577.4 620.2 L580.4 619.9 L583.3 619.6 L586.3 619.3 L589.3 619.0 L592.3 618.8 L595.3 618.5 L598.3 618.2 L601.3 618.0 L604.3 617.7 L607.2 617.4 L610.2 617.2 L613.2 616.9 L616.2 616.7 L619.2 616.4 L622.2 616.2 L625.2 616.0 L628.2 615.7 L631.2 615.5 L634.2 615.3 L637.1 615.1 L640.1 614.9 L643.1 614.6 L646.1 614.4 L649.1 614.2 L652.1 614.0 L655.1 613.8 L658.1 613.5 L661.1 613.3 L664.1 613.1 L667.1 612.8 L670.0 612.5 L673.0 612.2 L676.0 611.9 L679.0 611.6 L682.0 611.2 L684.9 610.8 L687.9 610.3 L690.9 609.9 L693.9 609.6 L696.8 609.2 L699.8 608.9 L702.8 608.5 L705.8 608.2 L708.8 607.9 L711.7 607.5 L714.7 607.2 L717.7 606.8 L720.7 606.5 L723.7 606.1 L726.6 605.7 L729.6 605.3 L732.6 604.9 L735.5 604.4 L738.5 603.9 L741.4 603.4 L744.4 602.8 L747.3 602.1 L750.2 601.5 L753.1 600.7 L756.0 600.0 L758.9 599.2 L761.8 598.4 L764.7 597.6 L767.6 596.7 L770.5 595.8 L773.3 594.9 L776.2 594.0 L779.0 593.1 L781.9 592.2 L784.7 591.2 L787.6 590.2 L790.4 589.2 L793.2 588.2 L796.0 587.2 L798.8 586.1 L801.6 585.1 L804.5 584.0 L807.3 583.0 L810.1 581.9 L812.9 580.8 L815.7 579.8 L818.5 578.7 L821.3 577.7 L824.1 576.6 L826.9 575.6 L829.7 574.5 L832.5 573.4 L835.3 572.4 L838.1 571.3 L840.9 570.2 L843.7 569.1 L846.5 568.0 L849.3 566.8 L852.0 565.7 L854.8 564.5 L857.6 563.4 L858.5 563.0"/>
<path d="M329.2 219.5 L327.8 222.1 L326.4 224.8 L325.0 227.5 L323.6 230.1 L322.2 232.8 L320.9 235.4 L319.5 238.1 L318.2 240.8 L316.9 243.5 L315.6 246.2 L314.3 248.9 L313.1 251.7 L311.9 254.4 L310.6 257.2 L309.4 259.9 L308.2 262.6 L307.0 265.4 L305.8 268.1 L304.6 270.9 L303.4 273.6 L302.2 276.4 L301.0 279.1 L299.8 281.9 L298.6 284.7 L297.5 287.4 L296.4 290.2 L295.3 293.0 L294.3 295.8 L293.3 298.7 L292.3 301.5 L291.3 304.3 L290.3 307.2 L289.4 310.0 L288.4 312.9 L287.5 315.7 L286.5 318.6 L285.6 321.4 L284.7 324.3 L283.7 327.1 L282.8 330.0 L281.8 332.8 L280.9 335.7 L279.9 338.5 L278.9 341.3 L277.9 344.2 L276.9 347.0 L275.9 349.8 L274.9 352.6 L273.8 355.4 L272.7 358.2 L271.6 361.0 L270.4 363.8 L269.2 366.5 L267.9 369.2 L266.5 371.9 L265.2 374.5 L263.7 377.2 L262.3 379.8 L260.9 382.5 L259.4 385.1 L257.9 387.7 L256.4 390.3 L254.9 392.9 L253.4 395.5 L251.9 398.1 L250.4 400.7 L248.9 403.3 L247.4 405.9 L245.9 408.5 L244.4 411.1 L242.9 413.7 L241.4 416.3 L239.9 418.9 L238.5 421.5 L237.0 424.1 L235.5 426.7 L234.0 429.3 L232.5 431.9 L231.0 434.5 L229.5 437.1 L228.0 439.7 L226.5 442.3 L224.9 444.9 L223.4 447.5 L221.8 450.0 L220.3 452.6 L218.7 455.1 L217.0 457.6 L215.4 460.1 L213.7 462.6 L211.9 465.0 L210.1 467.4 L208.3 469.8 L206.5 472.2 L204.7 474.6 L202.9 477.1 L201.2 479.5 L199.5 482.0 L197.8 484.4 L196.1 486.9 L194.5 489.5 L192.9 492.0 L191.4 494.6 L189.8 497.1 L188.3 499.7 L186.8 502.3 L185.3 505.0 L183.9 507.6 L182.5 510.2 L181.1 512.9 L179.7 515.6 L178.4 518.3 L177.1 521.0 L175.8 523.7 L174.6 526.4 L173.4 529.2 L172.3 531.9 L171.2 534.7 L170.1 537.5 L169.1 540.4 L168.2 543.2 L167.3 546.1 L166.4 548.9 L165.5 551.8 L164.6 554.7 L163.6 557.5 L162.7 560.4 L161.7 563.2 L160.7 566.0 L159.8 568.9 L158.9 571.8 L158.1 574.6 L157.4 577.5 L156.7 580.5 L156.0 583.4 L155.2 586.3 L154.3 589.1 L153.4 592.0 L152.5 594.8 L151.6 597.7 L150.9 600.6 L150.4 603.5 L150.0 606.4 L149.8 609.4 L149.7 612.4 L149.9 615.4 L150.2 618.3 L150.8 621.2 L151.6 624.1 L152.6 626.8 L154.0 629.4 L155.6 631.8 L157.5 634.0 L159.7 636.0 L162.1 637.7 L164.6 639.2 L167.3 640.4 L170.1 641.3 L173.0 642.0 L175.9 642.5 L178.9 642.7 L181.8 642.9 L184.8 643.0 L187.8 643.0 L190.8 643.0 L193.8 643.0 L196.8 643.0 L199.8 643.0 L202.8 643.0 L205.8 643.0 L208.8 642.9 L211.8 642.8 L214.9 642.8 L217.9 642.7 L220.9 642.7 L223.9 642.6 L226.9 642.5 L229.9 642.5 L232.9 642.4 L235.9 642.3 L238.9 642.3 L241.9 642.2 L244.9 642.1 L247.9 642.1 L250.9 642.0 L253.9 641.9 L256.9 641.8 L259.9 641.7 L262.9 641.6 L265.9 641.4 L268.8 641.3 L271.8 641.1 L274.8 641.0 L277.8 640.8 L280.8 640.6 L283.8 640.4 L286.8 640.2 L289.8 640.0 L292.8 639.8 L295.8 639.6 L298.8 639.4 L301.8 639.1 L304.8 638.9 L307.8 638.6 L310.8 638.4 L313.7 638.1 L316.7 637.8 L319.7 637.5 L322.7 637.2 L325.7 636.9 L328.7 636.5 L331.7 636.2 L334.6 635.8 L337.6 635.5 L340.6 635.1 L343.6 634.7 L346.5 634.3 L349.5 633.9 L352.5 633.5 L355.5 633.1 L358.4 632.8 L361.4 632.4 L364.4 632.0 L367.4 631.6 L370.4 631.2 L373.3 630.8 L376.3 630.4 L379.3 630.1 L382.3 629.7 L385.2 629.3 L388.2 628.9 L391.2 628.5 L394.2 628.2 L397.1 627.8 L400.1 627.4 L403.1 627.0 L406.1 626.7 L409.1 626.3 L412.0 625.9 L415.0 625.6 L418.0 625.2 L421.0 624.9 L424.0 624.6 L426.9 624.3 L429.9 624.0 L432.9 623.7 L435.9 623.4 L438.9 623.1 L441.9 622.8 L444.9 622.5 L447.9 622.2 L450.8 621.9 L453.8 621.6 L456.8 621.4 L459.8 621.1 L462.8 620.8 L465.8 620.5 L468.8 620.2 L471.8 619.9 L474.7 619.6 L477.7 619.3 L480.7 619.0 L483.7 618.7 L486.7 618.4 L489.7 618.1 L492.7 617.8 L495.6 617.5 L498.6 617.2 L501.6 616.9 L504.6 616.6 L507.6 616.3 L510.6 616.0 L513.6 615.7 L516.5 615.3 L519.5 615.0 L522.5 614.7 L525.5 614.4 L528.5 614.1 L531.5 613.8 L534.4 613.4 L537.4 613.1 L540.4 612.8 L543.4 612.4 L546.4 612.1 L549.4 611.7 L552.3 611.4 L555.3 611.0 L558.3 610.6 L561.3 610.3 L564.2 609.9 L567.2 609.5 L570.2 609.1 L573.2 608.7 L576.2 608.3 L579.1 607.9 L582.1 607.6 L585.1 607.2 L588.1 606.8 L591.0 606.4 L594.0 606.0 L597.0 605.6 L600.0 605.2 L602.9 604.9 L605.9 604.5 L608.9 604.1 L611.9 603.8 L614.9 603.5 L617.8 603.1 L620.8 602.8 L623.8 602.5 L626.8 602.2 L629.8 601.9 L632.8 601.6 L635.8 601.3 L638.7 601.1 L641.7 600.8 L644.7 600.5 L647.7 600.2 L650.7 599.9 L653.7 599.6 L656.7 599.3 L659.7 599.0 L662.6 598.7 L665.6 598.4 L668.6 598.0 L671.6 597.6 L674.5 597.1 L677.5 596.6 L680.4 596.0 L683.4 595.4 L686.3 594.7 L689.2 594.0 L692.1 593.3 L695.0 592.6 L697.9 591.9 L700.9 591.2 L703.8 590.5 L706.7 589.8 L709.6 589.1 L712.5 588.4 L715.5 587.7 L718.4 587.0 L721.3 586.2 L724.2 585.5 L727.1 584.7 L730.0 584.0 L732.9 583.2 L735.8 582.4 L738.7 581.6 L741.6 580.7 L744.4 579.8 L747.3 578.9 L750.1 578.0 L753.0 577.0 L755.8 576.0 L758.6 574.9 L761.4 573.9 L764.2 572.7 L767.0 571.6 L769.7 570.4 L772.4 569.2 L775.2 567.9 L777.9 566.6 L780.6 565.3 L783.3 564.0 L785.9 562.6 L788.6 561.2"/>
<path d="M820.2 544.1 L822.9 542.7 L825.6 541.3 L828.3 540.0 L831.0 538.7 L833.7 537.4 L836.4 536.1 L839.1 534.8 L841.8 533.4 L844.4 532.0 L847.1 530.6 L849.7 529.2 L852.4 527.8 L855.0 526.3 L857.6 524.9 L858.5 524.4"/>
<path d="M396.0 219.5 L394.3 222.0 L392.7 224.5 L391.0 227.0 L389.3 229.5 L387.7 232.0 L386.0 234.5 L384.4 237.0 L382.7 239.5 L381.1 242.0 L379.5 244.6 L377.9 247.1 L376.3 249.7 L374.8 252.2 L373.3 254.8 L371.8 257.5 L370.4 260.1 L369.1 262.8 L367.7 265.5 L366.4 268.2 L365.0 270.8 L363.7 273.5 L362.2 276.1 L360.8 278.8 L359.3 281.4 L357.8 284.0 L356.4 286.6 L355.0 289.3 L353.7 292.0 L352.4 294.7 L351.1 297.4 L349.9 300.1 L348.7 302.9 L347.5 305.6 L346.2 308.3 L345.0 311.1 L343.7 313.8 L342.4 316.5 L341.1 319.2 L339.8 321.9 L338.6 324.7 L337.3 327.4 L336.1 330.1 L334.9 332.9 L333.7 335.6 L332.5 338.4 L331.3 341.1 L330.0 343.8 L328.8 346.6 L327.5 349.3 L326.2 352.0 L324.9 354.7 L323.5 357.4 L322.2 360.0 L320.8 362.7 L319.4 365.4 L318.0 368.0 L316.5 370.6 L315.0 373.2 L313.5 375.8 L311.9 378.4 L310.3 380.9 L308.7 383.4 L307.0 385.9 L305.4 388.4 L303.7 390.9 L302.0 393.4 L300.2 395.8 L298.5 398.3 L296.7 400.7 L295.0 403.1 L293.2 405.5 L291.4 407.9 L289.6 410.3 L287.7 412.7 L285.9 415.1 L284.1 417.5 L282.3 419.9 L280.5 422.3 L278.7 424.7 L276.9 427.1 L275.1 429.5 L273.3 431.9 L271.5 434.3 L269.7 436.7 L267.9 439.1 L266.1 441.5 L264.3 443.9 L262.5 446.3 L260.8 448.7 L259.0 451.2 L257.3 453.6 L255.6 456.1 L253.8 458.5 L252.1 461.0 L250.3 463.4 L248.5 465.8 L246.6 468.1 L244.7 470.5 L242.8 472.7 L240.8 475.0 L238.8 477.2 L236.8 479.5 L234.8 481.7 L232.8 483.9 L230.8 486.2 L228.9 488.5 L227.0 490.8 L225.1 493.1 L223.2 495.5 L221.4 497.9 L219.6 500.3 L217.8 502.7 L216.0 505.1 L214.3 507.5 L212.6 510.0 L210.9 512.5 L209.2 515.0 L207.6 517.5 L206.0 520.0 L204.4 522.6 L202.9 525.2 L201.4 527.8 L199.9 530.4 L198.5 533.0 L197.1 535.7 L195.7 538.4 L194.4 541.1 L193.1 543.8 L191.9 546.5 L190.7 549.2 L189.5 552.0 L188.4 554.8 L187.2 557.6 L186.2 560.4 L185.1 563.2 L184.1 566.0 L183.1 568.8 L182.2 571.7 L181.3 574.5 L180.5 577.4 L179.8 580.3 L179.2 583.3 L178.6 586.2 L178.2 589.2 L178.0 592.1 L177.9 595.1 L178.1 598.1 L178.6 601.0 L179.3 603.8 L180.2 606.6 L181.4 609.3 L182.8 612.0 L184.5 614.4 L186.3 616.8 L188.3 618.9 L190.5 620.9 L192.9 622.7 L195.4 624.2 L198.0 625.5 L200.8 626.6 L203.6 627.5 L206.5 628.2 L209.4 628.8 L212.4 629.1 L215.4 629.4 L218.4 629.6 L221.4 629.8 L224.4 629.9 L227.4 630.0 L230.4 630.1 L233.4 630.2 L236.4 630.3 L239.4 630.4 L242.4 630.5 L245.4 630.6 L248.4 630.6 L251.4 630.7 L254.4 630.7 L257.4 630.7 L260.4 630.7 L263.4 630.6 L266.4 630.6 L269.4 630.5 L272.4 630.4 L275.4 630.2 L278.4 630.1 L281.3 629.9 L284.3 629.7 L287.3 629.5 L290.3 629.2 L293.3 629.0 L296.3 628.7 L299.3 628.4 L302.3 628.2 L305.3 627.9 L308.3 627.5 L311.2 627.2 L314.2 626.9 L317.2 626.6 L320.2 626.2 L323.2 625.8 L326.1 625.4 L329.1 625.0 L332.1 624.6 L335.1 624.2 L338.0 623.7 L341.0 623.3 L344.0 622.8 L346.9 622.3 L349.9 621.9 L352.8 621.4 L355.8 620.9 L358.8 620.5 L361.7 620.0 L364.7 619.6 L367.7 619.1 L370.6 618.7 L373.6 618.2 L376.6 617.8 L379.6 617.4 L382.5 617.0 L385.5 616.6 L388.5 616.2 L391.5 615.8 L394.4 615.4 L397.4 614.9 L400.4 614.5 L403.3 614.1 L406.3 613.7 L409.3 613.3 L412.3 612.9 L415.2 612.5 L418.2 612.1 L421.2 611.7 L424.2 611.4 L427.1 611.0 L430.1 610.6 L433.1 610.2 L436.1 609.8 L439.1 609.4 L442.0 609.0 L445.0 608.7 L448.0 608.3 L451.0 607.9 L453.9 607.5 L456.9 607.1 L459.9 606.7 L462.9 606.3 L465.8 605.9 L468.8 605.5 L471.8 605.1 L474.8 604.7 L477.7 604.2 L480.7 603.8 L483.7 603.3 L486.6 602.9 L489.6 602.4 L492.6 601.9 L495.5 601.4 L498.5 600.9 L501.4 600.5 L504.4 600.0 L507.4 599.5 L510.3 599.0 L513.3 598.5 L516.3 598.1 L519.2 597.6 L522.2 597.2 L525.2 596.8 L528.1 596.4 L531.1 596.0 L534.1 595.6 L537.1 595.2 L540.0 594.8 L543.0 594.4 L546.0 594.0 L549.0 593.6 L551.9 593.1 L554.9 592.6 L557.8 592.1 L560.8 591.6 L563.8 591.1 L566.7 590.6 L569.7 590.1"/>
<path d="M605.3 584.6 L608.3 584.2 L611.2 583.8 L614.2 583.4 L617.2 583.0 L620.1 582.6 L623.1 582.2 L626.1 581.8 L629.1 581.4 L632.0 580.9 L635.0 580.5 L638.0 580.1 L641.0 579.8 L643.9 579.4 L646.9 579.0 L649.9 578.6 L652.8 578.1 L655.8 577.6 L658.7 577.0 L661.7 576.4 L664.6 575.6 L667.5 574.8 L670.3 574.0 L673.2 573.1 L676.0 572.1 L678.9 571.1 L681.6 570.0 L684.4 568.8 L687.2 567.6 L689.9 566.3 L692.5 565.0 L695.2 563.6 L697.8 562.1 L700.4 560.6 L703.0 559.1 L705.6 557.6 L708.2 556.1 L710.7 554.5 L713.3 553.0 L715.9 551.4 L718.4 549.8 L720.9 548.2 L723.4 546.5 L725.9 544.9 L728.4 543.2 L730.9 541.5 L733.4 539.8 L735.9 538.1 L738.3 536.3 L740.7 534.6 L743.1 532.8 L745.5 531.0 L747.9 529.2 L750.3 527.4 L752.7 525.6 L755.1 523.7 L757.5 521.9 L759.9 520.1 L762.3 518.3 L764.7 516.6 L767.1 514.8 L769.5 513.0 L771.9 511.1 L774.2 509.2 L776.4 507.2 L778.6 505.1 L780.7 503.0 L782.9 500.9 L785.0 498.8 L787.1 496.7 L789.2 494.6 L791.4 492.5 L793.6 490.5 L795.8 488.4 L798.0 486.3 L800.1 484.2 L802.1 482.0 L804.2 479.8 L806.1 477.6 L808.0 475.2 L809.9 472.9 L811.7 470.5 L813.4 468.0 L815.1 465.6 L816.7 463.1 L818.3 460.5 L819.9 457.9 L821.3 455.3 L822.6 452.6 L823.7 449.9 L824.5 447.0 L825.2 444.1 L825.7 441.2 L825.9 438.2 L825.9 435.3 L825.7 432.3 L825.4 429.4 L824.8 426.4 L824.1 423.5 L823.2 420.7 L822.1 417.9 L821.0 415.1 L819.7 412.4 L818.4 409.7 L817.0 407.1 L815.4 404.5 L813.8 402.0 L812.2 399.5 L810.4 397.1 L808.6 394.7 L806.7 392.3 L804.8 390.1 L802.8 387.8 L800.7 385.7 L798.6 383.6 L796.4 381.5 L794.1 379.6 L791.7 377.8 L789.3 376.0 L786.8 374.4 L784.3 372.8 L781.7 371.3 L779.1 369.8 L776.5 368.3 L775.6 367.8"/>
<path d="M531.2 224.5 L534.2 225.1 L537.1 225.7 L540.0 226.4 L542.9 227.1 L545.8 228.0 L548.6 229.0 L551.4 230.1 L554.1 231.3 L556.7 232.8 L559.2 234.4 L561.5 236.2 L563.7 238.2 L565.8 240.3 L567.7 242.6 L569.5 245.0 L571.3 247.4 L573.1 249.8 L574.8 252.2 L576.6 254.7 L578.4 257.1 L580.1 259.5 L581.9 262.0 L583.6 264.4 L585.3 266.8 L587.1 269.3 L588.8 271.8 L590.5 274.2 L592.3 276.7 L594.0 279.1 L595.7 281.5 L597.5 284.0 L599.2 286.4 L601.0 288.8 L602.8 291.3 L604.6 293.7 L606.4 296.1 L608.2 298.5 L610.0 300.9 L611.8 303.3 L613.6 305.6 L615.4 308.0 L617.2 310.4 L619.0 312.9 L620.8 315.3 L622.6 317.7 L624.3 320.1 L626.1 322.6 L627.8 325.0 L629.6 327.4 L631.3 329.9 L633.0 332.3 L634.8 334.8 L636.5 337.3 L638.2 339.7 L639.9 342.2 L641.6 344.7 L643.3 347.2 L644.9 349.7 L646.6 352.2 L648.2 354.7 L649.8 357.3 L651.3 359.8 L652.8 362.4 L654.3 365.0 L655.8 367.6 L657.2 370.3 L658.7 372.9 L660.1 375.5 L661.5 378.2 L663.0 380.8 L664.5 383.4 L666.0 386.0 L667.5 388.6 L669.0 391.2 L670.5 393.8 L671.9 396.4 L673.2 399.1 L674.5 401.8 L675.6 404.6 L676.7 407.4 L677.6 410.2 L678.5 413.1 L679.3 416.0 L680.1 418.9 L680.7 421.8 L681.3 424.7 L681.9 427.7 L682.4 430.7 L682.8 433.6 L683.1 436.6 L683.4 439.6 L683.6 442.6 L683.7 445.6 L683.8 448.6 L683.7 451.6 L683.6 454.5 L683.3 457.5 L682.8 460.5 L682.2 463.4 L681.5 466.3 L680.7 469.2 L679.7 472.0 L678.7 474.8 L677.6 477.6 L676.4 480.4 L675.1 483.1 L673.9 485.8 L672.6 488.5 L671.2 491.2 L669.8 493.8 L668.4 496.5 L666.9 499.1 L665.4 501.7 L663.8 504.2 L662.1 506.7 L660.4 509.1 L658.6 511.5 L656.7 513.8 L654.7 516.1 L652.7 518.3 L650.6 520.4 L648.4 522.5 L646.2 524.6 L644.0 526.5 L641.7 528.4 L639.3 530.2 L636.9 532.0 L634.3 533.6 L631.8 535.2 L629.2 536.6 L626.5 538.0 L623.8 539.3 L621.1 540.6 L618.3 541.7 L615.5 542.7 L612.6 543.5 L609.8 544.3 L606.8 545.0 L603.9 545.5 L600.9 546.0 L598.0 546.5 L595.0 546.9 L592.0 547.2 L589.0 547.6 L586.1 547.9 L583.1 548.3 L580.1 548.7 L577.1 549.0 L574.2 549.5 L571.2 549.9 L568.2 550.4 L565.3 550.9 L562.3 551.5 L559.4 552.0 L556.4 552.6 L553.5 553.2 L550.6 553.9 L547.6 554.5 L544.7 555.1 L541.7 555.7 L538.8 556.3 L535.9 556.9 L532.9 557.6 L530.0 558.2 L527.1 558.8 L524.1 559.4 L521.2 560.0 L518.3 560.7 L515.3 561.3 L512.4 561.9 L509.5 562.6 L506.5 563.2 L503.6 563.8 L500.7 564.5 L497.7 565.1 L494.8 565.7 L491.9 566.4 L488.9 567.0 L486.0 567.6 L483.1 568.3 L480.1 568.9 L477.2 569.5 L474.3 570.2 L471.3 570.8 L468.4 571.4 L465.5 572.0 L462.5 572.7 L459.6 573.3 L456.6 573.9 L453.7 574.5 L450.8 575.1 L447.8 575.7 L444.9 576.2 L441.9 576.8 L439.0 577.4 L436.0 577.9 L433.1 578.4 L430.1 578.9 L427.2 579.4 L424.2 579.9 L421.2 580.4 L418.3 580.8 L415.3 581.2 L412.3 581.6 L409.3 582.0 L406.4 582.3 L403.4 582.7 L400.4 583.1 L397.4 583.5 L394.4 583.9 L391.5 584.3 L388.5 584.7 L385.5 585.1 L382.6 585.6 L379.6 586.0 L376.6 586.5 L373.7 586.9 L370.7 587.4 L367.7 587.9 L364.8 588.3 L361.8 588.8 L358.8 589.2 L355.9 589.7 L352.9 590.1 L349.9 590.5 L347.0 591.0 L344.0 591.3 L341.0 591.7 L338.0 592.1 L335.0 592.4 L332.1 592.7 L329.1 593.0 L326.1 593.2 L323.1 593.5 L320.1 593.7 L317.1 593.9 L314.1 594.1 L311.1 594.2 L308.1 594.3 L305.1 594.4 L302.1 594.5 L299.1 594.5 L296.1 594.5 L293.1 594.4 L290.1 594.3 L287.1 594.2 L284.1 594.1 L281.1 593.9 L278.2 593.6 L275.2 593.2 L272.2 592.7 L269.3 592.0 L266.5 591.2 L263.7 590.2 L260.9 589.1 L258.3 587.7 L255.8 586.1 L253.4 584.4 L251.2 582.4 L249.2 580.2 L247.4 577.9 L245.9 575.4 L244.7 572.7 L243.7 569.9 L243.0 567.1 L242.6 564.2 L242.5 561.2 L242.6 558.3 L242.9 555.3 L243.5 552.4 L244.2 549.5 L245.1 546.6 L246.1 543.8 L247.3 541.1 L248.6 538.4 L250.0 535.7 L251.4 533.1 L253.0 530.6 L254.7 528.1 L256.4 525.6 L258.2 523.2 L260.0 520.8 L261.8 518.5 L263.7 516.1 L265.6 513.8 L267.5 511.5 L269.4 509.2 L271.4 506.9 L273.4 504.7 L275.4 502.5 L277.5 500.3 L279.5 498.1 L281.6 495.9 L283.7 493.8 L285.8 491.7 L288.0 489.6 L290.1 487.5 L292.3 485.4 L294.5 483.4 L296.8 481.4 L299.0 479.4 L301.3 477.5 L303.6 475.6 L305.9 473.6 L308.3 471.8 L310.6 469.9 L312.9 468.0 L315.3 466.2 L317.7 464.3 L320.1 462.5 L322.5 460.8 L325.0 459.0 L327.4 457.3 L329.9 455.6 L332.3 453.8 L334.7 452.1 L337.1 450.3 L339.5 448.4 L341.8 446.6 L344.2 444.7 L346.5 442.8 L348.8 440.8 L351.1 438.9 L353.4 437.0 L355.7 435.0 L357.9 433.1 L360.2 431.1 L362.4 429.1 L364.7 427.1 L366.9 425.1 L369.1 423.1 L371.4 421.1 L373.6 419.1 L375.9 417.1 L378.2 415.2 L380.5 413.3 L382.9 411.4"/>
<path d="M401.6 396.6 L403.8 394.5 L405.8 392.3 L407.8 390.0 L409.7 387.8 L411.7 385.5 L413.6 383.2 L415.6 380.9 L417.5 378.6 L419.5 376.4 L421.5 374.1 L423.5 371.9 L425.5 369.7 L427.5 367.5 L429.5 365.2 L431.4 362.9 L433.2 360.5 L435.0 358.1 L436.7 355.6 L438.3 353.1 L439.8 350.5 L441.2 347.9 L442.6 345.2 L444.1 342.6 L445.5 339.9 L446.9 337.3 L448.3 334.6 L449.7 332.0 L451.2 329.3 L452.6 326.7 L454.0 324.1 L455.5 321.5 L457.0 318.9 L458.5 316.2 L460.0 313.7 L461.5 311.1 L463.1 308.5 L464.7 306.0 L466.3 303.4 L467.9 300.9 L469.5 298.3 L471.0 295.8 L472.6 293.2 L474.1 290.6 L475.5 288.0 L477.0 285.4 L478.5 282.8 L480.0 280.2 L481.6 277.7 L483.3 275.2 L485.0 272.7 L486.8 270.3 L488.6 267.9 L490.4 265.6 L492.3 263.2 L494.2 260.9 L496.2 258.6 L498.1 256.3 L500.1 254.1 L502.1 251.9 L504.1 249.7 L506.2 247.5 L508.3 245.3 L510.4 243.2 L512.5 241.1 L514.7 239.0 L516.9 237.0 L519.2 235.0 L521.4 233.0 L523.7 231.0 L525.9 229.1 L528.2 227.1 L530.5 225.2 L531.2 224.5"/>
</g>
<path d="M119.7 488 V667.6" stroke="#181c40" stroke-width="0.9" fill="none"/>
<path d="M119.7 667.6 H300" stroke="#1f2450" stroke-width="1" fill="none"/>
</g>
<g fill="#1b1b1f">
<rect x="90" y="217" width="771.5" height="2.8"/>
<rect x="90" y="217" width="2.6" height="456.7"/>
<rect x="858.3" y="217" width="3.2" height="456.7"/>
<rect x="90" y="671.9" width="771.5" height="1.9"/>
<rect x="199.5" y="219" width="3" height="4.4"/>
<rect x="200.4" y="668.3" width="1.2" height="4"/>
<rect x="309.5" y="219" width="3" height="4.4"/>
<rect x="310.4" y="668.3" width="1.2" height="4"/>
<rect x="419.5" y="219" width="3" height="4.4"/>
<rect x="420.4" y="668.3" width="1.2" height="4"/>
<rect x="529.5" y="219" width="3" height="4.4"/>
<rect x="530.4" y="668.3" width="1.2" height="4"/>
<rect x="639.5" y="219" width="3" height="4.4"/>
<rect x="640.4" y="668.3" width="1.2" height="4"/>
<rect x="749.5" y="219" width="3" height="4.4"/>
<rect x="750.4" y="668.3" width="1.2" height="4"/>
<rect x="92" y="305.0" width="4.8" height="2.2" fill="#15183a"/>
<rect x="92" y="395.7" width="4.8" height="2.2" fill="#15183a"/>
<rect x="92" y="486.7" width="4.8" height="2.2" fill="#15183a"/>
<rect x="92" y="577.1" width="4.8" height="2.2" fill="#15183a"/>
<rect x="854.8" y="286.7" width="4" height="2.2"/>
<rect x="854.8" y="377.4" width="4" height="2.2"/>
<rect x="854.8" y="468.3" width="4" height="2.2"/>
<rect x="854.8" y="576.1" width="4" height="2.2"/>
</g>
<rect x="888.5" y="643.50" width="21" height="31.30" fill="#2e3264"/>
<rect x="888.5" y="613.80" width="21" height="30.00" fill="#303c82"/>
<rect x="888.5" y="583.55" width="21" height="30.55" fill="#2f5ca8"/>
<rect x="888.5" y="553.30" width="21" height="30.55" fill="#3769b1"/>
<rect x="888.5" y="523.05" width="21" height="30.55" fill="#3e7dbe"/>
<rect x="888.5" y="492.80" width="21" height="30.55" fill="#26aae1"/>
<rect x="888.5" y="462.55" width="21" height="30.55" fill="#64bbad"/>
<rect x="888.5" y="432.30" width="21" height="30.55" fill="#73b987"/>
<rect x="888.5" y="402.00" width="21" height="30.60" fill="#91c369"/>
<rect x="888.5" y="371.70" width="21" height="30.60" fill="#b9d255"/>
<rect x="888.5" y="341.40" width="21" height="30.60" fill="#ebc841"/>
<rect x="888.5" y="311.10" width="21" height="30.60" fill="#ee8c37"/>
<rect x="888.5" y="280.85" width="21" height="30.55" fill="#e45a32"/>
<rect x="888.5" y="250.60" width="21" height="30.55" fill="#de3228"/>
<rect x="888.5" y="218.30" width="21" height="32.60" fill="#962a2e"/>
<g fill="#1b1b1f">
<rect x="887.8" y="217.6" width="1.8" height="457.4"/>
<rect x="908" y="217.6" width="2.6" height="457.4"/>
<rect x="887.8" y="217.6" width="22.8" height="1.4"/>
<rect x="887.8" y="672.4" width="22.8" height="2.6"/>
<rect x="910" y="672.5" width="4.4" height="2.6"/>
<rect x="910" y="612.5" width="4.4" height="2.6"/>
<rect x="910" y="552.0" width="4.4" height="2.6"/>
<rect x="910" y="491.5" width="4.4" height="2.6"/>
<rect x="910" y="431.0" width="4.4" height="2.6"/>
<rect x="910" y="370.4" width="4.4" height="2.6"/>
<rect x="910" y="309.8" width="4.4" height="2.6"/>
<rect x="910" y="249.3" width="4.4" height="2.6"/>
</g>
<g font-family="'Liberation Sans', sans-serif">
<text x="921.6" y="678.4" font-size="17.4" textLength="24.0" lengthAdjust="spacingAndGlyphs" fill="#333" stroke="#333" stroke-width="0.65">0.00</text>
<text x="921.6" y="618.4" font-size="17.4" textLength="29.6" lengthAdjust="spacingAndGlyphs" fill="#333" stroke="#333" stroke-width="0.65">83.07</text>
<text x="921.6" y="557.9" font-size="17.4" textLength="28.6" lengthAdjust="spacingAndGlyphs" fill="#333" stroke="#333" stroke-width="0.65">85.21</text>
<text x="921.6" y="497.4" font-size="17.4" textLength="29.6" lengthAdjust="spacingAndGlyphs" fill="#333" stroke="#333" stroke-width="0.65">87.36</text>
<text x="921.6" y="436.9" font-size="17.4" textLength="32.6" lengthAdjust="spacingAndGlyphs" fill="#333" stroke="#333" stroke-width="0.65">89.50</text>
<text x="921.6" y="376.3" font-size="17.4" textLength="28.9" lengthAdjust="spacingAndGlyphs" fill="#333" stroke="#333" stroke-width="0.65">91.64</text>
<text x="921.6" y="315.7" font-size="17.4" textLength="30.4" lengthAdjust="spacingAndGlyphs" fill="#333" stroke="#333" stroke-width="0.65">93.79</text>
<text x="921.6" y="255.2" font-size="17.4" textLength="32.6" lengthAdjust="spacingAndGlyphs" fill="#333" stroke="#333" stroke-width="0.65">95.93</text>
<text x="186.2" y="694.1" font-size="17.2" textLength="30.2" lengthAdjust="spacingAndGlyphs" fill="#333" stroke="#333" stroke-width="0.65">2000</text>
<text x="296.2" y="694.1" font-size="17.2" textLength="30.2" lengthAdjust="spacingAndGlyphs" fill="#333" stroke="#333" stroke-width="0.65">4000</text>
<text x="406.2" y="694.1" font-size="17.2" textLength="30.2" lengthAdjust="spacingAndGlyphs" fill="#333" stroke="#333" stroke-width="0.65">6000</text>
<text x="516.2" y="694.1" font-size="17.2" textLength="30.2" lengthAdjust="spacingAndGlyphs" fill="#333" stroke="#333" stroke-width="0.65">8000</text>
<text x="623.8" y="694.1" font-size="17.2" textLength="35.0" lengthAdjust="spacingAndGlyphs" fill="#333" stroke="#333" stroke-width="0.65">10000</text>
<text x="733.8" y="694.1" font-size="17.2" textLength="35.0" lengthAdjust="spacingAndGlyphs" fill="#333" stroke="#333" stroke-width="0.65">12000</text>
<text x="844.3" y="694.1" font-size="17.2" textLength="35.0" lengthAdjust="spacingAndGlyphs" fill="#333" stroke="#333" stroke-width="0.65">14000</text>
<text x="71.0" y="311.5" font-size="16.9" textLength="14.3" lengthAdjust="spacingAndGlyphs" fill="#333" stroke="#333" stroke-width="0.65">80</text>
<text x="71.0" y="403.6" font-size="16.9" textLength="14.3" lengthAdjust="spacingAndGlyphs" fill="#333" stroke="#333" stroke-width="0.65">60</text>
<text x="71.0" y="494.8" font-size="16.9" textLength="14.3" lengthAdjust="spacingAndGlyphs" fill="#333" stroke="#333" stroke-width="0.65">40</text>
<text x="71.0" y="585.4" font-size="16.9" textLength="14.3" lengthAdjust="spacingAndGlyphs" fill="#333" stroke="#333" stroke-width="0.65">20</text>
<text x="78.3" y="679.3" font-size="16.9" textLength="7.0" lengthAdjust="spacingAndGlyphs" fill="#333" stroke="#333" stroke-width="0.65">0</text>
<text x="165.2" y="505.4" font-size="16.8" textLength="14.2" lengthAdjust="spacingAndGlyphs" fill="#0e0a08" stroke="#0e0a08" stroke-width="0.8" opacity="0.8">93</text>
<text x="384.1" y="410.2" font-size="16.8" textLength="14.2" lengthAdjust="spacingAndGlyphs" fill="#0e0a08" stroke="#0e0a08" stroke-width="0.8" opacity="0.8">96</text>
<text x="581.1" y="594.5" font-size="16.8" textLength="14.2" lengthAdjust="spacingAndGlyphs" fill="#0e0a08" stroke="#0e0a08" stroke-width="0.8" opacity="0.8">95</text>
<text x="798.5" y="557.2" font-size="16.8" textLength="14.2" lengthAdjust="spacingAndGlyphs" fill="#0e0a08" stroke="#0e0a08" stroke-width="0.8" opacity="0.8">94</text>
<text x="641.5" y="628.5" font-size="16.8" textLength="14.2" lengthAdjust="spacingAndGlyphs" fill="#0e0a08" stroke="#0e0a08" stroke-width="0.8" opacity="0.8">92</text>
<text x="614.0" y="638.5" font-size="16.8" textLength="14.2" lengthAdjust="spacingAndGlyphs" fill="#0e0a08" stroke="#0e0a08" stroke-width="0.8" opacity="0.8">91</text>
<text x="574.6" y="645.6" font-size="16.8" textLength="14.2" lengthAdjust="spacingAndGlyphs" fill="#0e0a08" stroke="#0e0a08" stroke-width="0.8" opacity="0.8">90</text>
<text x="530.9" y="650.5" font-size="16.8" textLength="14.2" lengthAdjust="spacingAndGlyphs" fill="#0e0a08" stroke="#0e0a08" stroke-width="0.8" opacity="0.8">88</text>
<text x="502.9" y="654.0" font-size="16.8" textLength="14.2" lengthAdjust="spacingAndGlyphs" fill="#0e0a08" stroke="#0e0a08" stroke-width="0.8" opacity="0.8">87</text>
<text x="474.1" y="657.2" font-size="16.8" textLength="14.2" lengthAdjust="spacingAndGlyphs" fill="#0e0a08" stroke="#0e0a08" stroke-width="0.8" opacity="0.8">86</text>
<text x="434.4" y="661.2" font-size="16.8" textLength="14.2" lengthAdjust="spacingAndGlyphs" fill="#0e0a08" stroke="#0e0a08" stroke-width="0.8" opacity="0.8">84</text>
<text x="749.8" y="648.2" font-size="16.8" textLength="14.2" lengthAdjust="spacingAndGlyphs" fill="#0e0a08" stroke="#0e0a08" stroke-width="0.8" opacity="0.8">85</text>
<text x="718.5" y="658.8" font-size="16.8" textLength="14.2" lengthAdjust="spacingAndGlyphs" fill="#0e0a08" stroke="#0e0a08" stroke-width="0.8" opacity="0.8">82</text>
<text x="416" y="729.5" font-size="17.3" textLength="108" lengthAdjust="spacing" fill="#333" stroke="#333" stroke-width="0.25">Speed ( rpm )</text>
<text transform="translate(53.4 526.3) rotate(-90)" font-size="17.5" textLength="155.6" lengthAdjust="spacing" fill="#333" stroke="#333" stroke-width="0.25">Shaft Torque ( Nm )</text>
<text transform="translate(992.6 507) rotate(-90)" font-size="17.5" textLength="117.2" lengthAdjust="spacing" fill="#333" stroke="#333" stroke-width="0.25">Efficiency ( % )</text>
<text x="244.5" y="806.3" font-size="36" textLength="463" lengthAdjust="spacing" fill="#1c1c1c" stroke="#1c1c1c" stroke-width="0.5">96V 1050PA Efficiency Map</text>
</g>
</svg>
</body></html>
